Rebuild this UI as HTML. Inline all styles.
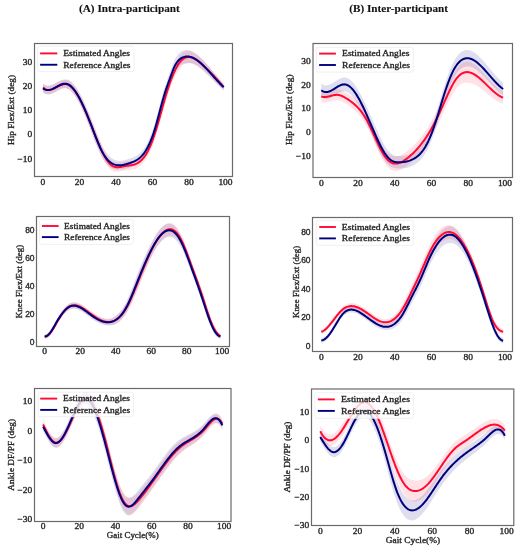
<!DOCTYPE html>
<html><head><meta charset="utf-8"><style>
html,body{margin:0;padding:0;background:#fff;}
body{width:520px;height:550px;overflow:hidden;}
svg{display:block;filter:blur(0.3px);}
text{filter:grayscale(1);stroke:#262626;stroke-width:0.34px;}
text[font-weight=bold]{stroke-width:0.1px;stroke:#111;}
</style></head><body>
<svg width="520" height="550" viewBox="0 0 520 550">
<rect width="520" height="550" fill="#fff"/>
<clipPath id="clipA1"><rect x="34.5" y="43.5" width="198.0" height="133.0"/></clipPath>
<g clip-path="url(#clipA1)">
<path d="M43.00,84.07 L43.76,84.59 L44.51,85.01 L45.27,85.33 L46.02,85.55 L46.78,85.68 L47.54,85.74 L48.29,85.72 L49.05,85.63 L49.80,85.48 L50.56,85.28 L51.32,85.03 L52.07,84.73 L52.83,84.40 L53.58,84.04 L54.34,83.65 L55.10,83.25 L55.85,82.84 L56.61,82.42 L57.36,82.00 L58.12,81.60 L58.88,81.20 L59.63,80.83 L60.39,80.49 L61.14,80.18 L61.90,79.91 L62.66,79.68 L63.41,79.51 L64.17,79.40 L64.92,79.35 L65.68,79.33 L66.43,79.38 L67.19,79.52 L67.95,79.75 L68.70,80.06 L69.46,80.47 L70.21,80.95 L70.97,81.52 L71.73,82.17 L72.48,82.90 L73.24,83.70 L73.99,84.57 L74.75,85.52 L75.51,86.53 L76.26,87.61 L77.02,88.75 L77.77,89.96 L78.53,91.22 L79.29,92.55 L80.04,93.90 L80.80,95.31 L81.55,96.76 L82.31,98.27 L83.07,99.81 L83.82,101.41 L84.58,103.04 L85.33,104.71 L86.09,106.42 L86.85,108.17 L87.60,109.94 L88.36,111.75 L89.11,113.58 L89.87,115.44 L90.63,117.33 L91.38,119.23 L92.14,121.14 L92.89,123.06 L93.65,124.98 L94.41,126.95 L95.16,128.99 L95.92,131.01 L96.67,132.99 L97.43,134.94 L98.19,136.84 L98.94,138.69 L99.70,140.48 L100.45,142.20 L101.21,143.84 L101.97,145.40 L102.72,146.88 L103.48,148.26 L104.23,149.55 L104.99,150.77 L105.74,151.89 L106.50,152.94 L107.26,153.91 L108.01,154.81 L108.77,155.64 L109.52,156.38 L110.28,157.06 L111.04,157.68 L111.79,158.24 L112.55,158.73 L113.30,159.17 L114.06,159.56 L114.82,159.89 L115.57,160.17 L116.33,160.41 L117.08,160.61 L117.84,160.76 L118.60,160.87 L119.35,160.95 L120.11,160.95 L120.86,160.88 L121.62,160.79 L122.38,160.67 L123.13,160.53 L123.89,160.36 L124.64,160.17 L125.40,159.97 L126.16,159.75 L126.91,159.52 L127.67,159.28 L128.42,159.03 L129.18,158.78 L129.94,158.52 L130.69,158.26 L131.45,157.99 L132.20,157.70 L132.96,157.40 L133.72,157.08 L134.47,156.73 L135.23,156.35 L135.98,155.94 L136.74,155.49 L137.50,155.01 L138.25,154.48 L139.01,153.90 L139.76,153.27 L140.52,152.59 L141.28,151.84 L142.03,151.04 L142.79,150.17 L143.54,149.20 L144.30,148.09 L145.05,146.89 L145.81,145.62 L146.57,144.26 L147.32,142.81 L148.08,141.27 L148.83,139.64 L149.59,137.91 L150.35,136.07 L151.10,134.14 L151.86,132.09 L152.61,129.93 L153.37,127.65 L154.13,125.25 L154.88,122.73 L155.64,120.09 L156.39,117.33 L157.15,114.49 L157.91,111.58 L158.66,108.74 L159.42,105.90 L160.17,103.05 L160.93,100.21 L161.69,97.41 L162.44,94.66 L163.20,91.99 L163.95,89.42 L164.71,86.97 L165.47,84.63 L166.22,82.39 L166.98,80.22 L167.73,78.11 L168.49,76.04 L169.25,73.98 L170.00,71.93 L170.76,69.87 L171.51,67.75 L172.27,65.68 L173.03,63.69 L173.78,61.83 L174.54,60.13 L175.29,58.61 L176.05,57.26 L176.81,56.08 L177.56,55.03 L178.32,54.12 L179.07,53.33 L179.83,52.64 L180.59,52.05 L181.34,51.54 L182.10,51.11 L182.85,50.73 L183.61,50.41 L184.36,50.15 L185.12,49.95 L185.88,49.86 L186.63,49.86 L187.39,49.91 L188.14,50.01 L188.90,50.16 L189.66,50.35 L190.41,50.59 L191.17,50.88 L191.92,51.21 L192.68,51.58 L193.44,51.99 L194.19,52.44 L194.95,52.93 L195.70,53.45 L196.46,54.00 L197.22,54.59 L197.97,55.21 L198.73,55.86 L199.48,56.53 L200.24,57.23 L201.00,57.96 L201.75,58.71 L202.51,59.48 L203.26,60.27 L204.02,61.08 L204.78,61.91 L205.53,62.75 L206.29,63.61 L207.04,64.48 L207.80,65.36 L208.56,66.25 L209.31,67.15 L210.07,68.06 L210.82,68.97 L211.58,69.88 L212.34,70.80 L213.09,71.72 L213.85,72.63 L214.60,73.55 L215.36,74.46 L216.12,75.36 L216.87,76.26 L217.63,77.14 L218.38,78.02 L219.14,78.89 L219.90,79.74 L220.65,80.58 L221.41,81.41 L222.16,82.21 L222.92,83.00 L223.67,83.76 L223.67,90.51 L222.92,89.88 L222.16,89.22 L221.41,88.55 L220.65,87.86 L219.90,87.16 L219.14,86.44 L218.38,85.70 L217.63,84.96 L216.87,84.20 L216.12,83.44 L215.36,82.67 L214.60,81.89 L213.85,81.11 L213.09,80.33 L212.34,79.54 L211.58,78.76 L210.82,77.98 L210.07,77.20 L209.31,76.43 L208.56,75.66 L207.80,74.91 L207.04,74.16 L206.29,73.42 L205.53,72.70 L204.78,71.99 L204.02,71.29 L203.26,70.61 L202.51,69.96 L201.75,69.32 L201.00,68.70 L200.24,68.11 L199.48,67.54 L198.73,67.00 L197.97,66.48 L197.22,66.00 L196.46,65.54 L195.70,65.12 L194.95,64.73 L194.19,64.38 L193.44,64.06 L192.68,63.79 L191.92,63.55 L191.17,63.35 L190.41,63.20 L189.66,63.09 L188.90,63.03 L188.14,63.01 L187.39,63.05 L186.63,63.13 L185.88,63.27 L185.12,63.43 L184.36,63.58 L183.61,63.79 L182.85,64.06 L182.10,64.39 L181.34,64.78 L180.59,65.23 L179.83,65.77 L179.07,66.41 L178.32,67.15 L177.56,68.01 L176.81,69.01 L176.05,70.15 L175.29,71.44 L174.54,72.91 L173.78,74.56 L173.03,76.37 L172.27,78.31 L171.51,80.34 L170.76,82.40 L170.00,84.52 L169.25,86.63 L168.49,88.74 L167.73,90.87 L166.98,93.04 L166.22,95.26 L165.47,97.56 L164.71,99.96 L163.95,102.47 L163.20,105.10 L162.44,107.82 L161.69,110.62 L160.93,113.48 L160.17,116.38 L159.42,119.29 L158.66,122.19 L157.91,125.05 L157.15,127.74 L156.39,130.36 L155.64,132.89 L154.88,135.31 L154.13,137.61 L153.37,139.78 L152.61,141.83 L151.86,143.77 L151.10,145.59 L150.35,147.30 L149.59,148.91 L148.83,150.42 L148.08,151.83 L147.32,153.14 L146.57,154.36 L145.81,155.50 L145.05,156.55 L144.30,157.52 L143.54,158.41 L142.79,159.31 L142.03,160.17 L141.28,160.96 L140.52,161.69 L139.76,162.35 L139.01,162.97 L138.25,163.53 L137.50,164.04 L136.74,164.52 L135.98,164.95 L135.23,165.34 L134.47,165.70 L133.72,166.04 L132.96,166.35 L132.20,166.63 L131.45,166.90 L130.69,167.16 L129.94,167.41 L129.18,167.65 L128.42,167.89 L127.67,168.12 L126.91,168.34 L126.16,168.56 L125.40,168.76 L124.64,168.95 L123.89,169.12 L123.13,169.27 L122.38,169.40 L121.62,169.51 L120.86,169.58 L120.11,169.63 L119.35,169.68 L118.60,169.73 L117.84,169.75 L117.08,169.73 L116.33,169.67 L115.57,169.57 L114.82,169.42 L114.06,169.22 L113.30,168.96 L112.55,168.66 L111.79,168.30 L111.04,167.87 L110.28,167.39 L109.52,166.84 L108.77,166.23 L108.01,165.55 L107.26,164.80 L106.50,163.98 L105.74,163.08 L104.99,162.10 L104.23,161.04 L103.48,159.90 L102.72,158.66 L101.97,157.34 L101.21,155.93 L100.45,154.43 L99.70,152.86 L98.94,151.23 L98.19,149.53 L97.43,147.78 L96.67,145.98 L95.92,144.14 L95.16,142.28 L94.41,140.39 L93.65,138.39 L92.89,136.32 L92.14,134.25 L91.38,132.19 L90.63,130.14 L89.87,128.10 L89.11,126.09 L88.36,124.11 L87.60,122.15 L86.85,120.23 L86.09,118.33 L85.33,116.47 L84.58,114.65 L83.82,112.87 L83.07,111.12 L82.31,109.43 L81.55,107.77 L80.80,106.17 L80.04,104.62 L79.29,103.12 L78.53,101.70 L77.77,100.33 L77.02,99.03 L76.26,97.79 L75.51,96.61 L74.75,95.49 L73.99,94.45 L73.24,93.47 L72.48,92.57 L71.73,91.75 L70.97,91.00 L70.21,90.33 L69.46,89.74 L68.70,89.24 L67.95,88.82 L67.19,88.50 L66.43,88.26 L65.68,88.11 L64.92,88.03 L64.17,88.08 L63.41,88.19 L62.66,88.36 L61.90,88.58 L61.14,88.85 L60.39,89.16 L59.63,89.51 L58.88,89.88 L58.12,90.27 L57.36,90.68 L56.61,91.10 L55.85,91.51 L55.10,91.93 L54.34,92.33 L53.58,92.71 L52.83,93.07 L52.07,93.41 L51.32,93.70 L50.56,93.96 L49.80,94.16 L49.05,94.31 L48.29,94.40 L47.54,94.42 L46.78,94.36 L46.02,94.22 L45.27,94.00 L44.51,93.69 L43.76,93.27 L43.00,92.75Z" fill="#00007f" fill-opacity="0.13" stroke="none"/>
<path d="M43.00,83.10 L43.76,83.80 L44.51,84.38 L45.27,84.84 L46.02,85.21 L46.78,85.47 L47.54,85.64 L48.29,85.72 L49.05,85.73 L49.80,85.67 L50.56,85.54 L51.32,85.35 L52.07,85.12 L52.83,84.84 L53.58,84.52 L54.34,84.17 L55.10,83.80 L55.85,83.42 L56.61,83.02 L57.36,82.62 L58.12,82.23 L58.88,81.84 L59.63,81.48 L60.39,81.14 L61.14,80.83 L61.90,80.56 L62.66,80.33 L63.41,80.16 L64.17,80.04 L64.92,79.99 L65.68,79.96 L66.43,80.00 L67.19,80.13 L67.95,80.36 L68.70,80.67 L69.46,81.07 L70.21,81.56 L70.97,82.13 L71.73,82.79 L72.48,83.52 L73.24,84.32 L73.99,85.20 L74.75,86.15 L75.51,87.17 L76.26,88.25 L77.02,89.40 L77.77,90.60 L78.53,91.87 L79.29,93.18 L80.04,94.55 L80.80,95.96 L81.55,97.41 L82.31,98.91 L83.07,100.46 L83.82,102.04 L84.58,103.67 L85.33,105.32 L86.09,107.01 L86.85,108.73 L87.60,110.48 L88.36,112.25 L89.11,114.04 L89.87,115.85 L90.63,117.68 L91.38,119.53 L92.14,121.38 L92.89,123.24 L93.65,125.10 L94.41,127.01 L95.16,128.98 L95.92,130.93 L96.67,132.87 L97.43,134.79 L98.19,136.68 L98.94,138.54 L99.70,140.36 L100.45,142.14 L101.21,143.87 L101.97,145.56 L102.72,147.18 L103.48,148.75 L104.23,150.25 L104.99,151.69 L105.74,153.04 L106.50,154.33 L107.26,155.52 L108.01,156.63 L108.77,157.65 L109.52,158.55 L110.28,159.36 L111.04,160.06 L111.79,160.67 L112.55,161.18 L113.30,161.62 L114.06,161.97 L114.82,162.25 L115.57,162.47 L116.33,162.62 L117.08,162.72 L117.84,162.77 L118.60,162.79 L119.35,162.76 L120.11,162.67 L120.86,162.54 L121.62,162.39 L122.38,162.22 L123.13,162.06 L123.89,161.89 L124.64,161.73 L125.40,161.58 L126.16,161.45 L126.91,161.34 L127.67,161.23 L128.42,161.13 L129.18,161.03 L129.94,160.93 L130.69,160.81 L131.45,160.69 L132.20,160.54 L132.96,160.37 L133.72,160.18 L134.47,159.95 L135.23,159.69 L135.98,159.39 L136.74,159.03 L137.50,158.63 L138.25,158.18 L139.01,157.67 L139.76,157.10 L140.52,156.46 L141.28,155.77 L142.03,155.00 L142.79,154.16 L143.54,153.23 L144.30,152.16 L145.05,151.01 L145.81,149.78 L146.57,148.46 L147.32,147.05 L148.08,145.55 L148.83,143.96 L149.59,142.27 L150.35,140.47 L151.10,138.57 L151.86,136.57 L152.61,134.46 L153.37,132.26 L154.13,129.96 L154.88,127.58 L155.64,125.13 L156.39,122.60 L157.15,120.02 L157.91,117.37 L158.66,114.77 L159.42,112.14 L160.17,109.48 L160.93,106.78 L161.69,104.07 L162.44,101.35 L163.20,98.64 L163.95,95.96 L164.71,93.32 L165.47,90.73 L166.22,88.21 L166.98,85.77 L167.73,83.40 L168.49,81.11 L169.25,78.89 L170.00,76.75 L170.76,74.68 L171.51,72.67 L172.27,70.73 L173.03,68.86 L173.78,67.08 L174.54,65.38 L175.29,63.77 L176.05,62.25 L176.81,60.81 L177.56,59.48 L178.32,58.24 L179.07,57.11 L179.83,56.08 L180.59,55.14 L181.34,54.31 L182.10,53.57 L182.85,52.92 L183.61,52.36 L184.36,51.89 L185.12,51.50 L185.88,51.23 L186.63,51.06 L187.39,50.97 L188.14,50.95 L188.90,50.99 L189.66,51.10 L190.41,51.27 L191.17,51.50 L191.92,51.78 L192.68,52.11 L193.44,52.50 L194.19,52.93 L194.95,53.40 L195.70,53.92 L196.46,54.47 L197.22,55.05 L197.97,55.67 L198.73,56.32 L199.48,56.99 L200.24,57.68 L201.00,58.39 L201.75,59.12 L202.51,59.86 L203.26,60.61 L204.02,61.37 L204.78,62.13 L205.53,62.90 L206.29,63.68 L207.04,64.47 L207.80,65.27 L208.56,66.07 L209.31,66.88 L210.07,67.70 L210.82,68.53 L211.58,69.36 L212.34,70.20 L213.09,71.05 L213.85,71.90 L214.60,72.77 L215.36,73.64 L216.12,74.52 L216.87,75.40 L217.63,76.30 L218.38,77.20 L219.14,78.11 L219.90,79.03 L220.65,79.95 L221.41,80.89 L222.16,81.83 L222.92,82.78 L223.67,83.73 L223.67,90.48 L222.92,89.64 L222.16,88.80 L221.41,87.98 L220.65,87.16 L219.90,86.35 L219.14,85.54 L218.38,84.75 L217.63,83.96 L216.87,83.18 L216.12,82.41 L215.36,81.64 L214.60,80.88 L213.85,80.13 L213.09,79.39 L212.34,78.66 L211.58,77.93 L210.82,77.21 L210.07,76.50 L209.31,75.80 L208.56,75.10 L207.80,74.41 L207.04,73.73 L206.29,73.06 L205.53,72.39 L204.78,71.73 L204.02,71.08 L203.26,70.44 L202.51,69.80 L201.75,69.17 L201.00,68.56 L200.24,67.96 L199.48,67.38 L198.73,66.83 L197.97,66.30 L197.22,65.79 L196.46,65.32 L195.70,64.89 L194.95,64.49 L194.19,64.13 L193.44,63.81 L192.68,63.54 L191.92,63.32 L191.17,63.15 L190.41,63.04 L189.66,62.98 L188.90,62.99 L188.14,63.06 L187.39,63.19 L186.63,63.40 L185.88,63.68 L185.12,64.02 L184.36,64.39 L183.61,64.84 L182.85,65.37 L182.10,65.99 L181.34,66.71 L180.59,67.52 L179.83,68.42 L179.07,69.43 L178.32,70.54 L177.56,71.75 L176.81,73.06 L176.05,74.47 L175.29,75.97 L174.54,77.56 L173.78,79.23 L173.03,80.99 L172.27,82.83 L171.51,84.74 L170.76,86.73 L170.00,88.83 L169.25,91.00 L168.49,93.25 L167.73,95.57 L166.98,97.96 L166.22,100.43 L165.47,102.98 L164.71,105.60 L163.95,108.27 L163.20,110.98 L162.44,113.71 L161.69,116.46 L160.93,119.20 L160.17,121.92 L159.42,124.62 L158.66,127.28 L157.91,129.89 L157.15,132.36 L156.39,134.77 L155.64,137.12 L154.88,139.40 L154.13,141.60 L153.37,143.72 L152.61,145.75 L151.86,147.69 L151.10,149.52 L150.35,151.24 L149.59,152.86 L148.83,154.38 L148.08,155.80 L147.32,157.12 L146.57,158.36 L145.81,159.50 L145.05,160.56 L144.30,161.53 L143.54,162.43 L142.79,163.31 L142.03,164.13 L141.28,164.88 L140.52,165.56 L139.76,166.18 L139.01,166.74 L138.25,167.23 L137.50,167.67 L136.74,168.06 L135.98,168.39 L135.23,168.68 L134.47,168.93 L133.72,169.14 L132.96,169.32 L132.20,169.47 L131.45,169.60 L130.69,169.71 L129.94,169.81 L129.18,169.90 L128.42,169.98 L127.67,170.07 L126.91,170.16 L126.16,170.26 L125.40,170.37 L124.64,170.51 L123.89,170.65 L123.13,170.80 L122.38,170.96 L121.62,171.10 L120.86,171.24 L120.11,171.36 L119.35,171.48 L118.60,171.60 L117.84,171.69 L117.08,171.74 L116.33,171.73 L115.57,171.68 L114.82,171.56 L114.06,171.38 L113.30,171.13 L112.55,170.80 L111.79,170.38 L111.04,169.88 L110.28,169.27 L109.52,168.57 L108.77,167.76 L108.01,166.87 L107.26,165.88 L106.50,164.81 L105.74,163.65 L104.99,162.42 L104.23,161.11 L103.48,159.73 L102.72,158.29 L101.97,156.79 L101.21,155.23 L100.45,153.62 L99.70,151.97 L98.94,150.27 L98.19,148.54 L97.43,146.77 L96.67,144.98 L95.92,143.17 L95.16,141.33 L94.41,139.49 L93.65,137.56 L92.89,135.57 L92.14,133.59 L91.38,131.61 L90.63,129.64 L89.87,127.69 L89.11,125.75 L88.36,123.83 L87.60,121.94 L86.85,120.06 L86.09,118.22 L85.33,116.41 L84.58,114.63 L83.82,112.88 L83.07,111.17 L82.31,109.50 L81.55,107.87 L80.80,106.29 L80.04,104.76 L79.29,103.28 L78.53,101.86 L77.77,100.50 L77.02,99.19 L76.26,97.94 L75.51,96.76 L74.75,95.65 L73.99,94.60 L73.24,93.62 L72.48,92.71 L71.73,91.88 L70.97,91.13 L70.21,90.46 L69.46,89.87 L68.70,89.37 L67.95,88.95 L67.19,88.63 L66.43,88.40 L65.68,88.25 L64.92,88.19 L64.17,88.25 L63.41,88.38 L62.66,88.57 L61.90,88.82 L61.14,89.10 L60.39,89.43 L59.63,89.79 L58.88,90.17 L58.12,90.57 L57.36,90.98 L56.61,91.40 L55.85,91.81 L55.10,92.21 L54.34,92.60 L53.58,92.96 L52.83,93.30 L52.07,93.60 L51.32,93.85 L50.56,94.05 L49.80,94.19 L49.05,94.27 L48.29,94.28 L47.54,94.21 L46.78,94.06 L46.02,93.81 L45.27,93.47 L44.51,93.02 L43.76,92.46 L43.00,91.78Z" fill="#ff0a33" fill-opacity="0.12" stroke="none"/>
<path d="M43.00,87.44 L43.76,88.13 L44.51,88.70 L45.27,89.16 L46.02,89.51 L46.78,89.76 L47.54,89.93 L48.29,90.00 L49.05,90.00 L49.80,89.93 L50.56,89.80 L51.32,89.60 L52.07,89.36 L52.83,89.07 L53.58,88.74 L54.34,88.39 L55.10,88.01 L55.85,87.61 L56.61,87.21 L57.36,86.80 L58.12,86.40 L58.88,86.01 L59.63,85.63 L60.39,85.28 L61.14,84.97 L61.90,84.69 L62.66,84.45 L63.41,84.27 L64.17,84.15 L64.92,84.09 L65.68,84.11 L66.43,84.20 L67.19,84.38 L67.95,84.66 L68.70,85.02 L69.46,85.47 L70.21,86.01 L70.97,86.63 L71.73,87.33 L72.48,88.11 L73.24,88.97 L73.99,89.90 L74.75,90.90 L75.51,91.96 L76.26,93.10 L77.02,94.29 L77.77,95.55 L78.53,96.86 L79.29,98.23 L80.04,99.65 L80.80,101.12 L81.55,102.64 L82.31,104.21 L83.07,105.81 L83.82,107.46 L84.58,109.15 L85.33,110.86 L86.09,112.62 L86.85,114.40 L87.60,116.21 L88.36,118.04 L89.11,119.90 L89.87,121.77 L90.63,123.66 L91.38,125.57 L92.14,127.49 L92.89,129.41 L93.65,131.33 L94.41,133.25 L95.16,135.16 L95.92,137.05 L96.67,138.93 L97.43,140.78 L98.19,142.61 L98.94,144.41 L99.70,146.16 L100.45,147.88 L101.21,149.55 L101.97,151.17 L102.72,152.74 L103.48,154.24 L104.23,155.68 L104.99,157.05 L105.74,158.35 L106.50,159.57 L107.26,160.70 L108.01,161.75 L108.77,162.70 L109.52,163.56 L110.28,164.32 L111.04,164.97 L111.79,165.53 L112.55,165.99 L113.30,166.37 L114.06,166.68 L114.82,166.91 L115.57,167.07 L116.33,167.18 L117.08,167.23 L117.84,167.23 L118.60,167.19 L119.35,167.12 L120.11,167.02 L120.86,166.89 L121.62,166.75 L122.38,166.59 L123.13,166.43 L123.89,166.27 L124.64,166.12 L125.40,165.98 L126.16,165.85 L126.91,165.75 L127.67,165.65 L128.42,165.56 L129.18,165.46 L129.94,165.37 L130.69,165.26 L131.45,165.14 L132.20,165.01 L132.96,164.85 L133.72,164.66 L134.47,164.44 L135.23,164.19 L135.98,163.89 L136.74,163.55 L137.50,163.15 L138.25,162.71 L139.01,162.20 L139.76,161.64 L140.52,161.01 L141.28,160.32 L142.03,159.56 L142.79,158.73 L143.54,157.83 L144.30,156.85 L145.05,155.78 L145.81,154.64 L146.57,153.41 L147.32,152.09 L148.08,150.68 L148.83,149.17 L149.59,147.56 L150.35,145.86 L151.10,144.05 L151.86,142.13 L152.61,140.11 L153.37,137.99 L154.13,135.78 L154.88,133.49 L155.64,131.12 L156.39,128.69 L157.15,126.19 L157.91,123.63 L158.66,121.03 L159.42,118.38 L160.17,115.70 L160.93,112.99 L161.69,110.26 L162.44,107.53 L163.20,104.81 L163.95,102.11 L164.71,99.46 L165.47,96.86 L166.22,94.32 L166.98,91.87 L167.73,89.49 L168.49,87.18 L169.25,84.95 L170.00,82.79 L170.76,80.71 L171.51,78.70 L172.27,76.78 L173.03,74.93 L173.78,73.16 L174.54,71.47 L175.29,69.87 L176.05,68.36 L176.81,66.94 L177.56,65.62 L178.32,64.39 L179.07,63.27 L179.83,62.25 L180.59,61.33 L181.34,60.51 L182.10,59.78 L182.85,59.15 L183.61,58.60 L184.36,58.14 L185.12,57.76 L185.88,57.46 L186.63,57.23 L187.39,57.08 L188.14,57.00 L188.90,56.99 L189.66,57.04 L190.41,57.15 L191.17,57.32 L191.92,57.55 L192.68,57.83 L193.44,58.15 L194.19,58.53 L194.95,58.94 L195.70,59.40 L196.46,59.90 L197.22,60.42 L197.97,60.98 L198.73,61.57 L199.48,62.18 L200.24,62.82 L201.00,63.47 L201.75,64.14 L202.51,64.83 L203.26,65.52 L204.02,66.22 L204.78,66.93 L205.53,67.65 L206.29,68.37 L207.04,69.10 L207.80,69.84 L208.56,70.59 L209.31,71.34 L210.07,72.10 L210.82,72.87 L211.58,73.65 L212.34,74.43 L213.09,75.22 L213.85,76.02 L214.60,76.83 L215.36,77.64 L216.12,78.46 L216.87,79.29 L217.63,80.13 L218.38,80.97 L219.14,81.83 L219.90,82.69 L220.65,83.56 L221.41,84.43 L222.16,85.32 L222.92,86.21 L223.67,87.11" fill="none" stroke="#ff0a33" stroke-width="2" stroke-linejoin="round" stroke-linecap="butt"/>
<path d="M43.00,88.41 L43.76,88.93 L44.51,89.35 L45.27,89.66 L46.02,89.89 L46.78,90.02 L47.54,90.08 L48.29,90.06 L49.05,89.97 L49.80,89.82 L50.56,89.62 L51.32,89.36 L52.07,89.07 L52.83,88.74 L53.58,88.38 L54.34,87.99 L55.10,87.59 L55.85,87.17 L56.61,86.76 L57.36,86.34 L58.12,85.93 L58.88,85.54 L59.63,85.17 L60.39,84.83 L61.14,84.52 L61.90,84.25 L62.66,84.02 L63.41,83.85 L64.17,83.74 L64.92,83.69 L65.68,83.72 L66.43,83.82 L67.19,84.01 L67.95,84.29 L68.70,84.65 L69.46,85.10 L70.21,85.64 L70.97,86.26 L71.73,86.96 L72.48,87.73 L73.24,88.59 L73.99,89.51 L74.75,90.51 L75.51,91.57 L76.26,92.70 L77.02,93.89 L77.77,95.15 L78.53,96.46 L79.29,97.83 L80.04,99.26 L80.80,100.74 L81.55,102.27 L82.31,103.85 L83.07,105.47 L83.82,107.14 L84.58,108.85 L85.33,110.59 L86.09,112.38 L86.85,114.20 L87.60,116.05 L88.36,117.93 L89.11,119.84 L89.87,121.77 L90.63,123.73 L91.38,125.71 L92.14,127.70 L92.89,129.69 L93.65,131.69 L94.41,133.67 L95.16,135.63 L95.92,137.58 L96.67,139.49 L97.43,141.36 L98.19,143.18 L98.94,144.96 L99.70,146.67 L100.45,148.31 L101.21,149.88 L101.97,151.37 L102.72,152.77 L103.48,154.08 L104.23,155.30 L104.99,156.43 L105.74,157.49 L106.50,158.46 L107.26,159.36 L108.01,160.18 L108.77,160.93 L109.52,161.61 L110.28,162.23 L111.04,162.78 L111.79,163.27 L112.55,163.69 L113.30,164.07 L114.06,164.39 L114.82,164.65 L115.57,164.87 L116.33,165.04 L117.08,165.17 L117.84,165.26 L118.60,165.30 L119.35,165.31 L120.11,165.29 L120.86,165.23 L121.62,165.15 L122.38,165.04 L123.13,164.90 L123.89,164.74 L124.64,164.56 L125.40,164.37 L126.16,164.15 L126.91,163.93 L127.67,163.70 L128.42,163.46 L129.18,163.21 L129.94,162.97 L130.69,162.71 L131.45,162.45 L132.20,162.17 L132.96,161.87 L133.72,161.56 L134.47,161.22 L135.23,160.85 L135.98,160.44 L136.74,160.00 L137.50,159.53 L138.25,159.00 L139.01,158.43 L139.76,157.81 L140.52,157.14 L141.28,156.40 L142.03,155.60 L142.79,154.74 L143.54,153.81 L144.30,152.80 L145.05,151.72 L145.81,150.56 L146.57,149.31 L147.32,147.97 L148.08,146.55 L148.83,145.03 L149.59,143.41 L150.35,141.69 L151.10,139.86 L151.86,137.93 L152.61,135.88 L153.37,133.72 L154.13,131.43 L154.88,129.02 L155.64,126.49 L156.39,123.85 L157.15,121.12 L157.91,118.31 L158.66,115.47 L159.42,112.59 L160.17,109.71 L160.93,106.84 L161.69,104.01 L162.44,101.24 L163.20,98.54 L163.95,95.95 L164.71,93.47 L165.47,91.10 L166.22,88.82 L166.98,86.63 L167.73,84.49 L168.49,82.39 L169.25,80.31 L170.00,78.23 L170.76,76.14 L171.51,74.05 L172.27,72.00 L173.03,70.03 L173.78,68.19 L174.54,66.52 L175.29,65.03 L176.05,63.71 L176.81,62.54 L177.56,61.52 L178.32,60.64 L179.07,59.87 L179.83,59.21 L180.59,58.64 L181.34,58.16 L182.10,57.75 L182.85,57.39 L183.61,57.10 L184.36,56.87 L185.12,56.69 L185.88,56.56 L186.63,56.49 L187.39,56.48 L188.14,56.51 L188.90,56.59 L189.66,56.72 L190.41,56.90 L191.17,57.12 L191.92,57.38 L192.68,57.68 L193.44,58.03 L194.19,58.41 L194.95,58.83 L195.70,59.28 L196.46,59.77 L197.22,60.29 L197.97,60.85 L198.73,61.43 L199.48,62.04 L200.24,62.67 L201.00,63.33 L201.75,64.01 L202.51,64.72 L203.26,65.44 L204.02,66.19 L204.78,66.95 L205.53,67.73 L206.29,68.52 L207.04,69.32 L207.80,70.13 L208.56,70.96 L209.31,71.79 L210.07,72.63 L210.82,73.47 L211.58,74.32 L212.34,75.17 L213.09,76.02 L213.85,76.87 L214.60,77.72 L215.36,78.56 L216.12,79.40 L216.87,80.23 L217.63,81.05 L218.38,81.86 L219.14,82.66 L219.90,83.45 L220.65,84.22 L221.41,84.98 L222.16,85.72 L222.92,86.44 L223.67,87.14" fill="none" stroke="#00007f" stroke-width="2" stroke-linejoin="round" stroke-linecap="butt"/>
</g>
<rect x="34.5" y="43.5" width="198.0" height="133.0" fill="none" stroke="#6a6a6a" stroke-width="1.2"/>
<clipPath id="clipB1"><rect x="313.0" y="43.5" width="199.5" height="134.0"/></clipPath>
<g clip-path="url(#clipB1)">
<path d="M321.30,83.57 L322.06,84.13 L322.82,84.58 L323.58,84.93 L324.34,85.17 L325.10,85.31 L325.87,85.37 L326.63,85.34 L327.39,85.24 L328.15,85.07 L328.91,84.84 L329.67,84.55 L330.43,84.22 L331.19,83.84 L331.95,83.43 L332.71,82.98 L333.47,82.52 L334.24,82.04 L335.00,81.55 L335.76,81.06 L336.52,80.58 L337.28,80.11 L338.04,79.65 L338.80,79.22 L339.56,78.82 L340.32,78.46 L341.08,78.15 L341.85,77.88 L342.61,77.68 L343.37,77.53 L344.13,77.44 L344.89,77.43 L345.65,77.50 L346.41,77.67 L347.17,77.92 L347.93,78.26 L348.69,78.69 L349.45,79.19 L350.22,79.78 L350.98,80.44 L351.74,81.18 L352.50,81.99 L353.26,82.87 L354.02,83.81 L354.78,84.82 L355.54,85.89 L356.30,87.02 L357.06,88.20 L357.82,89.44 L358.59,90.73 L359.35,92.07 L360.11,93.45 L360.87,94.88 L361.63,96.34 L362.39,97.83 L363.15,99.35 L363.91,100.91 L364.67,102.49 L365.43,104.10 L366.20,105.74 L366.96,107.40 L367.72,109.08 L368.48,110.77 L369.24,112.48 L370.00,114.20 L370.76,115.93 L371.52,117.66 L372.28,119.38 L373.04,121.10 L373.80,122.81 L374.57,124.51 L375.33,126.19 L376.09,127.85 L376.85,129.57 L377.61,131.33 L378.37,133.05 L379.13,134.74 L379.89,136.38 L380.65,137.98 L381.41,139.54 L382.17,141.04 L382.94,142.49 L383.70,143.87 L384.46,145.20 L385.22,146.46 L385.98,147.64 L386.74,148.75 L387.50,149.79 L388.26,150.74 L389.02,151.60 L389.78,152.38 L390.54,153.08 L391.31,153.70 L392.07,154.25 L392.83,154.73 L393.59,155.14 L394.35,155.50 L395.11,155.76 L395.87,155.91 L396.63,156.02 L397.39,156.09 L398.15,156.12 L398.92,156.12 L399.68,156.10 L400.44,156.06 L401.20,156.01 L401.96,155.94 L402.72,155.85 L403.48,155.75 L404.24,155.63 L405.00,155.49 L405.76,155.34 L406.52,155.16 L407.29,154.96 L408.05,154.75 L408.81,154.51 L409.57,154.24 L410.33,153.95 L411.09,153.64 L411.85,153.30 L412.61,152.93 L413.37,152.54 L414.13,152.11 L414.89,151.65 L415.66,151.15 L416.42,150.61 L417.18,150.03 L417.94,149.40 L418.70,148.72 L419.46,147.99 L420.22,147.21 L420.98,146.36 L421.74,145.45 L422.50,144.48 L423.27,143.44 L424.03,142.33 L424.79,141.14 L425.55,139.88 L426.31,138.53 L427.07,137.10 L427.83,135.59 L428.59,133.99 L429.35,132.29 L430.11,130.51 L430.87,128.64 L431.64,126.68 L432.40,124.57 L433.16,122.39 L433.92,120.14 L434.68,117.82 L435.44,115.44 L436.20,113.00 L436.96,110.51 L437.72,107.98 L438.48,105.40 L439.24,102.81 L440.01,100.19 L440.77,97.58 L441.53,94.96 L442.29,92.37 L443.05,89.86 L443.81,87.42 L444.57,85.03 L445.33,82.68 L446.09,80.40 L446.85,78.18 L447.61,76.03 L448.38,73.94 L449.14,71.93 L449.90,70.00 L450.66,68.15 L451.42,66.39 L452.18,64.72 L452.94,63.14 L453.70,61.67 L454.46,60.29 L455.22,59.01 L455.99,57.82 L456.75,56.72 L457.51,55.72 L458.27,54.80 L459.03,53.97 L459.79,53.22 L460.55,52.55 L461.31,51.96 L462.07,51.45 L462.83,51.01 L463.59,50.65 L464.36,50.36 L465.12,50.16 L465.88,50.04 L466.64,49.99 L467.40,49.99 L468.16,50.06 L468.92,50.19 L469.68,50.37 L470.44,50.61 L471.20,50.90 L471.96,51.24 L472.73,51.62 L473.49,52.05 L474.25,52.53 L475.01,53.05 L475.77,53.60 L476.53,54.20 L477.29,54.83 L478.05,55.49 L478.81,56.18 L479.57,56.91 L480.34,57.65 L481.10,58.43 L481.86,59.22 L482.62,60.04 L483.38,60.89 L484.14,61.77 L484.90,62.66 L485.66,63.56 L486.42,64.47 L487.18,65.39 L487.94,66.32 L488.71,67.24 L489.47,68.18 L490.23,69.11 L490.99,70.03 L491.75,70.96 L492.51,71.87 L493.27,72.78 L494.03,73.68 L494.79,74.56 L495.55,75.43 L496.31,76.28 L497.08,77.11 L497.84,77.92 L498.60,78.71 L499.36,79.47 L500.12,80.20 L500.88,80.90 L501.64,81.58 L502.40,82.21 L503.16,82.81 L503.16,95.16 L502.40,94.67 L501.64,94.14 L500.88,93.58 L500.12,92.98 L499.36,92.36 L498.60,91.70 L497.84,91.02 L497.08,90.32 L496.31,89.60 L495.55,88.85 L494.79,88.09 L494.03,87.32 L493.27,86.53 L492.51,85.73 L491.75,84.92 L490.99,84.10 L490.23,83.28 L489.47,82.46 L488.71,81.63 L487.94,80.81 L487.18,79.99 L486.42,79.18 L485.66,78.38 L484.90,77.58 L484.14,76.80 L483.38,76.03 L482.62,75.27 L481.86,74.51 L481.10,73.77 L480.34,73.06 L479.57,72.37 L478.81,71.70 L478.05,71.07 L477.29,70.47 L476.53,69.90 L475.77,69.36 L475.01,68.86 L474.25,68.41 L473.49,67.99 L472.73,67.62 L471.96,67.29 L471.20,67.01 L470.44,66.78 L469.68,66.60 L468.92,66.48 L468.16,66.41 L467.40,66.40 L466.64,66.45 L465.88,66.57 L465.12,66.74 L464.36,66.98 L463.59,67.25 L462.83,67.60 L462.07,68.02 L461.31,68.51 L460.55,69.09 L459.79,69.74 L459.03,70.47 L458.27,71.29 L457.51,72.19 L456.75,73.18 L455.99,74.26 L455.22,75.43 L454.46,76.69 L453.70,78.06 L452.94,79.52 L452.18,81.07 L451.42,82.73 L450.66,84.47 L449.90,86.31 L449.14,88.22 L448.38,90.22 L447.61,92.28 L446.85,94.42 L446.09,96.63 L445.33,98.89 L444.57,101.22 L443.81,103.60 L443.05,106.02 L442.29,108.45 L441.53,110.85 L440.77,113.27 L440.01,115.69 L439.24,118.10 L438.48,120.50 L437.72,122.88 L436.96,125.22 L436.20,127.51 L435.44,129.75 L434.68,131.94 L433.92,134.06 L433.16,136.11 L432.40,138.10 L431.64,140.01 L430.87,141.93 L430.11,143.77 L429.35,145.53 L428.59,147.21 L427.83,148.79 L427.07,150.29 L426.31,151.70 L425.55,153.02 L424.79,154.27 L424.03,155.43 L423.27,156.53 L422.50,157.55 L421.74,158.50 L420.98,159.39 L420.22,160.21 L419.46,160.98 L418.70,161.69 L417.94,162.35 L417.18,162.96 L416.42,163.52 L415.66,164.04 L414.89,164.52 L414.13,164.96 L413.37,165.37 L412.61,165.74 L411.85,166.09 L411.09,166.41 L410.33,166.70 L409.57,166.97 L408.81,167.22 L408.05,167.44 L407.29,167.64 L406.52,167.82 L405.76,167.97 L405.00,168.11 L404.24,168.23 L403.48,168.33 L402.72,168.41 L401.96,168.47 L401.20,168.52 L400.44,168.56 L399.68,168.58 L398.92,168.58 L398.15,168.56 L397.39,168.50 L396.63,168.42 L395.87,168.29 L395.11,168.12 L394.35,167.97 L393.59,167.80 L392.83,167.58 L392.07,167.30 L391.31,166.95 L390.54,166.52 L389.78,166.02 L389.02,165.44 L388.26,164.77 L387.50,164.02 L386.74,163.18 L385.98,162.27 L385.22,161.28 L384.46,160.22 L383.70,159.09 L382.94,157.90 L382.17,156.65 L381.41,155.34 L380.65,153.99 L379.89,152.58 L379.13,151.13 L378.37,149.64 L377.61,148.12 L376.85,146.56 L376.09,144.91 L375.33,143.15 L374.57,141.37 L373.80,139.58 L373.04,137.77 L372.28,135.95 L371.52,134.12 L370.76,132.30 L370.00,130.47 L369.24,128.66 L368.48,126.85 L367.72,125.05 L366.96,123.28 L366.20,121.52 L365.43,119.78 L364.67,118.07 L363.91,116.39 L363.15,114.74 L362.39,113.12 L361.63,111.54 L360.87,110.01 L360.11,108.53 L359.35,107.08 L358.59,105.69 L357.82,104.34 L357.06,103.04 L356.30,101.80 L355.54,100.61 L354.78,99.48 L354.02,98.41 L353.26,97.41 L352.50,96.47 L351.74,95.61 L350.98,94.81 L350.22,94.09 L349.45,93.44 L348.69,92.88 L347.93,92.39 L347.17,91.99 L346.41,91.68 L345.65,91.46 L344.89,91.33 L344.13,91.28 L343.37,91.31 L342.61,91.43 L341.85,91.62 L341.08,91.87 L340.32,92.17 L339.56,92.51 L338.80,92.90 L338.04,93.31 L337.28,93.75 L336.52,94.21 L335.76,94.68 L335.00,95.15 L334.24,95.62 L333.47,96.08 L332.71,96.53 L331.95,96.96 L331.19,97.35 L330.43,97.71 L329.67,98.03 L328.91,98.30 L328.15,98.52 L327.39,98.67 L326.63,98.76 L325.87,98.77 L325.10,98.70 L324.34,98.53 L323.58,98.28 L322.82,97.92 L322.06,97.45 L321.30,96.87Z" fill="#00007f" fill-opacity="0.13" stroke="none"/>
<path d="M321.30,91.04 L322.06,91.26 L322.82,91.42 L323.58,91.51 L324.34,91.54 L325.10,91.52 L325.87,91.46 L326.63,91.36 L327.39,91.23 L328.15,91.08 L328.91,90.90 L329.67,90.71 L330.43,90.51 L331.19,90.31 L331.95,90.12 L332.71,89.93 L333.47,89.76 L334.24,89.62 L335.00,89.50 L335.76,89.42 L336.52,89.38 L337.28,89.38 L338.04,89.44 L338.80,89.55 L339.56,89.72 L340.32,89.94 L341.08,90.21 L341.85,90.52 L342.61,90.87 L343.37,91.24 L344.13,91.62 L344.89,92.03 L345.65,92.46 L346.41,92.90 L347.17,93.36 L347.93,93.83 L348.69,94.30 L349.45,94.79 L350.22,95.30 L350.98,95.82 L351.74,96.36 L352.50,96.92 L353.26,97.50 L354.02,98.11 L354.78,98.75 L355.54,99.41 L356.30,100.10 L357.06,100.83 L357.82,101.59 L358.59,102.39 L359.35,103.23 L360.11,104.11 L360.87,105.03 L361.63,106.00 L362.39,107.01 L363.15,108.07 L363.91,109.19 L364.67,110.36 L365.43,111.58 L366.20,112.86 L366.96,114.20 L367.72,115.60 L368.48,117.05 L369.24,118.54 L370.00,120.08 L370.76,121.65 L371.52,123.25 L372.28,124.87 L373.04,126.51 L373.80,128.16 L374.57,129.81 L375.33,131.46 L376.09,133.10 L376.85,134.73 L377.61,136.33 L378.37,137.91 L379.13,139.46 L379.89,140.97 L380.65,142.44 L381.41,143.85 L382.17,145.21 L382.94,146.50 L383.70,147.73 L384.46,148.88 L385.22,149.95 L385.98,150.93 L386.74,151.83 L387.50,152.63 L388.26,153.34 L389.02,153.97 L389.78,154.51 L390.54,154.98 L391.31,155.36 L392.07,155.68 L392.83,155.92 L393.59,156.09 L394.35,156.20 L395.11,156.25 L395.87,156.27 L396.63,156.22 L397.39,156.12 L398.15,155.97 L398.92,155.77 L399.68,155.52 L400.44,155.22 L401.20,154.88 L401.96,154.50 L402.72,154.09 L403.48,153.64 L404.24,153.16 L405.00,152.65 L405.76,152.12 L406.52,151.56 L407.29,150.98 L408.05,150.38 L408.81,149.77 L409.57,149.14 L410.33,148.49 L411.09,147.82 L411.85,147.13 L412.61,146.42 L413.37,145.70 L414.13,144.95 L414.89,144.18 L415.66,143.39 L416.42,142.58 L417.18,141.75 L417.94,140.89 L418.70,140.01 L419.46,139.11 L420.22,138.19 L420.98,137.24 L421.74,136.27 L422.50,135.27 L423.27,134.25 L424.03,133.20 L424.79,132.13 L425.55,131.03 L426.31,129.90 L427.07,128.75 L427.83,127.57 L428.59,126.36 L429.35,125.12 L430.11,123.86 L430.87,122.57 L431.64,121.23 L432.40,119.79 L433.16,118.33 L433.92,116.83 L434.68,115.30 L435.44,113.74 L436.20,112.15 L436.96,110.53 L437.72,108.87 L438.48,107.19 L439.24,105.49 L440.01,103.76 L440.77,102.02 L441.53,100.26 L442.29,98.49 L443.05,96.72 L443.81,94.94 L444.57,93.16 L445.33,91.38 L446.09,89.60 L446.85,87.84 L447.61,86.09 L448.38,84.36 L449.14,82.66 L449.90,80.99 L450.66,79.37 L451.42,77.80 L452.18,76.28 L452.94,74.81 L453.70,73.41 L454.46,72.09 L455.22,70.83 L455.99,69.66 L456.75,68.58 L457.51,67.58 L458.27,66.67 L459.03,65.84 L459.79,65.09 L460.55,64.41 L461.31,63.82 L462.07,63.29 L462.83,62.84 L463.59,62.46 L464.36,62.14 L465.12,61.89 L465.88,61.70 L466.64,61.57 L467.40,61.50 L468.16,61.49 L468.92,61.67 L469.68,61.93 L470.44,62.24 L471.20,62.59 L471.96,62.99 L472.73,63.44 L473.49,63.92 L474.25,64.45 L475.01,65.00 L475.77,65.60 L476.53,66.22 L477.29,66.88 L478.05,67.56 L478.81,68.27 L479.57,69.00 L480.34,69.76 L481.10,70.53 L481.86,71.32 L482.62,72.12 L483.38,72.94 L484.14,73.77 L484.90,74.60 L485.66,75.44 L486.42,76.29 L487.18,77.14 L487.94,78.00 L488.71,78.85 L489.47,79.70 L490.23,80.55 L490.99,81.38 L491.75,82.20 L492.51,83.01 L493.27,83.80 L494.03,84.57 L494.79,85.33 L495.55,86.06 L496.31,86.77 L497.08,87.45 L497.84,88.10 L498.60,88.72 L499.36,89.31 L500.12,89.86 L500.88,90.37 L501.64,90.85 L502.40,91.28 L503.16,91.67 L503.16,103.55 L502.40,103.38 L501.64,103.16 L500.88,102.90 L500.12,102.61 L499.36,102.28 L498.60,101.91 L497.84,101.50 L497.08,101.07 L496.31,100.61 L495.55,100.12 L494.79,99.61 L494.03,99.07 L493.27,98.52 L492.51,97.94 L491.75,97.35 L490.99,96.75 L490.23,96.14 L489.47,95.51 L488.71,94.88 L487.94,94.25 L487.18,93.61 L486.42,92.97 L485.66,92.32 L484.90,91.68 L484.14,91.04 L483.38,90.41 L482.62,89.79 L481.86,89.18 L481.10,88.59 L480.34,88.01 L479.57,87.45 L478.81,86.92 L478.05,86.41 L477.29,85.92 L476.53,85.46 L475.77,85.03 L475.01,84.63 L474.25,84.27 L473.49,83.95 L472.73,83.66 L471.96,83.41 L471.20,83.21 L470.44,83.05 L469.68,82.94 L468.92,82.88 L468.16,82.84 L467.40,82.72 L466.64,82.65 L465.88,82.64 L465.12,82.70 L464.36,82.81 L463.59,82.99 L462.83,83.23 L462.07,83.55 L461.31,83.93 L460.55,84.39 L459.79,84.93 L459.03,85.54 L458.27,86.23 L457.51,87.01 L456.75,87.87 L455.99,88.81 L455.22,89.85 L454.46,90.96 L453.70,92.15 L452.94,93.42 L452.18,94.74 L451.42,96.13 L450.66,97.56 L449.90,99.04 L449.14,100.55 L448.38,102.10 L447.61,103.67 L446.85,105.26 L446.09,106.87 L445.33,108.49 L444.57,110.11 L443.81,111.73 L443.05,113.35 L442.29,114.97 L441.53,116.58 L440.77,118.18 L440.01,119.77 L439.24,121.34 L438.48,122.88 L437.72,124.41 L436.96,125.90 L436.20,127.37 L435.44,128.80 L434.68,130.20 L433.92,131.58 L433.16,132.92 L432.40,134.22 L431.64,135.50 L430.87,136.82 L430.11,138.13 L429.35,139.40 L428.59,140.65 L427.83,141.87 L427.07,143.06 L426.31,144.22 L425.55,145.36 L424.79,146.46 L424.03,147.55 L423.27,148.61 L422.50,149.64 L421.74,150.64 L420.98,151.63 L420.22,152.58 L419.46,153.52 L418.70,154.43 L417.94,155.32 L417.18,156.18 L416.42,157.02 L415.66,157.84 L414.89,158.64 L414.13,159.42 L413.37,160.18 L412.61,160.92 L411.85,161.63 L411.09,162.33 L410.33,163.01 L409.57,163.67 L408.81,164.31 L408.05,164.94 L407.29,165.55 L406.52,166.13 L405.76,166.70 L405.00,167.25 L404.24,167.76 L403.48,168.25 L402.72,168.71 L401.96,169.14 L401.20,169.52 L400.44,169.87 L399.68,170.18 L398.92,170.44 L398.15,170.65 L397.39,170.81 L396.63,170.92 L395.87,170.98 L395.11,170.97 L394.35,170.89 L393.59,170.73 L392.83,170.50 L392.07,170.20 L391.31,169.83 L390.54,169.39 L389.78,168.87 L389.02,168.27 L388.26,167.58 L387.50,166.81 L386.74,165.96 L385.98,165.01 L385.22,163.97 L384.46,162.84 L383.70,161.64 L382.94,160.35 L382.17,159.00 L381.41,157.59 L380.65,156.12 L379.89,154.60 L379.13,153.03 L378.37,151.43 L377.61,149.79 L376.85,148.13 L376.09,146.44 L375.33,144.75 L374.57,143.04 L373.80,141.33 L373.04,139.63 L372.28,137.93 L371.52,136.26 L370.76,134.60 L370.00,132.97 L369.24,131.38 L368.48,129.83 L367.72,128.32 L366.96,126.87 L366.20,125.47 L365.43,124.14 L364.67,122.86 L363.91,121.63 L363.15,120.46 L362.39,119.34 L361.63,118.27 L360.87,117.25 L360.11,116.27 L359.35,115.34 L358.59,114.44 L357.82,113.59 L357.06,112.77 L356.30,111.99 L355.54,111.23 L354.78,110.52 L354.02,109.82 L353.26,109.16 L352.50,108.52 L351.74,107.90 L350.98,107.31 L350.22,106.73 L349.45,106.17 L348.69,105.62 L347.93,105.09 L347.17,104.57 L346.41,104.05 L345.65,103.55 L344.89,103.07 L344.13,102.61 L343.37,102.17 L342.61,101.79 L341.85,101.44 L341.08,101.14 L340.32,100.87 L339.56,100.65 L338.80,100.48 L338.04,100.36 L337.28,100.31 L336.52,100.30 L335.76,100.34 L335.00,100.42 L334.24,100.54 L333.47,100.69 L332.71,100.86 L331.95,101.04 L331.19,101.24 L330.43,101.44 L329.67,101.63 L328.91,101.83 L328.15,102.00 L327.39,102.16 L326.63,102.29 L325.87,102.39 L325.10,102.45 L324.34,102.47 L323.58,102.43 L322.82,102.34 L322.06,102.19 L321.30,101.97Z" fill="#ff0a33" fill-opacity="0.12" stroke="none"/>
<path d="M321.30,96.51 L322.06,96.73 L322.82,96.88 L323.58,96.97 L324.34,97.00 L325.10,96.99 L325.87,96.93 L326.63,96.83 L327.39,96.70 L328.15,96.54 L328.91,96.36 L329.67,96.17 L330.43,95.97 L331.19,95.77 L331.95,95.58 L332.71,95.39 L333.47,95.22 L334.24,95.08 L335.00,94.96 L335.76,94.88 L336.52,94.84 L337.28,94.84 L338.04,94.90 L338.80,95.02 L339.56,95.19 L340.32,95.41 L341.08,95.67 L341.85,95.98 L342.61,96.33 L343.37,96.71 L344.13,97.12 L344.89,97.55 L345.65,98.01 L346.41,98.48 L347.17,98.96 L347.93,99.46 L348.69,99.96 L349.45,100.48 L350.22,101.01 L350.98,101.56 L351.74,102.13 L352.50,102.72 L353.26,103.33 L354.02,103.97 L354.78,104.63 L355.54,105.32 L356.30,106.04 L357.06,106.80 L357.82,107.59 L358.59,108.42 L359.35,109.28 L360.11,110.19 L360.87,111.14 L361.63,112.13 L362.39,113.18 L363.15,114.27 L363.91,115.41 L364.67,116.61 L365.43,117.86 L366.20,119.17 L366.96,120.53 L367.72,121.96 L368.48,123.44 L369.24,124.96 L370.00,126.53 L370.76,128.13 L371.52,129.75 L372.28,131.40 L373.04,133.07 L373.80,134.74 L374.57,136.42 L375.33,138.10 L376.09,139.77 L376.85,141.43 L377.61,143.06 L378.37,144.67 L379.13,146.25 L379.89,147.78 L380.65,149.28 L381.41,150.72 L382.17,152.11 L382.94,153.43 L383.70,154.68 L384.46,155.86 L385.22,156.96 L385.98,157.97 L386.74,158.89 L387.50,159.72 L388.26,160.46 L389.02,161.12 L389.78,161.69 L390.54,162.18 L391.31,162.60 L392.07,162.94 L392.83,163.21 L393.59,163.41 L394.35,163.54 L395.11,163.61 L395.87,163.62 L396.63,163.57 L397.39,163.47 L398.15,163.31 L398.92,163.10 L399.68,162.85 L400.44,162.55 L401.20,162.20 L401.96,161.82 L402.72,161.40 L403.48,160.95 L404.24,160.46 L405.00,159.95 L405.76,159.41 L406.52,158.85 L407.29,158.26 L408.05,157.66 L408.81,157.04 L409.57,156.41 L410.33,155.75 L411.09,155.08 L411.85,154.38 L412.61,153.67 L413.37,152.94 L414.13,152.18 L414.89,151.41 L415.66,150.62 L416.42,149.80 L417.18,148.96 L417.94,148.10 L418.70,147.22 L419.46,146.31 L420.22,145.39 L420.98,144.43 L421.74,143.46 L422.50,142.45 L423.27,141.43 L424.03,140.37 L424.79,139.30 L425.55,138.19 L426.31,137.06 L427.07,135.90 L427.83,134.72 L428.59,133.51 L429.35,132.26 L430.11,130.99 L430.87,129.70 L431.64,128.37 L432.40,127.01 L433.16,125.62 L433.92,124.20 L434.68,122.75 L435.44,121.27 L436.20,119.76 L436.96,118.21 L437.72,116.64 L438.48,115.04 L439.24,113.41 L440.01,111.76 L440.77,110.10 L441.53,108.42 L442.29,106.73 L443.05,105.04 L443.81,103.34 L444.57,101.63 L445.33,99.93 L446.09,98.24 L446.85,96.55 L447.61,94.88 L448.38,93.23 L449.14,91.61 L449.90,90.02 L450.66,88.47 L451.42,86.96 L452.18,85.51 L452.94,84.12 L453.70,82.78 L454.46,81.52 L455.22,80.34 L455.99,79.24 L456.75,78.22 L457.51,77.30 L458.27,76.45 L459.03,75.69 L459.79,75.01 L460.55,74.40 L461.31,73.88 L462.07,73.42 L462.83,73.04 L463.59,72.72 L464.36,72.48 L465.12,72.29 L465.88,72.17 L466.64,72.11 L467.40,72.11 L468.16,72.17 L468.92,72.27 L469.68,72.43 L470.44,72.64 L471.20,72.90 L471.96,73.20 L472.73,73.55 L473.49,73.93 L474.25,74.36 L475.01,74.82 L475.77,75.31 L476.53,75.84 L477.29,76.40 L478.05,76.98 L478.81,77.60 L479.57,78.23 L480.34,78.88 L481.10,79.56 L481.86,80.25 L482.62,80.96 L483.38,81.67 L484.14,82.40 L484.90,83.14 L485.66,83.88 L486.42,84.63 L487.18,85.38 L487.94,86.12 L488.71,86.87 L489.47,87.61 L490.23,88.34 L490.99,89.07 L491.75,89.78 L492.51,90.48 L493.27,91.16 L494.03,91.82 L494.79,92.47 L495.55,93.09 L496.31,93.69 L497.08,94.26 L497.84,94.80 L498.60,95.31 L499.36,95.79 L500.12,96.23 L500.88,96.64 L501.64,97.00 L502.40,97.33 L503.16,97.61" fill="none" stroke="#ff0a33" stroke-width="2" stroke-linejoin="round" stroke-linecap="butt"/>
<path d="M321.30,90.22 L322.06,90.79 L322.82,91.25 L323.58,91.60 L324.34,91.85 L325.10,92.00 L325.87,92.07 L326.63,92.05 L327.39,91.96 L328.15,91.80 L328.91,91.57 L329.67,91.29 L330.43,90.97 L331.19,90.60 L331.95,90.19 L332.71,89.76 L333.47,89.30 L334.24,88.83 L335.00,88.35 L335.76,87.87 L336.52,87.39 L337.28,86.93 L338.04,86.48 L338.80,86.06 L339.56,85.67 L340.32,85.32 L341.08,85.01 L341.85,84.75 L342.61,84.55 L343.37,84.42 L344.13,84.36 L344.89,84.38 L345.65,84.48 L346.41,84.67 L347.17,84.96 L347.93,85.33 L348.69,85.78 L349.45,86.32 L350.22,86.93 L350.98,87.63 L351.74,88.39 L352.50,89.23 L353.26,90.14 L354.02,91.11 L354.78,92.15 L355.54,93.25 L356.30,94.41 L357.06,95.62 L357.82,96.89 L358.59,98.21 L359.35,99.58 L360.11,100.99 L360.87,102.44 L361.63,103.94 L362.39,105.47 L363.15,107.04 L363.91,108.65 L364.67,110.28 L365.43,111.94 L366.20,113.63 L366.96,115.34 L367.72,117.06 L368.48,118.81 L369.24,120.57 L370.00,122.34 L370.76,124.11 L371.52,125.89 L372.28,127.67 L373.04,129.44 L373.80,131.20 L374.57,132.94 L375.33,134.67 L376.09,136.38 L376.85,138.07 L377.61,139.72 L378.37,141.35 L379.13,142.93 L379.89,144.48 L380.65,145.98 L381.41,147.44 L382.17,148.84 L382.94,150.19 L383.70,151.48 L384.46,152.71 L385.22,153.87 L385.98,154.95 L386.74,155.97 L387.50,156.90 L388.26,157.76 L389.02,158.52 L389.78,159.20 L390.54,159.80 L391.31,160.32 L392.07,160.77 L392.83,161.15 L393.59,161.47 L394.35,161.74 L395.11,161.94 L395.87,162.10 L396.63,162.22 L397.39,162.30 L398.15,162.34 L398.92,162.35 L399.68,162.34 L400.44,162.31 L401.20,162.27 L401.96,162.21 L402.72,162.13 L403.48,162.04 L404.24,161.93 L405.00,161.80 L405.76,161.65 L406.52,161.49 L407.29,161.30 L408.05,161.09 L408.81,160.86 L409.57,160.61 L410.33,160.33 L411.09,160.02 L411.85,159.69 L412.61,159.34 L413.37,158.95 L414.13,158.54 L414.89,158.08 L415.66,157.60 L416.42,157.07 L417.18,156.50 L417.94,155.88 L418.70,155.21 L419.46,154.49 L420.22,153.71 L420.98,152.87 L421.74,151.98 L422.50,151.01 L423.27,149.98 L424.03,148.88 L424.79,147.70 L425.55,146.45 L426.31,145.11 L427.07,143.70 L427.83,142.19 L428.59,140.60 L429.35,138.91 L430.11,137.14 L430.87,135.28 L431.64,133.35 L432.40,131.34 L433.16,129.25 L433.92,127.10 L434.68,124.88 L435.44,122.60 L436.20,120.26 L436.96,117.87 L437.72,115.43 L438.48,112.95 L439.24,110.45 L440.01,107.94 L440.77,105.42 L441.53,102.91 L442.29,100.41 L443.05,97.94 L443.81,95.51 L444.57,93.12 L445.33,90.79 L446.09,88.51 L446.85,86.30 L447.61,84.15 L448.38,82.08 L449.14,80.08 L449.90,78.15 L450.66,76.31 L451.42,74.56 L452.18,72.90 L452.94,71.33 L453.70,69.86 L454.46,68.49 L455.22,67.22 L455.99,66.04 L456.75,64.95 L457.51,63.95 L458.27,63.04 L459.03,62.22 L459.79,61.48 L460.55,60.82 L461.31,60.24 L462.07,59.73 L462.83,59.31 L463.59,58.95 L464.36,58.67 L465.12,58.45 L465.88,58.30 L466.64,58.22 L467.40,58.20 L468.16,58.24 L468.92,58.33 L469.68,58.49 L470.44,58.69 L471.20,58.95 L471.96,59.26 L472.73,59.62 L473.49,60.02 L474.25,60.47 L475.01,60.96 L475.77,61.48 L476.53,62.05 L477.29,62.65 L478.05,63.28 L478.81,63.94 L479.57,64.64 L480.34,65.36 L481.10,66.10 L481.86,66.87 L482.62,67.65 L483.38,68.46 L484.14,69.28 L484.90,70.12 L485.66,70.97 L486.42,71.83 L487.18,72.69 L487.94,73.56 L488.71,74.44 L489.47,75.32 L490.23,76.19 L490.99,77.07 L491.75,77.94 L492.51,78.80 L493.27,79.65 L494.03,80.50 L494.79,81.33 L495.55,82.14 L496.31,82.94 L497.08,83.72 L497.84,84.47 L498.60,85.21 L499.36,85.91 L500.12,86.59 L500.88,87.24 L501.64,87.86 L502.40,88.44 L503.16,88.99" fill="none" stroke="#00007f" stroke-width="2" stroke-linejoin="round" stroke-linecap="butt"/>
</g>
<rect x="313.0" y="43.5" width="199.5" height="134.0" fill="none" stroke="#6a6a6a" stroke-width="1.2"/>
<clipPath id="clipA2"><rect x="36.5" y="216.5" width="193.0" height="130.0"/></clipPath>
<g clip-path="url(#clipA2)">
<path d="M44.70,334.37 L45.44,334.31 L46.17,334.09 L46.91,333.69 L47.64,333.15 L48.38,332.47 L49.11,331.67 L49.85,330.76 L50.58,329.75 L51.32,328.66 L52.05,327.49 L52.79,326.27 L53.52,325.01 L54.26,323.71 L54.99,322.40 L55.73,321.08 L56.46,319.77 L57.20,318.48 L57.93,317.23 L58.67,316.00 L59.41,314.82 L60.14,313.67 L60.88,312.57 L61.61,311.50 L62.35,310.49 L63.08,309.52 L63.82,308.61 L64.55,307.75 L65.29,306.95 L66.02,306.21 L66.76,305.53 L67.49,304.91 L68.23,304.36 L68.96,303.89 L69.70,303.48 L70.43,303.15 L71.17,302.88 L71.90,302.70 L72.64,302.59 L73.37,302.54 L74.11,302.55 L74.85,302.61 L75.58,302.73 L76.32,302.89 L77.05,303.10 L77.79,303.35 L78.52,303.64 L79.26,303.97 L79.99,304.33 L80.73,304.73 L81.46,305.15 L82.20,305.60 L82.93,306.07 L83.67,306.56 L84.40,307.07 L85.14,307.60 L85.87,308.13 L86.61,308.67 L87.34,309.22 L88.08,309.78 L88.82,310.33 L89.55,310.88 L90.29,311.42 L91.02,311.96 L91.76,312.48 L92.49,313.00 L93.23,313.50 L93.96,313.99 L94.70,314.47 L95.43,314.93 L96.17,315.37 L96.90,315.79 L97.64,316.20 L98.37,316.58 L99.11,316.95 L99.84,317.29 L100.58,317.61 L101.31,317.90 L102.05,318.16 L102.78,318.40 L103.52,318.61 L104.26,318.79 L104.99,318.94 L105.73,319.05 L106.46,319.14 L107.20,319.19 L107.93,319.20 L108.67,319.17 L109.40,319.01 L110.14,318.81 L110.87,318.57 L111.61,318.30 L112.34,317.98 L113.08,317.61 L113.81,317.20 L114.55,316.74 L115.28,316.24 L116.02,315.68 L116.75,315.08 L117.49,314.42 L118.23,313.71 L118.96,312.95 L119.70,312.13 L120.43,311.25 L121.17,310.31 L121.90,309.31 L122.64,308.25 L123.37,307.08 L124.11,305.84 L124.84,304.52 L125.58,303.14 L126.31,301.69 L127.05,300.17 L127.78,298.58 L128.52,296.92 L129.25,295.20 L129.99,293.43 L130.72,291.61 L131.46,289.75 L132.19,287.85 L132.93,285.92 L133.67,283.97 L134.40,281.99 L135.14,280.01 L135.87,278.01 L136.61,276.01 L137.34,274.11 L138.08,272.30 L138.81,270.50 L139.55,268.71 L140.28,266.93 L141.02,265.17 L141.75,263.42 L142.49,261.68 L143.22,259.96 L143.96,258.27 L144.69,256.59 L145.43,254.93 L146.16,253.30 L146.90,251.70 L147.64,250.13 L148.37,248.58 L149.11,247.07 L149.84,245.58 L150.58,244.14 L151.31,242.72 L152.05,241.33 L152.78,239.97 L153.52,238.65 L154.25,237.38 L154.99,236.15 L155.72,234.97 L156.46,233.84 L157.19,232.75 L157.93,231.72 L158.66,230.74 L159.40,229.82 L160.13,228.95 L160.87,228.14 L161.60,227.39 L162.34,226.71 L163.08,226.08 L163.81,225.53 L164.55,225.04 L165.28,224.61 L166.02,224.26 L166.75,223.98 L167.49,223.77 L168.22,223.64 L168.96,223.59 L169.69,223.66 L170.43,223.81 L171.16,224.04 L171.90,224.36 L172.63,224.76 L173.37,225.25 L174.10,225.83 L174.84,226.50 L175.57,227.26 L176.31,228.12 L177.05,229.07 L177.78,230.12 L178.52,231.26 L179.25,232.51 L179.99,233.85 L180.72,235.28 L181.46,236.80 L182.19,238.39 L182.93,240.05 L183.66,241.79 L184.40,243.58 L185.13,245.43 L185.87,247.32 L186.60,249.27 L187.34,251.25 L188.07,253.26 L188.81,255.30 L189.54,257.36 L190.28,259.44 L191.01,261.53 L191.75,263.62 L192.49,265.72 L193.22,267.81 L193.96,269.89 L194.69,271.99 L195.43,274.08 L196.16,276.19 L196.90,278.30 L197.63,280.43 L198.37,282.58 L199.10,284.75 L199.84,286.94 L200.57,289.15 L201.31,291.40 L202.04,293.69 L202.78,296.01 L203.51,298.33 L204.25,300.67 L204.98,302.99 L205.72,305.31 L206.46,307.59 L207.19,309.84 L207.93,312.04 L208.66,314.19 L209.40,316.27 L210.13,318.28 L210.87,320.20 L211.60,322.02 L212.34,323.73 L213.07,325.34 L213.81,326.82 L214.54,328.18 L215.28,329.42 L216.01,330.53 L216.75,331.51 L217.48,332.35 L218.22,333.05 L218.95,333.61 L219.69,334.02 L220.43,334.27 L220.43,338.77 L219.69,338.66 L218.95,338.40 L218.22,337.99 L217.48,337.44 L216.75,336.74 L216.01,335.92 L215.28,334.95 L214.54,333.86 L213.81,332.65 L213.07,331.31 L212.34,329.86 L211.60,328.29 L210.87,326.62 L210.13,324.85 L209.40,322.99 L208.66,321.06 L207.93,319.06 L207.19,317.00 L206.46,314.90 L205.72,312.76 L204.98,310.60 L204.25,308.42 L203.51,306.24 L202.78,304.06 L202.04,301.89 L201.31,299.75 L200.57,297.63 L199.84,295.53 L199.10,293.46 L198.37,291.41 L197.63,289.38 L196.90,287.37 L196.16,285.37 L195.43,283.38 L194.69,281.40 L193.96,279.42 L193.22,277.45 L192.49,275.48 L191.75,273.50 L191.01,271.53 L190.28,269.55 L189.54,267.59 L188.81,265.65 L188.07,263.72 L187.34,261.82 L186.60,259.96 L185.87,258.13 L185.13,256.35 L184.40,254.62 L183.66,252.94 L182.93,251.33 L182.19,249.78 L181.46,248.30 L180.72,246.91 L179.99,245.59 L179.25,244.37 L178.52,243.24 L177.78,242.21 L177.05,241.27 L176.31,240.44 L175.57,239.70 L174.84,239.06 L174.10,238.50 L173.37,238.04 L172.63,237.67 L171.90,237.38 L171.16,237.18 L170.43,237.06 L169.69,237.03 L168.96,237.07 L168.22,237.15 L167.49,237.31 L166.75,237.54 L166.02,237.84 L165.28,238.22 L164.55,238.66 L163.81,239.18 L163.08,239.76 L162.34,240.41 L161.60,241.11 L160.87,241.89 L160.13,242.72 L159.40,243.61 L158.66,244.56 L157.93,245.56 L157.19,246.61 L156.46,247.72 L155.72,248.88 L154.99,250.08 L154.25,251.33 L153.52,252.63 L152.78,253.97 L152.05,255.35 L151.31,256.77 L150.58,258.25 L149.84,259.77 L149.11,261.32 L148.37,262.91 L147.64,264.53 L146.90,266.18 L146.16,267.85 L145.43,269.56 L144.69,271.28 L143.96,273.03 L143.22,274.80 L142.49,276.59 L141.75,278.40 L141.02,280.22 L140.28,282.06 L139.55,283.91 L138.81,285.78 L138.08,287.65 L137.34,289.53 L136.61,291.31 L135.87,293.02 L135.14,294.72 L134.40,296.42 L133.67,298.10 L132.93,299.77 L132.19,301.40 L131.46,303.01 L130.72,304.58 L129.99,306.11 L129.25,307.59 L128.52,309.02 L127.78,310.39 L127.05,311.69 L126.31,312.92 L125.58,314.08 L124.84,315.17 L124.11,316.19 L123.37,317.14 L122.64,318.04 L121.90,318.91 L121.17,319.72 L120.43,320.47 L119.70,321.17 L118.96,321.80 L118.23,322.37 L117.49,322.89 L116.75,323.36 L116.02,323.77 L115.28,324.14 L114.55,324.45 L113.81,324.72 L113.08,324.94 L112.34,325.12 L111.61,325.25 L110.87,325.34 L110.14,325.39 L109.40,325.40 L108.67,325.36 L107.93,325.38 L107.20,325.37 L106.46,325.32 L105.73,325.24 L104.99,325.12 L104.26,324.97 L103.52,324.79 L102.78,324.58 L102.05,324.34 L101.31,324.08 L100.58,323.79 L99.84,323.47 L99.11,323.13 L98.37,322.77 L97.64,322.38 L96.90,321.98 L96.17,321.55 L95.43,321.11 L94.70,320.65 L93.96,320.17 L93.23,319.68 L92.49,319.18 L91.76,318.67 L91.02,318.14 L90.29,317.60 L89.55,317.06 L88.82,316.51 L88.08,315.96 L87.34,315.41 L86.61,314.86 L85.87,314.31 L85.14,313.78 L84.40,313.25 L83.67,312.75 L82.93,312.25 L82.20,311.78 L81.46,311.33 L80.73,310.91 L79.99,310.52 L79.26,310.15 L78.52,309.82 L77.79,309.53 L77.05,309.28 L76.32,309.07 L75.58,308.91 L74.85,308.80 L74.11,308.73 L73.37,308.73 L72.64,308.78 L71.90,308.89 L71.17,309.05 L70.43,309.26 L69.70,309.54 L68.96,309.89 L68.23,310.32 L67.49,310.81 L66.76,311.37 L66.02,312.00 L65.29,312.68 L64.55,313.43 L63.82,314.24 L63.08,315.10 L62.35,316.01 L61.61,316.97 L60.88,317.98 L60.14,319.03 L59.41,320.12 L58.67,321.25 L57.93,322.42 L57.20,323.62 L56.46,324.85 L55.73,326.11 L54.99,327.37 L54.26,328.63 L53.52,329.87 L52.79,331.08 L52.05,332.25 L51.32,333.36 L50.58,334.40 L49.85,335.35 L49.11,336.21 L48.38,336.96 L47.64,337.58 L46.91,338.07 L46.17,338.41 L45.44,338.58 L44.70,338.58Z" fill="#00007f" fill-opacity="0.13" stroke="none"/>
<path d="M44.70,334.02 L45.44,334.13 L46.17,334.04 L46.91,333.79 L47.64,333.37 L48.38,332.80 L49.11,332.10 L49.85,331.27 L50.58,330.34 L51.32,329.31 L52.05,328.20 L52.79,327.02 L53.52,325.79 L54.26,324.51 L54.99,323.20 L55.73,321.88 L56.46,320.56 L57.20,319.25 L57.93,317.96 L58.67,316.70 L59.41,315.48 L60.14,314.30 L60.88,313.15 L61.61,312.05 L62.35,311.00 L63.08,309.99 L63.82,309.03 L64.55,308.12 L65.29,307.27 L66.02,306.48 L66.76,305.74 L67.49,305.07 L68.23,304.46 L68.96,303.92 L69.70,303.45 L70.43,303.05 L71.17,302.72 L71.90,302.48 L72.64,302.32 L73.37,302.21 L74.11,302.16 L74.85,302.18 L75.58,302.24 L76.32,302.35 L77.05,302.52 L77.79,302.73 L78.52,302.98 L79.26,303.27 L79.99,303.60 L80.73,303.96 L81.46,304.35 L82.20,304.78 L82.93,305.22 L83.67,305.69 L84.40,306.18 L85.14,306.69 L85.87,307.21 L86.61,307.75 L87.34,308.29 L88.08,308.84 L88.82,309.39 L89.55,309.94 L90.29,310.49 L91.02,311.03 L91.76,311.57 L92.49,312.09 L93.23,312.61 L93.96,313.11 L94.70,313.60 L95.43,314.08 L96.17,314.54 L96.90,314.98 L97.64,315.41 L98.37,315.82 L99.11,316.20 L99.84,316.57 L100.58,316.91 L101.31,317.23 L102.05,317.52 L102.78,317.79 L103.52,318.03 L104.26,318.24 L104.99,318.42 L105.73,318.57 L106.46,318.68 L107.20,318.76 L107.93,318.81 L108.67,318.81 L109.40,318.71 L110.14,318.56 L110.87,318.38 L111.61,318.15 L112.34,317.88 L113.08,317.57 L113.81,317.21 L114.55,316.81 L115.28,316.36 L116.02,315.86 L116.75,315.31 L117.49,314.72 L118.23,314.06 L118.96,313.36 L119.70,312.60 L120.43,311.78 L121.17,310.91 L121.90,309.97 L122.64,308.98 L123.37,307.89 L124.11,306.73 L124.84,305.50 L125.58,304.21 L126.31,302.85 L127.05,301.43 L127.78,299.93 L128.52,298.36 L129.25,296.74 L129.99,295.05 L130.72,293.31 L131.46,291.53 L132.19,289.70 L132.93,287.84 L133.67,285.95 L134.40,284.03 L135.14,282.09 L135.87,280.14 L136.61,278.18 L137.34,276.28 L138.08,274.47 L138.81,272.66 L139.55,270.86 L140.28,269.06 L141.02,267.28 L141.75,265.50 L142.49,263.74 L143.22,261.99 L143.96,260.26 L144.69,258.54 L145.43,256.84 L146.16,255.17 L146.90,253.52 L147.64,251.89 L148.37,250.29 L149.11,248.72 L149.84,247.18 L150.58,245.67 L151.31,244.19 L152.05,242.73 L152.78,241.30 L153.52,239.91 L154.25,238.56 L154.99,237.26 L155.72,236.00 L156.46,234.78 L157.19,233.62 L157.93,232.50 L158.66,231.43 L159.40,230.42 L160.13,229.46 L160.87,228.56 L161.60,227.72 L162.34,226.94 L163.08,226.22 L163.81,225.57 L164.55,224.98 L165.28,224.47 L166.02,224.02 L166.75,223.64 L167.49,223.34 L168.22,223.11 L168.96,222.96 L169.69,222.94 L170.43,223.00 L171.16,223.14 L171.90,223.37 L172.63,223.69 L173.37,224.09 L174.10,224.58 L174.84,225.17 L175.57,225.85 L176.31,226.63 L177.05,227.51 L177.78,228.49 L178.52,229.57 L179.25,230.75 L179.99,232.04 L180.72,233.43 L181.46,234.91 L182.19,236.48 L182.93,238.12 L183.66,239.84 L184.40,241.62 L185.13,243.47 L185.87,245.36 L186.60,247.31 L187.34,249.30 L188.07,251.32 L188.81,253.37 L189.54,255.45 L190.28,257.53 L191.01,259.63 L191.75,261.72 L192.49,263.81 L193.22,265.89 L193.96,267.95 L194.69,270.01 L195.43,272.06 L196.16,274.12 L196.90,276.18 L197.63,278.26 L198.37,280.35 L199.10,282.46 L199.84,284.61 L200.57,286.78 L201.31,289.00 L202.04,291.26 L202.78,293.57 L203.51,295.91 L204.25,298.28 L204.98,300.66 L205.72,303.03 L206.46,305.38 L207.19,307.69 L207.93,309.95 L208.66,312.16 L209.40,314.29 L210.13,316.35 L210.87,318.33 L211.60,320.20 L212.34,321.98 L213.07,323.64 L213.81,325.18 L214.54,326.60 L215.28,327.91 L216.01,329.09 L216.75,330.16 L217.48,331.11 L218.22,331.93 L218.95,332.64 L219.69,333.23 L220.43,333.69 L220.43,338.19 L219.69,337.85 L218.95,337.39 L218.22,336.81 L217.48,336.11 L216.75,335.29 L216.01,334.35 L215.28,333.29 L214.54,332.11 L213.81,330.82 L213.07,329.40 L212.34,327.87 L211.60,326.22 L210.87,324.47 L210.13,322.63 L209.40,320.70 L208.66,318.69 L207.93,316.61 L207.19,314.47 L206.46,312.28 L205.72,310.06 L204.98,307.82 L204.25,305.57 L203.51,303.33 L202.78,301.11 L202.04,298.93 L201.31,296.79 L200.57,294.70 L199.84,292.64 L199.10,290.62 L198.37,288.62 L197.63,286.64 L196.90,284.68 L196.16,282.74 L195.43,280.80 L194.69,278.86 L193.96,276.92 L193.22,274.97 L192.49,273.01 L191.75,271.04 L191.01,269.06 L190.28,267.08 L189.54,265.11 L188.81,263.16 L188.07,261.22 L187.34,259.31 L186.60,257.44 L185.87,255.60 L185.13,253.81 L184.40,252.07 L183.66,250.39 L182.93,248.77 L182.19,247.23 L181.46,245.77 L180.72,244.40 L179.99,243.11 L179.25,241.93 L178.52,240.85 L177.78,239.88 L177.05,239.00 L176.31,238.23 L175.57,237.56 L174.84,236.98 L174.10,236.49 L173.37,236.10 L172.63,235.81 L171.90,235.60 L171.16,235.47 L170.43,235.43 L169.69,235.48 L168.96,235.61 L168.22,235.77 L167.49,236.01 L166.75,236.32 L166.02,236.71 L165.28,237.17 L164.55,237.70 L163.81,238.30 L163.08,238.96 L162.34,239.69 L161.60,240.48 L160.87,241.34 L160.13,242.25 L159.40,243.22 L158.66,244.24 L157.93,245.32 L157.19,246.45 L156.46,247.63 L155.72,248.85 L154.99,250.12 L154.25,251.44 L153.52,252.80 L152.78,254.20 L152.05,255.64 L151.31,257.11 L150.58,258.64 L149.84,260.21 L149.11,261.81 L148.37,263.44 L147.64,265.10 L146.90,266.79 L146.16,268.49 L145.43,270.23 L144.69,271.98 L143.96,273.76 L143.22,275.55 L142.49,277.35 L141.75,279.18 L141.02,281.01 L140.28,282.85 L139.55,284.71 L138.81,286.57 L138.08,288.44 L137.34,290.31 L136.61,292.09 L135.87,293.81 L135.14,295.51 L134.40,297.20 L133.67,298.88 L132.93,300.52 L132.19,302.14 L131.46,303.71 L130.72,305.25 L129.99,306.74 L129.25,308.18 L128.52,309.56 L127.78,310.88 L127.05,312.13 L126.31,313.31 L125.58,314.42 L124.84,315.46 L124.11,316.44 L123.37,317.36 L122.64,318.22 L121.90,319.05 L121.17,319.82 L120.43,320.54 L119.70,321.20 L118.96,321.80 L118.23,322.34 L117.49,322.83 L116.75,323.27 L116.02,323.66 L115.28,324.00 L114.55,324.29 L113.81,324.53 L113.08,324.73 L112.34,324.88 L111.61,324.99 L110.87,325.05 L110.14,325.08 L109.40,325.06 L108.67,325.01 L107.93,324.99 L107.20,324.95 L106.46,324.86 L105.73,324.75 L104.99,324.60 L104.26,324.42 L103.52,324.21 L102.78,323.97 L102.05,323.70 L101.31,323.41 L100.58,323.09 L99.84,322.75 L99.11,322.39 L98.37,322.00 L97.64,321.59 L96.90,321.17 L96.17,320.72 L95.43,320.26 L94.70,319.78 L93.96,319.29 L93.23,318.79 L92.49,318.27 L91.76,317.75 L91.02,317.21 L90.29,316.67 L89.55,316.12 L88.82,315.57 L88.08,315.02 L87.34,314.47 L86.61,313.93 L85.87,313.40 L85.14,312.87 L84.40,312.37 L83.67,311.88 L82.93,311.41 L82.20,310.96 L81.46,310.54 L80.73,310.14 L79.99,309.78 L79.26,309.45 L78.52,309.16 L77.79,308.91 L77.05,308.70 L76.32,308.54 L75.58,308.42 L74.85,308.36 L74.11,308.35 L73.37,308.39 L72.64,308.50 L71.90,308.67 L71.17,308.89 L70.43,309.17 L69.70,309.51 L68.96,309.93 L68.23,310.41 L67.49,310.97 L66.76,311.59 L66.02,312.27 L65.29,313.01 L64.55,313.80 L63.82,314.66 L63.08,315.56 L62.35,316.51 L61.61,317.52 L60.88,318.56 L60.14,319.65 L59.41,320.78 L58.67,321.95 L57.93,323.15 L57.20,324.38 L56.46,325.64 L55.73,326.91 L54.99,328.18 L54.26,329.43 L53.52,330.65 L52.79,331.83 L52.05,332.96 L51.32,334.01 L50.58,334.99 L49.85,335.87 L49.11,336.64 L48.38,337.29 L47.64,337.80 L46.91,338.16 L46.17,338.37 L45.44,338.40 L44.70,338.24Z" fill="#ff0a33" fill-opacity="0.12" stroke="none"/>
<path d="M44.70,336.13 L45.44,336.26 L46.17,336.21 L46.91,335.98 L47.64,335.58 L48.38,335.04 L49.11,334.37 L49.85,333.57 L50.58,332.66 L51.32,331.66 L52.05,330.58 L52.79,329.43 L53.52,328.22 L54.26,326.97 L54.99,325.69 L55.73,324.40 L56.46,323.10 L57.20,321.82 L57.93,320.55 L58.67,319.32 L59.41,318.13 L60.14,316.97 L60.88,315.86 L61.61,314.78 L62.35,313.76 L63.08,312.77 L63.82,311.84 L64.55,310.96 L65.29,310.14 L66.02,309.37 L66.76,308.66 L67.49,308.02 L68.23,307.44 L68.96,306.92 L69.70,306.48 L70.43,306.11 L71.17,305.81 L71.90,305.58 L72.64,305.41 L73.37,305.30 L74.11,305.26 L74.85,305.27 L75.58,305.33 L76.32,305.45 L77.05,305.61 L77.79,305.82 L78.52,306.07 L79.26,306.36 L79.99,306.69 L80.73,307.05 L81.46,307.44 L82.20,307.87 L82.93,308.31 L83.67,308.78 L84.40,309.27 L85.14,309.78 L85.87,310.30 L86.61,310.84 L87.34,311.38 L88.08,311.93 L88.82,312.48 L89.55,313.03 L90.29,313.58 L91.02,314.12 L91.76,314.66 L92.49,315.18 L93.23,315.70 L93.96,316.20 L94.70,316.69 L95.43,317.17 L96.17,317.63 L96.90,318.07 L97.64,318.50 L98.37,318.91 L99.11,319.29 L99.84,319.66 L100.58,320.00 L101.31,320.32 L102.05,320.61 L102.78,320.88 L103.52,321.12 L104.26,321.33 L104.99,321.51 L105.73,321.66 L106.46,321.77 L107.20,321.85 L107.93,321.90 L108.67,321.91 L109.40,321.89 L110.14,321.82 L110.87,321.72 L111.61,321.57 L112.34,321.38 L113.08,321.15 L113.81,320.87 L114.55,320.55 L115.28,320.18 L116.02,319.76 L116.75,319.29 L117.49,318.77 L118.23,318.20 L118.96,317.58 L119.70,316.90 L120.43,316.16 L121.17,315.37 L121.90,314.51 L122.64,313.60 L123.37,312.62 L124.11,311.59 L124.84,310.48 L125.58,309.32 L126.31,308.08 L127.05,306.78 L127.78,305.40 L128.52,303.96 L129.25,302.46 L129.99,300.90 L130.72,299.28 L131.46,297.62 L132.19,295.92 L132.93,294.18 L133.67,292.41 L134.40,290.62 L135.14,288.80 L135.87,286.97 L136.61,285.14 L137.34,283.29 L138.08,281.45 L138.81,279.62 L139.55,277.78 L140.28,275.96 L141.02,274.14 L141.75,272.34 L142.49,270.55 L143.22,268.77 L143.96,267.01 L144.69,265.26 L145.43,263.54 L146.16,261.83 L146.90,260.15 L147.64,258.50 L148.37,256.87 L149.11,255.27 L149.84,253.70 L150.58,252.16 L151.31,250.65 L152.05,249.18 L152.78,247.75 L153.52,246.36 L154.25,245.00 L154.99,243.69 L155.72,242.43 L156.46,241.21 L157.19,240.03 L157.93,238.91 L158.66,237.84 L159.40,236.82 L160.13,235.86 L160.87,234.95 L161.60,234.10 L162.34,233.32 L163.08,232.59 L163.81,231.93 L164.55,231.34 L165.28,230.82 L166.02,230.36 L166.75,229.98 L167.49,229.67 L168.22,229.44 L168.96,229.29 L169.69,229.21 L170.43,229.22 L171.16,229.31 L171.90,229.48 L172.63,229.75 L173.37,230.10 L174.10,230.54 L174.84,231.07 L175.57,231.71 L176.31,232.43 L177.05,233.26 L177.78,234.18 L178.52,235.21 L179.25,236.34 L179.99,237.58 L180.72,238.91 L181.46,240.34 L182.19,241.85 L182.93,243.45 L183.66,245.11 L184.40,246.85 L185.13,248.64 L185.87,250.48 L186.60,252.37 L187.34,254.31 L188.07,256.27 L188.81,258.27 L189.54,260.28 L190.28,262.31 L191.01,264.34 L191.75,266.38 L192.49,268.41 L193.22,270.43 L193.96,272.44 L194.69,274.44 L195.43,276.43 L196.16,278.43 L196.90,280.43 L197.63,282.45 L198.37,284.48 L199.10,286.54 L199.84,288.62 L200.57,290.74 L201.31,292.90 L202.04,295.09 L202.78,297.34 L203.51,299.62 L204.25,301.92 L204.98,304.24 L205.72,306.54 L206.46,308.83 L207.19,311.08 L207.93,313.28 L208.66,315.42 L209.40,317.49 L210.13,319.49 L210.87,321.40 L211.60,323.21 L212.34,324.92 L213.07,326.52 L213.81,328.00 L214.54,329.36 L215.28,330.60 L216.01,331.72 L216.75,332.72 L217.48,333.61 L218.22,334.37 L218.95,335.01 L219.69,335.54 L220.43,335.94" fill="none" stroke="#ff0a33" stroke-width="2" stroke-linejoin="round" stroke-linecap="butt"/>
<path d="M44.70,336.47 L45.44,336.45 L46.17,336.25 L46.91,335.88 L47.64,335.37 L48.38,334.72 L49.11,333.94 L49.85,333.06 L50.58,332.07 L51.32,331.01 L52.05,329.87 L52.79,328.68 L53.52,327.44 L54.26,326.17 L54.99,324.88 L55.73,323.59 L56.46,322.31 L57.20,321.05 L57.93,319.82 L58.67,318.63 L59.41,317.47 L60.14,316.35 L60.88,315.27 L61.61,314.24 L62.35,313.25 L63.08,312.31 L63.82,311.42 L64.55,310.59 L65.29,309.82 L66.02,309.10 L66.76,308.45 L67.49,307.86 L68.23,307.34 L68.96,306.89 L69.70,306.51 L70.43,306.20 L71.17,305.97 L71.90,305.79 L72.64,305.68 L73.37,305.64 L74.11,305.64 L74.85,305.71 L75.58,305.82 L76.32,305.98 L77.05,306.19 L77.79,306.44 L78.52,306.73 L79.26,307.06 L79.99,307.42 L80.73,307.82 L81.46,308.24 L82.20,308.69 L82.93,309.16 L83.67,309.65 L84.40,310.16 L85.14,310.69 L85.87,311.22 L86.61,311.77 L87.34,312.32 L88.08,312.87 L88.82,313.42 L89.55,313.97 L90.29,314.51 L91.02,315.05 L91.76,315.57 L92.49,316.09 L93.23,316.59 L93.96,317.08 L94.70,317.56 L95.43,318.02 L96.17,318.46 L96.90,318.88 L97.64,319.29 L98.37,319.67 L99.11,320.04 L99.84,320.38 L100.58,320.70 L101.31,320.99 L102.05,321.25 L102.78,321.49 L103.52,321.70 L104.26,321.88 L104.99,322.03 L105.73,322.15 L106.46,322.23 L107.20,322.28 L107.93,322.29 L108.67,322.26 L109.40,322.20 L110.14,322.10 L110.87,321.96 L111.61,321.77 L112.34,321.55 L113.08,321.28 L113.81,320.96 L114.55,320.60 L115.28,320.19 L116.02,319.73 L116.75,319.22 L117.49,318.66 L118.23,318.04 L118.96,317.37 L119.70,316.65 L120.43,315.86 L121.17,315.02 L121.90,314.11 L122.64,313.14 L123.37,312.11 L124.11,311.01 L124.84,309.85 L125.58,308.61 L126.31,307.31 L127.05,305.93 L127.78,304.48 L128.52,302.97 L129.25,301.40 L129.99,299.77 L130.72,298.10 L131.46,296.38 L132.19,294.63 L132.93,292.84 L133.67,291.03 L134.40,289.21 L135.14,287.37 L135.87,285.52 L136.61,283.66 L137.34,281.82 L138.08,279.97 L138.81,278.14 L139.55,276.31 L140.28,274.50 L141.02,272.70 L141.75,270.91 L142.49,269.14 L143.22,267.38 L143.96,265.65 L144.69,263.94 L145.43,262.24 L146.16,260.58 L146.90,258.94 L147.64,257.33 L148.37,255.74 L149.11,254.19 L149.84,252.68 L150.58,251.19 L151.31,249.75 L152.05,248.34 L152.78,246.97 L153.52,245.64 L154.25,244.36 L154.99,243.12 L155.72,241.92 L156.46,240.78 L157.19,239.68 L157.93,238.64 L158.66,237.65 L159.40,236.71 L160.13,235.83 L160.87,235.01 L161.60,234.25 L162.34,233.56 L163.08,232.92 L163.81,232.35 L164.55,231.85 L165.28,231.41 L166.02,231.05 L166.75,230.76 L167.49,230.54 L168.22,230.40 L168.96,230.33 L169.69,230.34 L170.43,230.44 L171.16,230.61 L171.90,230.87 L172.63,231.21 L173.37,231.65 L174.10,232.17 L174.84,232.78 L175.57,233.48 L176.31,234.28 L177.05,235.17 L177.78,236.16 L178.52,237.25 L179.25,238.44 L179.99,239.72 L180.72,241.09 L181.46,242.55 L182.19,244.08 L182.93,245.69 L183.66,247.37 L184.40,249.10 L185.13,250.89 L185.87,252.73 L186.60,254.61 L187.34,256.54 L188.07,258.49 L188.81,260.47 L189.54,262.48 L190.28,264.50 L191.01,266.53 L191.75,268.56 L192.49,270.60 L193.22,272.63 L193.96,274.66 L194.69,276.69 L195.43,278.73 L196.16,280.78 L196.90,282.84 L197.63,284.91 L198.37,287.00 L199.10,289.10 L199.84,291.23 L200.57,293.39 L201.31,295.58 L202.04,297.79 L202.78,300.03 L203.51,302.29 L204.25,304.54 L204.98,306.80 L205.72,309.04 L206.46,311.25 L207.19,313.42 L207.93,315.55 L208.66,317.62 L209.40,319.63 L210.13,321.56 L210.87,323.41 L211.60,325.15 L212.34,326.80 L213.07,328.32 L213.81,329.73 L214.54,331.02 L215.28,332.19 L216.01,333.22 L216.75,334.13 L217.48,334.89 L218.22,335.52 L218.95,336.00 L219.69,336.34 L220.43,336.52" fill="none" stroke="#00007f" stroke-width="2" stroke-linejoin="round" stroke-linecap="butt"/>
</g>
<rect x="36.5" y="216.5" width="193.0" height="130.0" fill="none" stroke="#6a6a6a" stroke-width="1.2"/>
<clipPath id="clipB2"><rect x="312.5" y="217.5" width="200.0" height="134.0"/></clipPath>
<g clip-path="url(#clipB2)">
<path d="M321.30,338.14 L322.06,338.04 L322.82,337.82 L323.58,337.49 L324.34,337.05 L325.10,336.52 L325.87,335.89 L326.63,335.18 L327.39,334.39 L328.15,333.52 L328.91,332.58 L329.67,331.57 L330.43,330.51 L331.19,329.39 L331.95,328.23 L332.71,327.02 L333.47,325.78 L334.24,324.51 L335.00,323.22 L335.76,321.92 L336.52,320.62 L337.28,319.33 L338.04,318.07 L338.80,316.83 L339.56,315.64 L340.32,314.50 L341.08,313.42 L341.85,312.41 L342.61,311.48 L343.37,310.65 L344.13,309.90 L344.89,309.24 L345.65,308.67 L346.41,308.18 L347.17,307.76 L347.93,307.42 L348.69,307.15 L349.45,306.94 L350.22,306.80 L350.98,306.73 L351.74,306.73 L352.50,306.77 L353.26,306.88 L354.02,307.03 L354.78,307.23 L355.54,307.47 L356.30,307.75 L357.06,308.07 L357.82,308.43 L358.59,308.82 L359.35,309.23 L360.11,309.68 L360.87,310.14 L361.63,310.62 L362.39,311.12 L363.15,311.64 L363.91,312.16 L364.67,312.70 L365.43,313.24 L366.20,313.79 L366.96,314.34 L367.72,314.90 L368.48,315.45 L369.24,316.00 L370.00,316.55 L370.76,317.10 L371.52,317.63 L372.28,318.16 L373.04,318.67 L373.80,319.17 L374.57,319.66 L375.33,320.12 L376.09,320.57 L376.85,321.00 L377.61,321.40 L378.37,321.78 L379.13,322.13 L379.89,322.45 L380.65,322.74 L381.41,323.00 L382.17,323.22 L382.94,323.41 L383.70,323.56 L384.46,323.66 L385.22,323.73 L385.98,323.75 L386.74,323.73 L387.50,323.66 L388.26,323.54 L389.02,323.38 L389.78,323.09 L390.54,322.72 L391.31,322.29 L392.07,321.82 L392.83,321.29 L393.59,320.70 L394.35,320.06 L395.11,319.36 L395.87,318.61 L396.63,317.79 L397.39,316.92 L398.15,315.98 L398.92,314.98 L399.68,313.92 L400.44,312.79 L401.20,311.60 L401.96,310.33 L402.72,309.01 L403.48,307.61 L404.24,306.15 L405.00,304.64 L405.76,303.08 L406.52,301.52 L407.29,299.92 L408.05,298.31 L408.81,296.69 L409.57,295.05 L410.33,293.43 L411.09,291.81 L411.85,290.21 L412.61,288.63 L413.37,287.06 L414.13,285.49 L414.89,283.93 L415.66,282.36 L416.42,280.78 L417.18,279.18 L417.94,277.55 L418.70,275.89 L419.46,274.20 L420.22,272.46 L420.98,270.67 L421.74,268.84 L422.50,267.00 L423.27,265.18 L424.03,263.35 L424.79,261.51 L425.55,259.67 L426.31,257.85 L427.07,256.04 L427.83,254.25 L428.59,252.51 L429.35,250.80 L430.11,249.15 L430.87,247.55 L431.64,246.00 L432.40,244.50 L433.16,243.05 L433.92,241.66 L434.68,240.32 L435.44,239.04 L436.20,237.79 L436.96,236.60 L437.72,235.48 L438.48,234.41 L439.24,233.40 L440.01,232.45 L440.77,231.57 L441.53,230.74 L442.29,229.99 L443.05,229.29 L443.81,228.66 L444.57,228.10 L445.33,227.60 L446.09,227.18 L446.85,226.82 L447.61,226.53 L448.38,226.31 L449.14,226.17 L449.90,226.10 L450.66,226.24 L451.42,226.45 L452.18,226.75 L452.94,227.11 L453.70,227.56 L454.46,228.08 L455.22,228.68 L455.99,229.36 L456.75,230.11 L457.51,230.94 L458.27,231.84 L459.03,232.81 L459.79,233.86 L460.55,234.97 L461.31,236.14 L462.07,237.39 L462.83,238.69 L463.59,240.06 L464.36,241.49 L465.12,242.98 L465.88,244.53 L466.64,246.13 L467.40,247.79 L468.16,249.51 L468.92,251.23 L469.68,252.99 L470.44,254.80 L471.20,256.66 L471.96,258.56 L472.73,260.51 L473.49,262.51 L474.25,264.54 L475.01,266.62 L475.77,268.74 L476.53,270.89 L477.29,273.08 L478.05,275.30 L478.81,277.56 L479.57,279.85 L480.34,282.17 L481.10,284.51 L481.86,286.89 L482.62,289.29 L483.38,291.74 L484.14,294.22 L484.90,296.73 L485.66,299.25 L486.42,301.77 L487.18,304.28 L487.94,306.78 L488.71,309.25 L489.47,311.68 L490.23,314.07 L490.99,316.40 L491.75,318.67 L492.51,320.85 L493.27,322.93 L494.03,324.91 L494.79,326.77 L495.55,328.52 L496.31,330.14 L497.08,331.63 L497.84,332.99 L498.60,334.20 L499.36,335.26 L500.12,336.17 L500.88,336.91 L501.64,337.49 L502.40,337.89 L503.16,338.11 L503.16,343.24 L502.40,343.20 L501.64,342.98 L500.88,342.59 L500.12,342.03 L499.36,341.30 L498.60,340.42 L497.84,339.39 L497.08,338.22 L496.31,336.91 L495.55,335.47 L494.79,333.91 L494.03,332.23 L493.27,330.43 L492.51,328.53 L491.75,326.54 L490.99,324.45 L490.23,322.30 L489.47,320.09 L488.71,317.84 L487.94,315.56 L487.18,313.24 L486.42,310.91 L485.66,308.58 L484.90,306.24 L484.14,303.92 L483.38,301.61 L482.62,299.31 L481.86,297.01 L481.10,294.74 L480.34,292.50 L479.57,290.28 L478.81,288.10 L478.05,285.94 L477.29,283.82 L476.53,281.74 L475.77,279.69 L475.01,277.67 L474.25,275.70 L473.49,273.77 L472.73,271.88 L471.96,270.03 L471.20,268.23 L470.44,266.47 L469.68,264.77 L468.92,263.11 L468.16,261.51 L467.40,260.01 L466.64,258.56 L465.88,257.17 L465.12,255.83 L464.36,254.55 L463.59,253.34 L462.83,252.18 L462.07,251.08 L461.31,250.05 L460.55,249.09 L459.79,248.19 L459.03,247.36 L458.27,246.60 L457.51,245.92 L456.75,245.30 L455.99,244.76 L455.22,244.29 L454.46,243.91 L453.70,243.60 L452.94,243.36 L452.18,243.21 L451.42,243.13 L450.66,243.12 L449.90,243.19 L449.14,243.19 L448.38,243.27 L447.61,243.41 L446.85,243.62 L446.09,243.91 L445.33,244.26 L444.57,244.68 L443.81,245.17 L443.05,245.73 L442.29,246.35 L441.53,247.03 L440.77,247.78 L440.01,248.59 L439.24,249.47 L438.48,250.40 L437.72,251.40 L436.96,252.45 L436.20,253.56 L435.44,254.73 L434.68,255.97 L433.92,257.28 L433.16,258.64 L432.40,260.05 L431.64,261.51 L430.87,263.03 L430.11,264.60 L429.35,266.22 L428.59,267.89 L427.83,269.60 L427.07,271.35 L426.31,273.13 L425.55,274.92 L424.79,276.72 L424.03,278.53 L423.27,280.33 L422.50,282.11 L421.74,283.81 L420.98,285.47 L420.22,287.09 L419.46,288.66 L418.70,290.18 L417.94,291.67 L417.18,293.13 L416.42,294.56 L415.66,295.97 L414.89,297.37 L414.13,298.76 L413.37,300.15 L412.61,301.55 L411.85,302.96 L411.09,304.39 L410.33,305.84 L409.57,307.30 L408.81,308.76 L408.05,310.21 L407.29,311.66 L406.52,313.08 L405.76,314.47 L405.00,315.79 L404.24,317.06 L403.48,318.29 L402.72,319.45 L401.96,320.54 L401.20,321.57 L400.44,322.53 L399.68,323.42 L398.92,324.24 L398.15,325.01 L397.39,325.71 L396.63,326.35 L395.87,326.93 L395.11,327.45 L394.35,327.91 L393.59,328.31 L392.83,328.66 L392.07,328.96 L391.31,329.20 L390.54,329.38 L389.78,329.52 L389.02,329.65 L388.26,329.80 L387.50,329.90 L386.74,329.96 L385.98,329.97 L385.22,329.94 L384.46,329.86 L383.70,329.74 L382.94,329.58 L382.17,329.39 L381.41,329.15 L380.65,328.88 L379.89,328.58 L379.13,328.25 L378.37,327.89 L377.61,327.50 L376.85,327.08 L376.09,326.65 L375.33,326.19 L374.57,325.71 L373.80,325.21 L373.04,324.70 L372.28,324.18 L371.52,323.64 L370.76,323.09 L370.00,322.54 L369.24,321.98 L368.48,321.41 L367.72,320.85 L366.96,320.28 L366.20,319.72 L365.43,319.16 L364.67,318.60 L363.91,318.06 L363.15,317.52 L362.39,317.00 L361.63,316.48 L360.87,315.99 L360.11,315.51 L359.35,315.06 L358.59,314.63 L357.82,314.24 L357.06,313.87 L356.30,313.54 L355.54,313.24 L354.78,312.99 L354.02,312.78 L353.26,312.61 L352.50,312.50 L351.74,312.44 L350.98,312.44 L350.22,312.49 L349.45,312.59 L348.69,312.77 L347.93,313.01 L347.17,313.32 L346.41,313.71 L345.65,314.17 L344.89,314.72 L344.13,315.35 L343.37,316.06 L342.61,316.87 L341.85,317.76 L341.08,318.74 L340.32,319.79 L339.56,320.91 L338.80,322.07 L338.04,323.28 L337.28,324.51 L336.52,325.77 L335.76,327.04 L335.00,328.31 L334.24,329.57 L333.47,330.82 L332.71,332.03 L331.95,333.20 L331.19,334.34 L330.43,335.42 L329.67,336.46 L328.91,337.43 L328.15,338.34 L327.39,339.18 L326.63,339.95 L325.87,340.63 L325.10,341.23 L324.34,341.73 L323.58,342.14 L322.82,342.44 L322.06,342.63 L321.30,342.70Z" fill="#00007f" fill-opacity="0.13" stroke="none"/>
<path d="M321.30,329.56 L322.06,329.26 L322.82,328.88 L323.58,328.42 L324.34,327.88 L325.10,327.28 L325.87,326.60 L326.63,325.87 L327.39,325.09 L328.15,324.26 L328.91,323.39 L329.67,322.48 L330.43,321.54 L331.19,320.57 L331.95,319.59 L332.71,318.59 L333.47,317.58 L334.24,316.57 L335.00,315.56 L335.76,314.56 L336.52,313.57 L337.28,312.61 L338.04,311.67 L338.80,310.75 L339.56,309.88 L340.32,309.04 L341.08,308.26 L341.85,307.52 L342.61,306.85 L343.37,306.24 L344.13,305.69 L344.89,305.20 L345.65,304.76 L346.41,304.39 L347.17,304.07 L347.93,303.81 L348.69,303.59 L349.45,303.43 L350.22,303.32 L350.98,303.26 L351.74,303.25 L352.50,303.28 L353.26,303.35 L354.02,303.47 L354.78,303.62 L355.54,303.81 L356.30,304.04 L357.06,304.30 L357.82,304.59 L358.59,304.91 L359.35,305.26 L360.11,305.64 L360.87,306.05 L361.63,306.47 L362.39,306.92 L363.15,307.39 L363.91,307.88 L364.67,308.38 L365.43,308.90 L366.20,309.43 L366.96,309.96 L367.72,310.50 L368.48,311.05 L369.24,311.60 L370.00,312.14 L370.76,312.68 L371.52,313.22 L372.28,313.75 L373.04,314.26 L373.80,314.77 L374.57,315.26 L375.33,315.73 L376.09,316.18 L376.85,316.61 L377.61,317.02 L378.37,317.39 L379.13,317.74 L379.89,318.06 L380.65,318.34 L381.41,318.59 L382.17,318.79 L382.94,318.96 L383.70,319.08 L384.46,319.15 L385.22,319.18 L385.98,319.17 L386.74,319.10 L387.50,318.99 L388.26,318.82 L389.02,318.61 L389.78,318.27 L390.54,317.84 L391.31,317.36 L392.07,316.83 L392.83,316.25 L393.59,315.61 L394.35,314.92 L395.11,314.18 L395.87,313.38 L396.63,312.52 L397.39,311.61 L398.15,310.64 L398.92,309.61 L399.68,308.53 L400.44,307.38 L401.20,306.18 L401.96,304.92 L402.72,303.59 L403.48,302.21 L404.24,300.77 L405.00,299.28 L405.76,297.74 L406.52,296.22 L407.29,294.67 L408.05,293.08 L408.81,291.48 L409.57,289.86 L410.33,288.23 L411.09,286.59 L411.85,284.95 L412.61,283.31 L413.37,281.67 L414.13,280.03 L414.89,278.38 L415.66,276.73 L416.42,275.06 L417.18,273.38 L417.94,271.68 L418.70,269.96 L419.46,268.23 L420.22,266.47 L420.98,264.68 L421.74,262.88 L422.50,261.08 L423.27,259.32 L424.03,257.56 L424.79,255.80 L425.55,254.05 L426.31,252.32 L427.07,250.62 L427.83,248.94 L428.59,247.29 L429.35,245.69 L430.11,244.14 L430.87,242.63 L431.64,241.19 L432.40,239.81 L433.16,238.48 L433.92,237.22 L434.68,236.01 L435.44,234.87 L436.20,233.79 L436.96,232.77 L437.72,231.81 L438.48,230.91 L439.24,230.07 L440.01,229.30 L440.77,228.59 L441.53,227.94 L442.29,227.35 L443.05,226.83 L443.81,226.36 L444.57,225.97 L445.33,225.63 L446.09,225.36 L446.85,225.15 L447.61,225.01 L448.38,224.93 L449.14,224.91 L449.90,224.96 L450.66,225.15 L451.42,225.40 L452.18,225.72 L452.94,226.10 L453.70,226.55 L454.46,227.06 L455.22,227.64 L455.99,228.29 L456.75,229.00 L457.51,229.78 L458.27,230.62 L459.03,231.53 L459.79,232.51 L460.55,233.54 L461.31,234.64 L462.07,235.80 L462.83,237.01 L463.59,238.29 L464.36,239.62 L465.12,241.02 L465.88,242.46 L466.64,243.96 L467.40,245.52 L468.16,247.13 L468.92,248.77 L469.68,250.45 L470.44,252.19 L471.20,253.97 L471.96,255.81 L472.73,257.69 L473.49,259.61 L474.25,261.59 L475.01,263.60 L475.77,265.66 L476.53,267.77 L477.29,269.91 L478.05,272.10 L478.81,274.32 L479.57,276.59 L480.34,278.89 L481.10,281.23 L481.86,283.60 L482.62,286.01 L483.38,288.48 L484.14,290.98 L484.90,293.51 L485.66,296.04 L486.42,298.56 L487.18,301.05 L487.94,303.50 L488.71,305.90 L489.47,308.21 L490.23,310.44 L490.99,312.57 L491.75,314.58 L492.51,316.45 L493.27,318.17 L494.03,319.74 L494.79,321.18 L495.55,322.48 L496.31,323.65 L497.08,324.69 L497.84,325.61 L498.60,326.41 L499.36,327.11 L500.12,327.69 L500.88,328.18 L501.64,328.57 L502.40,328.87 L503.16,329.08 L503.16,334.21 L502.40,334.15 L501.64,334.00 L500.88,333.76 L500.12,333.42 L499.36,332.99 L498.60,332.44 L497.84,331.79 L497.08,331.02 L496.31,330.13 L495.55,329.11 L494.79,327.96 L494.03,326.68 L493.27,325.25 L492.51,323.68 L491.75,321.96 L490.99,320.10 L490.23,318.13 L489.47,316.05 L488.71,313.88 L487.94,311.64 L487.18,309.34 L486.42,306.99 L485.66,304.63 L484.90,302.24 L484.14,299.87 L483.38,297.51 L482.62,295.17 L481.86,292.85 L481.10,290.57 L480.34,288.32 L479.57,286.10 L478.81,283.93 L478.05,281.79 L477.29,279.69 L476.53,277.64 L475.77,275.62 L475.01,273.65 L474.25,271.72 L473.49,269.84 L472.73,268.00 L471.96,266.21 L471.20,264.46 L470.44,262.76 L469.68,261.12 L468.92,259.52 L468.16,257.98 L467.40,256.51 L466.64,255.10 L465.88,253.74 L465.12,252.43 L464.36,251.18 L463.59,249.99 L462.83,248.85 L462.07,247.78 L461.31,246.76 L460.55,245.81 L459.79,244.91 L459.03,244.08 L458.27,243.31 L457.51,242.61 L456.75,241.97 L455.99,241.40 L455.22,240.90 L454.46,240.46 L453.70,240.09 L452.94,239.78 L452.18,239.54 L451.42,239.37 L450.66,239.26 L449.90,239.21 L449.14,239.16 L448.38,239.18 L447.61,239.26 L446.85,239.40 L446.09,239.61 L445.33,239.88 L444.57,240.22 L443.81,240.61 L443.05,241.08 L442.29,241.60 L441.53,242.19 L440.77,242.84 L440.01,243.55 L439.24,244.32 L438.48,245.16 L437.72,246.06 L436.96,247.02 L436.20,248.04 L435.44,249.12 L434.68,250.26 L433.92,251.47 L433.16,252.73 L432.40,254.06 L431.64,255.44 L430.87,256.88 L430.11,258.39 L429.35,259.94 L428.59,261.54 L427.83,263.19 L427.07,264.87 L426.31,266.57 L425.55,268.30 L424.79,270.05 L424.03,271.81 L423.27,273.57 L422.50,275.33 L421.74,277.03 L420.98,278.70 L420.22,280.35 L419.46,281.98 L418.70,283.58 L417.94,285.17 L417.18,286.74 L416.42,288.29 L415.66,289.82 L414.89,291.35 L414.13,292.87 L413.37,294.38 L412.61,295.89 L411.85,297.39 L411.09,298.90 L410.33,300.41 L409.57,301.91 L408.81,303.40 L408.05,304.87 L407.29,306.32 L406.52,307.74 L405.76,309.13 L405.00,310.43 L404.24,311.68 L403.48,312.89 L402.72,314.04 L401.96,315.12 L401.20,316.15 L400.44,317.12 L399.68,318.03 L398.92,318.88 L398.15,319.67 L397.39,320.40 L396.63,321.08 L395.87,321.70 L395.11,322.26 L394.35,322.77 L393.59,323.22 L392.83,323.63 L392.07,323.97 L391.31,324.27 L390.54,324.51 L389.78,324.70 L389.02,324.88 L388.26,325.08 L387.50,325.23 L386.74,325.33 L385.98,325.39 L385.22,325.39 L384.46,325.35 L383.70,325.27 L382.94,325.13 L382.17,324.96 L381.41,324.74 L380.65,324.48 L379.89,324.19 L379.13,323.86 L378.37,323.50 L377.61,323.11 L376.85,322.70 L376.09,322.26 L375.33,321.79 L374.57,321.31 L373.80,320.81 L373.04,320.30 L372.28,319.77 L371.52,319.23 L370.76,318.68 L370.00,318.13 L369.24,317.57 L368.48,317.01 L367.72,316.46 L366.96,315.90 L366.20,315.36 L365.43,314.82 L364.67,314.29 L363.91,313.78 L363.15,313.28 L362.39,312.80 L361.63,312.33 L360.87,311.90 L360.11,311.48 L359.35,311.09 L358.59,310.73 L357.82,310.39 L357.06,310.09 L356.30,309.82 L355.54,309.58 L354.78,309.38 L354.02,309.22 L353.26,309.09 L352.50,309.00 L351.74,308.96 L350.98,308.96 L350.22,309.00 L349.45,309.08 L348.69,309.22 L347.93,309.40 L347.17,309.64 L346.41,309.92 L345.65,310.27 L344.89,310.67 L344.13,311.13 L343.37,311.65 L342.61,312.24 L341.85,312.88 L341.08,313.59 L340.32,314.34 L339.56,315.15 L338.80,315.99 L338.04,316.87 L337.28,317.79 L336.52,318.72 L335.76,319.68 L335.00,320.65 L334.24,321.63 L333.47,322.61 L332.71,323.59 L331.95,324.56 L331.19,325.51 L330.43,326.45 L329.67,327.36 L328.91,328.24 L328.15,329.08 L327.39,329.89 L326.63,330.64 L325.87,331.34 L325.10,331.98 L324.34,332.56 L323.58,333.07 L322.82,333.50 L322.06,333.85 L321.30,334.12Z" fill="#ff0a33" fill-opacity="0.12" stroke="none"/>
<path d="M321.30,331.84 L322.06,331.56 L322.82,331.19 L323.58,330.74 L324.34,330.22 L325.10,329.63 L325.87,328.97 L326.63,328.26 L327.39,327.49 L328.15,326.67 L328.91,325.81 L329.67,324.92 L330.43,323.99 L331.19,323.04 L331.95,322.07 L332.71,321.09 L333.47,320.09 L334.24,319.10 L335.00,318.11 L335.76,317.12 L336.52,316.15 L337.28,315.20 L338.04,314.27 L338.80,313.37 L339.56,312.51 L340.32,311.69 L341.08,310.92 L341.85,310.20 L342.61,309.54 L343.37,308.94 L344.13,308.41 L344.89,307.93 L345.65,307.52 L346.41,307.16 L347.17,306.85 L347.93,306.60 L348.69,306.41 L349.45,306.26 L350.22,306.16 L350.98,306.11 L351.74,306.10 L352.50,306.14 L353.26,306.22 L354.02,306.34 L354.78,306.50 L355.54,306.70 L356.30,306.93 L357.06,307.19 L357.82,307.49 L358.59,307.82 L359.35,308.18 L360.11,308.56 L360.87,308.97 L361.63,309.40 L362.39,309.86 L363.15,310.33 L363.91,310.83 L364.67,311.34 L365.43,311.86 L366.20,312.39 L366.96,312.93 L367.72,313.48 L368.48,314.03 L369.24,314.58 L370.00,315.13 L370.76,315.68 L371.52,316.22 L372.28,316.76 L373.04,317.28 L373.80,317.79 L374.57,318.29 L375.33,318.76 L376.09,319.22 L376.85,319.65 L377.61,320.06 L378.37,320.45 L379.13,320.80 L379.89,321.12 L380.65,321.41 L381.41,321.66 L382.17,321.87 L382.94,322.05 L383.70,322.17 L384.46,322.25 L385.22,322.29 L385.98,322.28 L386.74,322.22 L387.50,322.11 L388.26,321.95 L389.02,321.74 L389.78,321.48 L390.54,321.18 L391.31,320.82 L392.07,320.40 L392.83,319.94 L393.59,319.42 L394.35,318.85 L395.11,318.22 L395.87,317.54 L396.63,316.80 L397.39,316.01 L398.15,315.15 L398.92,314.25 L399.68,313.28 L400.44,312.25 L401.20,311.17 L401.96,310.02 L402.72,308.81 L403.48,307.55 L404.24,306.23 L405.00,304.85 L405.76,303.44 L406.52,301.98 L407.29,300.49 L408.05,298.98 L408.81,297.44 L409.57,295.88 L410.33,294.32 L411.09,292.74 L411.85,291.17 L412.61,289.60 L413.37,288.03 L414.13,286.45 L414.89,284.87 L415.66,283.27 L416.42,281.67 L417.18,280.06 L417.94,278.42 L418.70,276.77 L419.46,275.10 L420.22,273.41 L420.98,271.69 L421.74,269.95 L422.50,268.20 L423.27,266.44 L424.03,264.68 L424.79,262.92 L425.55,261.18 L426.31,259.45 L427.07,257.74 L427.83,256.06 L428.59,254.42 L429.35,252.82 L430.11,251.26 L430.87,249.76 L431.64,248.31 L432.40,246.93 L433.16,245.61 L433.92,244.34 L434.68,243.14 L435.44,242.00 L436.20,240.92 L436.96,239.89 L437.72,238.93 L438.48,238.04 L439.24,237.20 L440.01,236.43 L440.77,235.71 L441.53,235.06 L442.29,234.48 L443.05,233.95 L443.81,233.49 L444.57,233.09 L445.33,232.76 L446.09,232.48 L446.85,232.28 L447.61,232.13 L448.38,232.05 L449.14,232.04 L449.90,232.09 L450.66,232.20 L451.42,232.38 L452.18,232.63 L452.94,232.94 L453.70,233.32 L454.46,233.76 L455.22,234.27 L455.99,234.84 L456.75,235.49 L457.51,236.20 L458.27,236.97 L459.03,237.81 L459.79,238.71 L460.55,239.67 L461.31,240.70 L462.07,241.79 L462.83,242.93 L463.59,244.14 L464.36,245.40 L465.12,246.72 L465.88,248.10 L466.64,249.53 L467.40,251.01 L468.16,252.55 L468.92,254.14 L469.68,255.78 L470.44,257.48 L471.20,259.22 L471.96,261.01 L472.73,262.84 L473.49,264.73 L474.25,266.65 L475.01,268.63 L475.77,270.64 L476.53,272.70 L477.29,274.80 L478.05,276.94 L478.81,279.13 L479.57,281.35 L480.34,283.60 L481.10,285.90 L481.86,288.23 L482.62,290.59 L483.38,292.99 L484.14,295.43 L484.90,297.88 L485.66,300.33 L486.42,302.78 L487.18,305.19 L487.94,307.57 L488.71,309.89 L489.47,312.13 L490.23,314.29 L490.99,316.34 L491.75,318.27 L492.51,320.06 L493.27,321.71 L494.03,323.21 L494.79,324.57 L495.55,325.79 L496.31,326.89 L497.08,327.85 L497.84,328.70 L498.60,329.43 L499.36,330.05 L500.12,330.56 L500.88,330.97 L501.64,331.28 L502.40,331.51 L503.16,331.64" fill="none" stroke="#ff0a33" stroke-width="2" stroke-linejoin="round" stroke-linecap="butt"/>
<path d="M321.30,340.42 L322.06,340.33 L322.82,340.13 L323.58,339.81 L324.34,339.39 L325.10,338.87 L325.87,338.26 L326.63,337.57 L327.39,336.79 L328.15,335.93 L328.91,335.01 L329.67,334.02 L330.43,332.97 L331.19,331.87 L331.95,330.72 L332.71,329.53 L333.47,328.30 L334.24,327.04 L335.00,325.77 L335.76,324.48 L336.52,323.20 L337.28,321.92 L338.04,320.67 L338.80,319.45 L339.56,318.27 L340.32,317.14 L341.08,316.08 L341.85,315.09 L342.61,314.18 L343.37,313.36 L344.13,312.63 L344.89,311.98 L345.65,311.42 L346.41,310.94 L347.17,310.54 L347.93,310.21 L348.69,309.96 L349.45,309.77 L350.22,309.65 L350.98,309.58 L351.74,309.58 L352.50,309.64 L353.26,309.75 L354.02,309.90 L354.78,310.11 L355.54,310.36 L356.30,310.64 L357.06,310.97 L357.82,311.33 L358.59,311.73 L359.35,312.15 L360.11,312.60 L360.87,313.06 L361.63,313.55 L362.39,314.06 L363.15,314.58 L363.91,315.11 L364.67,315.65 L365.43,316.20 L366.20,316.75 L366.96,317.31 L367.72,317.87 L368.48,318.43 L369.24,318.99 L370.00,319.55 L370.76,320.09 L371.52,320.63 L372.28,321.17 L373.04,321.69 L373.80,322.19 L374.57,322.68 L375.33,323.15 L376.09,323.61 L376.85,324.04 L377.61,324.45 L378.37,324.83 L379.13,325.19 L379.89,325.52 L380.65,325.81 L381.41,326.08 L382.17,326.31 L382.94,326.50 L383.70,326.65 L384.46,326.76 L385.22,326.83 L385.98,326.86 L386.74,326.84 L387.50,326.78 L388.26,326.67 L389.02,326.51 L389.78,326.31 L390.54,326.05 L391.31,325.75 L392.07,325.39 L392.83,324.97 L393.59,324.51 L394.35,323.98 L395.11,323.40 L395.87,322.77 L396.63,322.07 L397.39,321.31 L398.15,320.49 L398.92,319.61 L399.68,318.67 L400.44,317.66 L401.20,316.58 L401.96,315.44 L402.72,314.23 L403.48,312.95 L404.24,311.61 L405.00,310.21 L405.76,308.77 L406.52,307.30 L407.29,305.79 L408.05,304.26 L408.81,302.72 L409.57,301.18 L410.33,299.63 L411.09,298.10 L411.85,296.59 L412.61,295.09 L413.37,293.61 L414.13,292.13 L414.89,290.65 L415.66,289.17 L416.42,287.67 L417.18,286.15 L417.94,284.61 L418.70,283.04 L419.46,281.43 L420.22,279.77 L420.98,278.07 L421.74,276.33 L422.50,274.55 L423.27,272.75 L424.03,270.94 L424.79,269.12 L425.55,267.30 L426.31,265.49 L427.07,263.69 L427.83,261.93 L428.59,260.20 L429.35,258.51 L430.11,256.88 L430.87,255.29 L431.64,253.76 L432.40,252.27 L433.16,250.84 L433.92,249.47 L434.68,248.15 L435.44,246.88 L436.20,245.68 L436.96,244.53 L437.72,243.44 L438.48,242.40 L439.24,241.43 L440.01,240.52 L440.77,239.67 L441.53,238.89 L442.29,238.17 L443.05,237.51 L443.81,236.92 L444.57,236.39 L445.33,235.93 L446.09,235.54 L446.85,235.22 L447.61,234.97 L448.38,234.79 L449.14,234.68 L449.90,234.64 L450.66,234.68 L451.42,234.79 L452.18,234.98 L452.94,235.24 L453.70,235.58 L454.46,235.99 L455.22,236.49 L455.99,237.06 L456.75,237.71 L457.51,238.43 L458.27,239.22 L459.03,240.09 L459.79,241.02 L460.55,242.03 L461.31,243.10 L462.07,244.24 L462.83,245.44 L463.59,246.70 L464.36,248.02 L465.12,249.41 L465.88,250.85 L466.64,252.35 L467.40,253.90 L468.16,255.51 L468.92,257.17 L469.68,258.88 L470.44,260.64 L471.20,262.44 L471.96,264.30 L472.73,266.20 L473.49,268.14 L474.25,270.12 L475.01,272.15 L475.77,274.21 L476.53,276.31 L477.29,278.45 L478.05,280.62 L478.81,282.83 L479.57,285.06 L480.34,287.33 L481.10,289.63 L481.86,291.95 L482.62,294.30 L483.38,296.67 L484.14,299.07 L484.90,301.49 L485.66,303.91 L486.42,306.34 L487.18,308.76 L487.94,311.17 L488.71,313.54 L489.47,315.89 L490.23,318.19 L490.99,320.43 L491.75,322.60 L492.51,324.69 L493.27,326.68 L494.03,328.57 L494.79,330.34 L495.55,332.00 L496.31,333.53 L497.08,334.93 L497.84,336.19 L498.60,337.31 L499.36,338.28 L500.12,339.10 L500.88,339.75 L501.64,340.24 L502.40,340.55 L503.16,340.68" fill="none" stroke="#00007f" stroke-width="2" stroke-linejoin="round" stroke-linecap="butt"/>
</g>
<rect x="312.5" y="217.5" width="200.0" height="134.0" fill="none" stroke="#6a6a6a" stroke-width="1.2"/>
<clipPath id="clipA3"><rect x="34.5" y="388.5" width="196.5" height="133.0"/></clipPath>
<g clip-path="url(#clipA3)">
<path d="M43.10,422.32 L43.85,423.68 L44.60,425.04 L45.35,426.41 L46.10,427.76 L46.85,429.08 L47.60,430.36 L48.35,431.59 L49.10,432.76 L49.85,433.85 L50.60,434.85 L51.35,435.76 L52.10,436.55 L52.85,437.22 L53.60,437.75 L54.35,438.13 L55.10,438.35 L55.85,438.41 L56.60,438.29 L57.35,438.03 L58.09,437.61 L58.84,437.06 L59.59,436.38 L60.34,435.57 L61.09,434.64 L61.84,433.61 L62.59,432.47 L63.34,431.24 L64.09,429.93 L64.84,428.53 L65.59,427.06 L66.34,425.52 L67.09,423.92 L67.84,422.27 L68.59,420.58 L69.34,418.86 L70.09,417.11 L70.84,415.36 L71.59,413.59 L72.34,411.83 L73.09,410.09 L73.84,408.37 L74.59,406.69 L75.34,405.05 L76.09,403.46 L76.84,401.94 L77.59,400.48 L78.34,399.12 L79.09,397.84 L79.84,396.66 L80.59,395.59 L81.34,394.65 L82.09,393.83 L82.84,393.15 L83.59,392.62 L84.34,392.25 L85.09,392.02 L85.84,391.92 L86.59,392.01 L87.34,392.26 L88.08,392.68 L88.83,393.26 L89.58,393.99 L90.33,394.87 L91.08,395.90 L91.83,397.06 L92.58,398.35 L93.33,399.78 L94.08,401.32 L94.83,402.98 L95.58,404.75 L96.33,406.62 L97.08,408.60 L97.83,410.67 L98.58,412.82 L99.33,415.06 L100.08,417.38 L100.83,419.77 L101.58,422.22 L102.33,424.74 L103.08,427.33 L103.83,430.02 L104.58,432.75 L105.33,435.52 L106.08,438.32 L106.83,441.15 L107.58,444.00 L108.33,446.86 L109.08,449.72 L109.83,452.58 L110.58,455.42 L111.33,458.24 L112.08,461.02 L112.83,463.77 L113.58,466.47 L114.33,469.10 L115.08,471.68 L115.83,474.19 L116.58,476.64 L117.33,479.00 L118.07,481.26 L118.82,483.40 L119.57,485.44 L120.32,487.34 L121.07,489.11 L121.82,490.74 L122.57,492.22 L123.32,493.54 L124.07,494.69 L124.82,495.66 L125.57,496.44 L126.32,497.04 L127.07,497.45 L127.82,497.70 L128.57,497.81 L129.32,497.78 L130.07,497.62 L130.82,497.34 L131.57,496.94 L132.32,496.44 L133.07,495.85 L133.82,495.18 L134.57,494.44 L135.32,493.64 L136.07,492.79 L136.82,491.91 L137.57,491.01 L138.32,490.09 L139.07,489.17 L139.82,488.26 L140.57,487.34 L141.32,486.43 L142.07,485.52 L142.82,484.60 L143.57,483.69 L144.32,482.77 L145.07,481.86 L145.82,480.94 L146.57,480.02 L147.32,479.09 L148.06,478.16 L148.81,477.22 L149.56,476.28 L150.31,475.34 L151.06,474.38 L151.81,473.42 L152.56,472.41 L153.31,471.40 L154.06,470.38 L154.81,469.34 L155.56,468.31 L156.31,467.26 L157.06,466.22 L157.81,465.17 L158.56,464.12 L159.31,463.06 L160.06,462.01 L160.81,460.96 L161.56,459.91 L162.31,458.87 L163.06,457.83 L163.81,456.80 L164.56,455.77 L165.31,454.76 L166.06,453.75 L166.81,452.76 L167.56,451.78 L168.31,450.81 L169.06,449.85 L169.81,448.92 L170.56,448.07 L171.31,447.24 L172.06,446.43 L172.81,445.64 L173.56,444.87 L174.31,444.13 L175.06,443.41 L175.81,442.71 L176.56,442.04 L177.31,441.40 L178.05,440.79 L178.80,440.21 L179.55,439.66 L180.30,439.13 L181.05,438.64 L181.80,438.16 L182.55,437.71 L183.30,437.28 L184.05,436.87 L184.80,436.47 L185.55,436.08 L186.30,435.71 L187.05,435.34 L187.80,434.97 L188.55,434.58 L189.30,434.18 L190.05,433.78 L190.80,433.38 L191.55,432.97 L192.30,432.56 L193.05,432.13 L193.80,431.69 L194.55,431.24 L195.30,430.77 L196.05,430.28 L196.80,429.77 L197.55,429.24 L198.30,428.68 L199.05,428.10 L199.80,427.48 L200.55,426.83 L201.30,426.14 L202.05,425.42 L202.80,424.66 L203.55,423.86 L204.30,423.02 L205.05,422.14 L205.80,421.25 L206.55,420.36 L207.30,419.47 L208.04,418.59 L208.79,417.75 L209.54,416.95 L210.29,416.20 L211.04,415.51 L211.79,414.90 L212.54,414.38 L213.29,413.96 L214.04,413.65 L214.79,413.46 L215.54,413.40 L216.29,413.50 L217.04,413.75 L217.79,414.17 L218.54,414.77 L219.29,415.56 L220.04,416.57 L220.79,417.78 L221.54,419.23 L222.29,420.91 L222.29,429.76 L221.54,428.14 L220.79,426.76 L220.04,425.61 L219.29,424.67 L218.54,423.94 L217.79,423.40 L217.04,423.05 L216.29,422.86 L215.54,422.83 L214.79,422.95 L214.04,423.20 L213.29,423.58 L212.54,424.07 L211.79,424.65 L211.04,425.33 L210.29,426.08 L209.54,426.89 L208.79,427.76 L208.04,428.67 L207.30,429.60 L206.55,430.56 L205.80,431.52 L205.05,432.47 L204.30,433.41 L203.55,434.32 L202.80,435.18 L202.05,436.01 L201.30,436.79 L200.55,437.54 L199.80,438.26 L199.05,438.94 L198.30,439.59 L197.55,440.21 L196.80,440.81 L196.05,441.38 L195.30,441.94 L194.55,442.47 L193.80,442.99 L193.05,443.49 L192.30,443.98 L191.55,444.46 L190.80,444.93 L190.05,445.40 L189.30,445.86 L188.55,446.32 L187.80,446.79 L187.05,447.30 L186.30,447.82 L185.55,448.34 L184.80,448.87 L184.05,449.42 L183.30,449.98 L182.55,450.56 L181.80,451.16 L181.05,451.78 L180.30,452.42 L179.55,453.09 L178.80,453.79 L178.05,454.52 L177.31,455.27 L176.56,456.06 L175.81,456.88 L175.06,457.72 L174.31,458.59 L173.56,459.48 L172.81,460.39 L172.06,461.33 L171.31,462.28 L170.56,463.26 L169.81,464.25 L169.06,465.19 L168.31,466.15 L167.56,467.12 L166.81,468.10 L166.06,469.09 L165.31,470.10 L164.56,471.11 L163.81,472.14 L163.06,473.17 L162.31,474.21 L161.56,475.25 L160.81,476.30 L160.06,477.35 L159.31,478.40 L158.56,479.46 L157.81,480.51 L157.06,481.56 L156.31,482.60 L155.56,483.65 L154.81,484.68 L154.06,485.72 L153.31,486.74 L152.56,487.75 L151.81,488.76 L151.06,489.79 L150.31,490.82 L149.56,491.84 L148.81,492.85 L148.06,493.86 L147.32,494.87 L146.57,495.87 L145.82,496.87 L145.07,497.86 L144.32,498.85 L143.57,499.84 L142.82,500.83 L142.07,501.82 L141.32,502.81 L140.57,503.80 L139.82,504.79 L139.07,505.78 L138.32,506.77 L137.57,507.77 L136.82,508.75 L136.07,509.70 L135.32,510.62 L134.57,511.49 L133.82,512.31 L133.07,513.06 L132.32,513.72 L131.57,514.30 L130.82,514.77 L130.07,515.13 L129.32,515.37 L128.57,515.46 L127.82,515.40 L127.07,515.15 L126.32,514.74 L125.57,514.14 L124.82,513.36 L124.07,512.39 L123.32,511.24 L122.57,509.92 L121.82,508.44 L121.07,506.81 L120.32,505.04 L119.57,503.14 L118.82,501.10 L118.07,498.96 L117.33,496.70 L116.58,494.34 L115.83,491.89 L115.08,489.34 L114.33,486.69 L113.58,483.99 L112.83,481.22 L112.08,478.40 L111.33,475.55 L110.58,472.66 L109.83,469.75 L109.08,466.82 L108.33,463.89 L107.58,460.96 L106.83,458.04 L106.08,455.14 L105.33,452.27 L104.58,449.43 L103.83,446.63 L103.08,443.88 L102.33,441.13 L101.58,438.42 L100.83,435.77 L100.08,433.18 L99.33,430.67 L98.58,428.23 L97.83,425.88 L97.08,423.62 L96.33,421.45 L95.58,419.38 L94.83,417.41 L94.08,415.56 L93.33,413.82 L92.58,412.20 L91.83,410.71 L91.08,409.35 L90.33,408.13 L89.58,407.05 L88.83,406.13 L88.08,405.35 L87.34,404.74 L86.59,404.29 L85.84,404.01 L85.09,403.91 L84.34,404.02 L83.59,404.33 L82.84,404.80 L82.09,405.41 L81.34,406.17 L80.59,407.05 L79.84,408.06 L79.09,409.18 L78.34,410.39 L77.59,411.70 L76.84,413.09 L76.09,414.56 L75.34,416.08 L74.59,417.66 L73.84,419.29 L73.09,420.94 L72.34,422.62 L71.59,424.32 L70.84,426.02 L70.09,427.72 L69.34,429.41 L68.59,431.07 L67.84,432.70 L67.09,434.28 L66.34,435.82 L65.59,437.30 L64.84,438.71 L64.09,440.04 L63.34,441.30 L62.59,442.47 L61.84,443.55 L61.09,444.52 L60.34,445.38 L59.59,446.13 L58.84,446.75 L58.09,447.24 L57.35,447.59 L56.60,447.80 L55.85,447.86 L55.10,447.76 L54.35,447.51 L53.60,447.09 L52.85,446.52 L52.10,445.82 L51.35,444.99 L50.60,444.05 L49.85,443.01 L49.10,441.89 L48.35,440.69 L47.60,439.42 L46.85,438.10 L46.10,436.75 L45.35,435.36 L44.60,433.96 L43.85,432.56 L43.10,431.17Z" fill="#00007f" fill-opacity="0.13" stroke="none"/>
<path d="M43.10,420.04 L43.85,421.64 L44.60,423.21 L45.35,424.74 L46.10,426.24 L46.85,427.69 L47.60,429.08 L48.35,430.40 L49.10,431.64 L49.85,432.80 L50.60,433.86 L51.35,434.83 L52.10,435.68 L52.85,436.40 L53.60,437.00 L54.35,437.46 L55.10,437.77 L55.85,437.93 L56.60,437.92 L57.35,437.75 L58.09,437.44 L58.84,437.00 L59.59,436.42 L60.34,435.72 L61.09,434.90 L61.84,433.97 L62.59,432.94 L63.34,431.81 L64.09,430.59 L64.84,429.29 L65.59,427.92 L66.34,426.47 L67.09,424.96 L67.84,423.40 L68.59,421.78 L69.34,420.13 L70.09,418.45 L70.84,416.74 L71.59,415.02 L72.34,413.30 L73.09,411.59 L73.84,409.89 L74.59,408.22 L75.34,406.58 L76.09,404.98 L76.84,403.43 L77.59,401.94 L78.34,400.53 L79.09,399.19 L79.84,397.94 L80.59,396.79 L81.34,395.74 L82.09,394.81 L82.84,394.01 L83.59,393.34 L84.34,392.81 L85.09,392.41 L85.84,392.15 L86.59,392.07 L87.34,392.14 L88.08,392.38 L88.83,392.78 L89.58,393.33 L90.33,394.03 L91.08,394.88 L91.83,395.86 L92.58,396.98 L93.33,398.23 L94.08,399.61 L94.83,401.11 L95.58,402.72 L96.33,404.45 L97.08,406.29 L97.83,408.23 L98.58,410.27 L99.33,412.40 L100.08,414.63 L100.83,416.93 L101.58,419.33 L102.33,421.79 L103.08,424.34 L103.83,426.99 L104.58,429.70 L105.33,432.46 L106.08,435.28 L106.83,438.15 L107.58,441.06 L108.33,444.01 L109.08,446.98 L109.83,449.96 L110.58,452.94 L111.33,455.90 L112.08,458.84 L112.83,461.74 L113.58,464.59 L114.33,467.37 L115.08,470.08 L115.83,472.72 L116.58,475.26 L117.33,477.69 L118.07,479.99 L118.82,482.17 L119.57,484.22 L120.32,486.13 L121.07,487.91 L121.82,489.55 L122.57,491.04 L123.32,492.39 L124.07,493.59 L124.82,494.63 L125.57,495.53 L126.32,496.26 L127.07,496.84 L127.82,497.26 L128.57,497.57 L129.32,497.78 L130.07,497.85 L130.82,497.81 L131.57,497.65 L132.32,497.39 L133.07,497.03 L133.82,496.58 L134.57,496.06 L135.32,495.47 L136.07,494.81 L136.82,494.10 L137.57,493.35 L138.32,492.55 L139.07,491.73 L139.82,490.89 L140.57,490.04 L141.32,489.17 L142.07,488.29 L142.82,487.40 L143.57,486.49 L144.32,485.57 L145.07,484.65 L145.82,483.71 L146.57,482.76 L147.32,481.81 L148.06,480.84 L148.81,479.87 L149.56,478.89 L150.31,477.91 L151.06,476.92 L151.81,475.91 L152.56,474.86 L153.31,473.81 L154.06,472.75 L154.81,471.69 L155.56,470.63 L156.31,469.56 L157.06,468.50 L157.81,467.43 L158.56,466.37 L159.31,465.31 L160.06,464.25 L160.81,463.19 L161.56,462.14 L162.31,461.10 L163.06,460.06 L163.81,459.03 L164.56,458.01 L165.31,456.99 L166.06,455.99 L166.81,455.00 L167.56,454.02 L168.31,453.06 L169.06,452.11 L169.81,451.17 L170.56,450.30 L171.31,449.45 L172.06,448.61 L172.81,447.79 L173.56,446.99 L174.31,446.22 L175.06,445.46 L175.81,444.73 L176.56,444.01 L177.31,443.33 L178.05,442.67 L178.80,442.03 L179.55,441.42 L180.30,440.84 L181.05,440.29 L181.80,439.76 L182.55,439.25 L183.30,438.76 L184.05,438.30 L184.80,437.84 L185.55,437.40 L186.30,436.98 L187.05,436.56 L187.80,436.15 L188.55,435.73 L189.30,435.31 L190.05,434.90 L190.80,434.48 L191.55,434.06 L192.30,433.64 L193.05,433.21 L193.80,432.77 L194.55,432.32 L195.30,431.86 L196.05,431.38 L196.80,430.89 L197.55,430.38 L198.30,429.84 L199.05,429.28 L199.80,428.70 L200.55,428.09 L201.30,427.45 L202.05,426.78 L202.80,426.07 L203.55,425.33 L204.30,424.55 L205.05,423.73 L205.80,422.88 L206.55,422.02 L207.30,421.14 L208.04,420.27 L208.79,419.41 L209.54,418.58 L210.29,417.78 L211.04,417.04 L211.79,416.35 L212.54,415.73 L213.29,415.20 L214.04,414.75 L214.79,414.41 L215.54,414.19 L216.29,414.09 L217.04,414.13 L217.79,414.32 L218.54,414.67 L219.29,415.19 L220.04,415.90 L220.79,416.79 L221.54,417.90 L222.29,419.22 L222.29,428.07 L221.54,426.81 L220.79,425.77 L220.04,424.94 L219.29,424.30 L218.54,423.84 L217.79,423.56 L217.04,423.43 L216.29,423.46 L215.54,423.62 L214.79,423.91 L214.04,424.31 L213.29,424.82 L212.54,425.42 L211.79,426.10 L211.04,426.85 L210.29,427.66 L209.54,428.52 L208.79,429.42 L208.04,430.34 L207.30,431.28 L206.55,432.22 L205.80,433.15 L205.05,434.06 L204.30,434.94 L203.55,435.79 L202.80,436.59 L202.05,437.36 L201.30,438.10 L200.55,438.80 L199.80,439.48 L199.05,440.13 L198.30,440.75 L197.55,441.35 L196.80,441.93 L196.05,442.48 L195.30,443.03 L194.55,443.55 L193.80,444.07 L193.05,444.57 L192.30,445.06 L191.55,445.55 L190.80,446.03 L190.05,446.51 L189.30,446.99 L188.55,447.47 L187.80,447.96 L187.05,448.47 L186.30,448.98 L185.55,449.51 L184.80,450.05 L184.05,450.60 L183.30,451.16 L182.55,451.75 L181.80,452.35 L181.05,452.98 L180.30,453.63 L179.55,454.31 L178.80,455.02 L178.05,455.75 L177.31,456.51 L176.56,457.29 L175.81,458.10 L175.06,458.93 L174.31,459.79 L173.56,460.66 L172.81,461.56 L172.06,462.48 L171.31,463.41 L170.56,464.36 L169.81,465.33 L169.06,466.27 L168.31,467.22 L167.56,468.18 L166.81,469.16 L166.06,470.15 L165.31,471.15 L164.56,472.17 L163.81,473.19 L163.06,474.22 L162.31,475.26 L161.56,476.30 L160.81,477.35 L160.06,478.41 L159.31,479.47 L158.56,480.53 L157.81,481.59 L157.06,482.66 L156.31,483.72 L155.56,484.79 L154.81,485.85 L154.06,486.91 L153.31,487.97 L152.56,489.02 L151.81,490.07 L151.06,491.16 L150.31,492.24 L149.56,493.32 L148.81,494.39 L148.06,495.46 L147.32,496.52 L146.57,497.57 L145.82,498.61 L145.07,499.64 L144.32,500.66 L143.57,501.67 L142.82,502.67 L142.07,503.66 L141.32,504.63 L140.57,505.59 L139.82,506.54 L139.07,507.48 L138.32,508.39 L137.57,509.28 L136.82,510.13 L136.07,510.93 L135.32,511.68 L134.57,512.37 L133.82,512.99 L133.07,513.52 L132.32,513.98 L131.57,514.33 L130.82,514.58 L130.07,514.72 L129.32,514.74 L128.57,514.63 L127.82,514.36 L127.07,513.90 L126.32,513.29 L125.57,512.52 L124.82,511.59 L124.07,510.50 L123.32,509.27 L122.57,507.89 L121.82,506.36 L121.07,504.69 L120.32,502.88 L119.57,500.93 L118.82,498.85 L118.07,496.63 L117.33,494.29 L116.58,491.83 L115.83,489.25 L115.08,486.56 L114.33,483.78 L113.58,480.93 L112.83,478.01 L112.08,475.04 L111.33,472.04 L110.58,469.00 L109.83,465.95 L109.08,462.90 L108.33,459.86 L107.58,456.85 L106.83,453.86 L106.08,450.92 L105.33,448.03 L104.58,445.20 L103.83,442.42 L103.08,439.71 L102.33,437.03 L101.58,434.42 L100.83,431.88 L100.08,429.43 L99.33,427.06 L98.58,424.78 L97.83,422.59 L97.08,420.50 L96.33,418.52 L95.58,416.65 L94.83,414.88 L94.08,413.24 L93.33,411.72 L92.58,410.32 L91.83,409.05 L91.08,407.92 L90.33,406.93 L89.58,406.08 L88.83,405.38 L88.08,404.84 L87.34,404.45 L86.59,404.23 L85.84,404.17 L85.09,404.28 L84.34,404.58 L83.59,405.04 L82.84,405.65 L82.09,406.40 L81.34,407.27 L80.59,408.25 L79.84,409.34 L79.09,410.53 L78.34,411.81 L77.59,413.16 L76.84,414.59 L76.09,416.07 L75.34,417.61 L74.59,419.19 L73.84,420.80 L73.09,422.44 L72.34,424.10 L71.59,425.75 L70.84,427.41 L70.09,429.05 L69.34,430.68 L68.59,432.27 L67.84,433.82 L67.09,435.32 L66.34,436.77 L65.59,438.16 L64.84,439.47 L64.09,440.71 L63.34,441.87 L62.59,442.94 L61.84,443.91 L61.09,444.77 L60.34,445.53 L59.59,446.17 L58.84,446.69 L58.09,447.07 L57.35,447.32 L56.60,447.42 L55.85,447.38 L55.10,447.18 L54.35,446.84 L53.60,446.34 L52.85,445.71 L52.10,444.94 L51.35,444.06 L50.60,443.06 L49.85,441.96 L49.10,440.77 L48.35,439.49 L47.60,438.14 L46.85,436.71 L46.10,435.23 L45.35,433.70 L44.60,432.13 L43.85,430.52 L43.10,428.89Z" fill="#ff0a33" fill-opacity="0.12" stroke="none"/>
<path d="M43.10,424.47 L43.85,426.08 L44.60,427.67 L45.35,429.22 L46.10,430.74 L46.85,432.20 L47.60,433.61 L48.35,434.95 L49.10,436.21 L49.85,437.38 L50.60,438.46 L51.35,439.44 L52.10,440.31 L52.85,441.06 L53.60,441.67 L54.35,442.15 L55.10,442.48 L55.85,442.65 L56.60,442.67 L57.35,442.54 L58.09,442.26 L58.84,441.84 L59.59,441.29 L60.34,440.62 L61.09,439.84 L61.84,438.94 L62.59,437.94 L63.34,436.84 L64.09,435.65 L64.84,434.38 L65.59,433.04 L66.34,431.62 L67.09,430.14 L67.84,428.61 L68.59,427.02 L69.34,425.40 L70.09,423.75 L70.84,422.08 L71.59,420.39 L72.34,418.70 L73.09,417.02 L73.84,415.35 L74.59,413.70 L75.34,412.09 L76.09,410.53 L76.84,409.01 L77.59,407.55 L78.34,406.17 L79.09,404.86 L79.84,403.64 L80.59,402.52 L81.34,401.51 L82.09,400.61 L82.84,399.83 L83.59,399.19 L84.34,398.69 L85.09,398.35 L85.84,398.16 L86.59,398.15 L87.34,398.30 L88.08,398.61 L88.83,399.08 L89.58,399.71 L90.33,400.48 L91.08,401.40 L91.83,402.46 L92.58,403.65 L93.33,404.97 L94.08,406.42 L94.83,408.00 L95.58,409.68 L96.33,411.49 L97.08,413.40 L97.83,415.41 L98.58,417.52 L99.33,419.73 L100.08,422.03 L100.83,424.41 L101.58,426.87 L102.33,429.41 L103.08,432.03 L103.83,434.71 L104.58,437.45 L105.33,440.25 L106.08,443.10 L106.83,446.01 L107.58,448.96 L108.33,451.94 L109.08,454.94 L109.83,457.96 L110.58,460.97 L111.33,463.97 L112.08,466.94 L112.83,469.88 L113.58,472.76 L114.33,475.58 L115.08,478.32 L115.83,480.98 L116.58,483.54 L117.33,485.99 L118.07,488.31 L118.82,490.51 L119.57,492.58 L120.32,494.51 L121.07,496.30 L121.82,497.95 L122.57,499.46 L123.32,500.83 L124.07,502.05 L124.82,503.11 L125.57,504.02 L126.32,504.77 L127.07,505.37 L127.82,505.81 L128.57,506.10 L129.32,506.26 L130.07,506.29 L130.82,506.20 L131.57,505.99 L132.32,505.68 L133.07,505.28 L133.82,504.78 L134.57,504.21 L135.32,503.57 L136.07,502.87 L136.82,502.11 L137.57,501.31 L138.32,500.47 L139.07,499.60 L139.82,498.72 L140.57,497.82 L141.32,496.90 L142.07,495.97 L142.82,495.03 L143.57,494.08 L144.32,493.12 L145.07,492.14 L145.82,491.16 L146.57,490.17 L147.32,489.16 L148.06,488.15 L148.81,487.13 L149.56,486.11 L150.31,485.08 L151.06,484.04 L151.81,482.99 L152.56,481.94 L153.31,480.89 L154.06,479.83 L154.81,478.77 L155.56,477.71 L156.31,476.64 L157.06,475.58 L157.81,474.51 L158.56,473.45 L159.31,472.39 L160.06,471.33 L160.81,470.27 L161.56,469.22 L162.31,468.18 L163.06,467.14 L163.81,466.11 L164.56,465.09 L165.31,464.07 L166.06,463.07 L166.81,462.08 L167.56,461.10 L168.31,460.14 L169.06,459.19 L169.81,458.25 L170.56,457.33 L171.31,456.43 L172.06,455.54 L172.81,454.68 L173.56,453.83 L174.31,453.00 L175.06,452.20 L175.81,451.41 L176.56,450.65 L177.31,449.92 L178.05,449.21 L178.80,448.52 L179.55,447.87 L180.30,447.24 L181.05,446.64 L181.80,446.06 L182.55,445.50 L183.30,444.96 L184.05,444.45 L184.80,443.94 L185.55,443.46 L186.30,442.98 L187.05,442.51 L187.80,442.06 L188.55,441.60 L189.30,441.15 L190.05,440.71 L190.80,440.26 L191.55,439.81 L192.30,439.35 L193.05,438.89 L193.80,438.42 L194.55,437.94 L195.30,437.44 L196.05,436.93 L196.80,436.41 L197.55,435.86 L198.30,435.29 L199.05,434.70 L199.80,434.09 L200.55,433.45 L201.30,432.77 L202.05,432.07 L202.80,431.33 L203.55,430.56 L204.30,429.75 L205.05,428.90 L205.80,428.02 L206.55,427.12 L207.30,426.21 L208.04,425.31 L208.79,424.42 L209.54,423.55 L210.29,422.72 L211.04,421.94 L211.79,421.22 L212.54,420.57 L213.29,420.01 L214.04,419.53 L214.79,419.16 L215.54,418.90 L216.29,418.77 L217.04,418.78 L217.79,418.94 L218.54,419.26 L219.29,419.75 L220.04,420.42 L220.79,421.28 L221.54,422.35 L222.29,423.64" fill="none" stroke="#ff0a33" stroke-width="2" stroke-linejoin="round" stroke-linecap="butt"/>
<path d="M43.10,426.74 L43.85,428.12 L44.60,429.50 L45.35,430.89 L46.10,432.25 L46.85,433.59 L47.60,434.89 L48.35,436.14 L49.10,437.32 L49.85,438.43 L50.60,439.45 L51.35,440.37 L52.10,441.18 L52.85,441.87 L53.60,442.42 L54.35,442.82 L55.10,443.06 L55.85,443.13 L56.60,443.05 L57.35,442.81 L58.09,442.43 L58.84,441.90 L59.59,441.25 L60.34,440.47 L61.09,439.58 L61.84,438.58 L62.59,437.47 L63.34,436.27 L64.09,434.98 L64.84,433.62 L65.59,432.18 L66.34,430.67 L67.09,429.10 L67.84,427.48 L68.59,425.83 L69.34,424.13 L70.09,422.42 L70.84,420.69 L71.59,418.96 L72.34,417.23 L73.09,415.52 L73.84,413.83 L74.59,412.18 L75.34,410.57 L76.09,409.01 L76.84,407.52 L77.59,406.09 L78.34,404.75 L79.09,403.51 L79.84,402.36 L80.59,401.32 L81.34,400.41 L82.09,399.62 L82.84,398.97 L83.59,398.47 L84.34,398.13 L85.09,397.96 L85.84,397.97 L86.59,398.15 L87.34,398.50 L88.08,399.01 L88.83,399.69 L89.58,400.52 L90.33,401.50 L91.08,402.62 L91.83,403.88 L92.58,405.28 L93.33,406.80 L94.08,408.44 L94.83,410.20 L95.58,412.06 L96.33,414.04 L97.08,416.11 L97.83,418.27 L98.58,420.53 L99.33,422.87 L100.08,425.28 L100.83,427.77 L101.58,430.32 L102.33,432.94 L103.08,435.61 L103.83,438.33 L104.58,441.09 L105.33,443.89 L106.08,446.73 L106.83,449.60 L107.58,452.48 L108.33,455.38 L109.08,458.27 L109.83,461.16 L110.58,464.04 L111.33,466.89 L112.08,469.71 L112.83,472.49 L113.58,475.23 L114.33,477.90 L115.08,480.51 L115.83,483.04 L116.58,485.49 L117.33,487.85 L118.07,490.11 L118.82,492.25 L119.57,494.29 L120.32,496.19 L121.07,497.96 L121.82,499.59 L122.57,501.07 L123.32,502.39 L124.07,503.54 L124.82,504.51 L125.57,505.29 L126.32,505.89 L127.07,506.30 L127.82,506.55 L128.57,506.64 L129.32,506.57 L130.07,506.38 L130.82,506.06 L131.57,505.62 L132.32,505.08 L133.07,504.45 L133.82,503.74 L134.57,502.96 L135.32,502.13 L136.07,501.25 L136.82,500.33 L137.57,499.39 L138.32,498.43 L139.07,497.48 L139.82,496.52 L140.57,495.57 L141.32,494.62 L142.07,493.67 L142.82,492.72 L143.57,491.77 L144.32,490.81 L145.07,489.86 L145.82,488.90 L146.57,487.94 L147.32,486.98 L148.06,486.01 L148.81,485.04 L149.56,484.06 L150.31,483.08 L151.06,482.09 L151.81,481.09 L152.56,480.08 L153.31,479.07 L154.06,478.05 L154.81,477.01 L155.56,475.98 L156.31,474.93 L157.06,473.89 L157.81,472.84 L158.56,471.79 L159.31,470.73 L160.06,469.68 L160.81,468.63 L161.56,467.58 L162.31,466.54 L163.06,465.50 L163.81,464.47 L164.56,463.44 L165.31,462.43 L166.06,461.42 L166.81,460.43 L167.56,459.45 L168.31,458.48 L169.06,457.52 L169.81,456.59 L170.56,455.66 L171.31,454.76 L172.06,453.88 L172.81,453.02 L173.56,452.17 L174.31,451.36 L175.06,450.56 L175.81,449.79 L176.56,449.05 L177.31,448.34 L178.05,447.65 L178.80,447.00 L179.55,446.37 L180.30,445.78 L181.05,445.21 L181.80,444.66 L182.55,444.14 L183.30,443.63 L184.05,443.14 L184.80,442.67 L185.55,442.21 L186.30,441.76 L187.05,441.32 L187.80,440.88 L188.55,440.45 L189.30,440.02 L190.05,439.59 L190.80,439.16 L191.55,438.72 L192.30,438.27 L193.05,437.81 L193.80,437.34 L194.55,436.86 L195.30,436.35 L196.05,435.83 L196.80,435.29 L197.55,434.73 L198.30,434.14 L199.05,433.52 L199.80,432.87 L200.55,432.19 L201.30,431.47 L202.05,430.71 L202.80,429.92 L203.55,429.09 L204.30,428.21 L205.05,427.31 L205.80,426.39 L206.55,425.46 L207.30,424.53 L208.04,423.63 L208.79,422.75 L209.54,421.92 L210.29,421.14 L211.04,420.42 L211.79,419.78 L212.54,419.22 L213.29,418.77 L214.04,418.42 L214.79,418.20 L215.54,418.12 L216.29,418.18 L217.04,418.40 L217.79,418.79 L218.54,419.36 L219.29,420.12 L220.04,421.09 L220.79,422.27 L221.54,423.69 L222.29,425.34" fill="none" stroke="#00007f" stroke-width="2" stroke-linejoin="round" stroke-linecap="butt"/>
</g>
<rect x="34.5" y="388.5" width="196.5" height="133.0" fill="none" stroke="#6a6a6a" stroke-width="1.2"/>
<clipPath id="clipB3"><rect x="311.5" y="389.0" width="202.29999999999995" height="136.5"/></clipPath>
<g clip-path="url(#clipB3)">
<path d="M320.30,432.83 L321.07,434.06 L321.84,435.28 L322.62,436.49 L323.39,437.67 L324.16,438.82 L324.93,439.93 L325.70,440.99 L326.48,441.99 L327.25,442.93 L328.02,443.79 L328.79,444.57 L329.57,445.26 L330.34,445.84 L331.11,446.32 L331.88,446.69 L332.65,446.92 L333.43,447.03 L334.20,447.03 L334.97,446.89 L335.74,446.63 L336.51,446.23 L337.29,445.72 L338.06,445.08 L338.83,444.34 L339.60,443.49 L340.38,442.54 L341.15,441.49 L341.92,440.36 L342.69,439.13 L343.46,437.82 L344.24,436.44 L345.01,434.99 L345.78,433.47 L346.55,431.90 L347.32,430.29 L348.10,428.65 L348.87,426.99 L349.64,425.32 L350.41,423.65 L351.18,422.01 L351.96,420.39 L352.73,418.81 L353.50,417.28 L354.27,415.82 L355.05,414.43 L355.82,413.13 L356.59,411.92 L357.36,410.80 L358.13,409.78 L358.91,408.87 L359.68,408.05 L360.45,407.34 L361.22,406.74 L361.99,406.25 L362.77,405.87 L363.54,405.61 L364.31,405.47 L365.08,405.44 L365.85,405.39 L366.63,405.47 L367.40,405.68 L368.17,406.02 L368.94,406.50 L369.72,407.11 L370.49,407.86 L371.26,408.74 L372.03,409.75 L372.80,410.88 L373.58,412.13 L374.35,413.49 L375.12,414.96 L375.89,416.54 L376.66,418.22 L377.44,419.99 L378.21,421.86 L378.98,423.84 L379.75,425.91 L380.53,428.05 L381.30,430.27 L382.07,432.56 L382.84,434.91 L383.61,437.32 L384.39,439.79 L385.16,442.31 L385.93,444.88 L386.70,447.48 L387.47,450.10 L388.25,452.74 L389.02,455.37 L389.79,458.08 L390.56,460.80 L391.33,463.49 L392.11,466.13 L392.88,468.71 L393.65,471.23 L394.42,473.66 L395.20,476.00 L395.97,478.24 L396.74,480.36 L397.51,482.36 L398.28,484.24 L399.06,485.99 L399.83,487.62 L400.60,489.14 L401.37,490.60 L402.14,491.95 L402.92,493.19 L403.69,494.32 L404.46,495.35 L405.23,496.27 L406.01,497.09 L406.78,497.81 L407.55,498.44 L408.32,498.97 L409.09,499.41 L409.87,499.77 L410.64,500.06 L411.41,500.26 L412.18,500.39 L412.95,500.43 L413.73,500.40 L414.50,500.30 L415.27,500.12 L416.04,499.87 L416.81,499.56 L417.59,499.18 L418.36,498.74 L419.13,498.25 L419.90,497.69 L420.68,497.08 L421.45,496.42 L422.22,495.71 L422.99,494.96 L423.76,494.16 L424.54,493.32 L425.31,492.44 L426.08,491.53 L426.85,490.59 L427.62,489.61 L428.40,488.62 L429.17,487.59 L429.94,486.55 L430.71,485.49 L431.48,484.42 L432.26,483.33 L433.03,482.20 L433.80,481.08 L434.57,479.94 L435.35,478.81 L436.12,477.68 L436.89,476.56 L437.66,475.44 L438.43,474.34 L439.21,473.24 L439.98,472.17 L440.75,471.11 L441.52,470.08 L442.29,469.07 L443.07,468.08 L443.84,467.11 L444.61,466.17 L445.38,465.24 L446.16,464.34 L446.93,463.45 L447.70,462.59 L448.47,461.74 L449.24,460.91 L450.02,460.10 L450.79,459.31 L451.56,458.54 L452.33,457.78 L453.10,457.04 L453.88,456.31 L454.65,455.60 L455.42,454.91 L456.19,454.23 L456.96,453.57 L457.74,452.91 L458.51,452.28 L459.28,451.65 L460.05,451.04 L460.83,450.44 L461.60,449.85 L462.37,449.27 L463.14,448.70 L463.91,448.15 L464.69,447.60 L465.46,447.06 L466.23,446.54 L467.00,446.02 L467.77,445.50 L468.55,445.00 L469.32,444.49 L470.09,444.00 L470.86,443.50 L471.63,443.01 L472.41,442.51 L473.18,442.02 L473.95,441.52 L474.72,441.03 L475.50,440.53 L476.27,440.02 L477.04,439.51 L477.81,438.99 L478.58,438.46 L479.36,437.93 L480.13,437.38 L480.90,436.83 L481.67,436.26 L482.44,435.68 L483.22,435.08 L483.99,434.47 L484.76,433.84 L485.53,433.20 L486.31,432.54 L487.08,431.85 L487.85,431.15 L488.62,430.43 L489.39,429.72 L490.17,429.01 L490.94,428.32 L491.71,427.65 L492.48,427.03 L493.25,426.47 L494.03,425.96 L494.80,425.53 L495.57,425.18 L496.34,424.92 L497.11,424.77 L497.89,424.74 L498.66,424.83 L499.43,425.06 L500.20,425.44 L500.98,425.98 L501.75,426.69 L502.52,427.58 L503.29,428.66 L504.06,429.95 L504.84,431.45 L504.84,439.97 L504.06,438.55 L503.29,437.35 L502.52,436.35 L501.75,435.55 L500.98,434.92 L500.20,434.47 L499.43,434.17 L498.66,434.02 L497.89,434.01 L497.11,434.13 L496.34,434.37 L495.57,434.70 L494.80,435.14 L494.03,435.66 L493.25,436.25 L492.48,436.90 L491.71,437.60 L490.94,438.35 L490.17,439.12 L489.39,439.92 L488.62,440.72 L487.85,441.52 L487.08,442.31 L486.31,443.07 L485.53,443.82 L484.76,444.55 L483.99,445.26 L483.22,445.95 L482.44,446.63 L481.67,447.30 L480.90,447.95 L480.13,448.59 L479.36,449.22 L478.58,449.84 L477.81,450.45 L477.04,451.06 L476.27,451.65 L475.50,452.24 L474.72,452.83 L473.95,453.41 L473.18,453.99 L472.41,454.57 L471.63,455.15 L470.86,455.72 L470.09,456.30 L469.32,456.89 L468.55,457.47 L467.77,458.07 L467.00,458.66 L466.23,459.27 L465.46,459.88 L464.69,460.50 L463.91,461.13 L463.14,461.78 L462.37,462.43 L461.60,463.09 L460.83,463.76 L460.05,464.45 L459.28,465.15 L458.51,465.86 L457.74,466.58 L456.96,467.31 L456.19,468.06 L455.42,468.83 L454.65,469.61 L453.88,470.40 L453.10,471.21 L452.33,472.04 L451.56,472.88 L450.79,473.74 L450.02,474.61 L449.24,475.51 L448.47,476.42 L447.70,477.35 L446.93,478.30 L446.16,479.27 L445.38,480.26 L444.61,481.27 L443.84,482.30 L443.07,483.35 L442.29,484.43 L441.52,485.52 L440.75,486.64 L439.98,487.78 L439.21,488.94 L438.43,490.12 L437.66,491.31 L436.89,492.51 L436.12,493.72 L435.35,494.93 L434.57,496.15 L433.80,497.37 L433.03,498.58 L432.26,499.78 L431.48,501.00 L430.71,502.22 L429.94,503.41 L429.17,504.59 L428.40,505.75 L427.62,506.89 L426.85,508.00 L426.08,509.08 L425.31,510.13 L424.54,511.14 L423.76,512.12 L422.99,513.06 L422.22,513.95 L421.45,514.80 L420.68,515.59 L419.90,516.34 L419.13,517.03 L418.36,517.67 L417.59,518.24 L416.81,518.76 L416.04,519.21 L415.27,519.59 L414.50,519.90 L413.73,520.15 L412.95,520.31 L412.18,520.41 L411.41,520.42 L410.64,520.35 L409.87,520.20 L409.09,519.95 L408.32,519.60 L407.55,519.16 L406.78,518.63 L406.01,518.00 L405.23,517.27 L404.46,516.44 L403.69,515.51 L402.92,514.48 L402.14,513.33 L401.37,512.08 L400.60,510.71 L399.83,509.17 L399.06,507.50 L398.28,505.71 L397.51,503.80 L396.74,501.76 L395.97,499.60 L395.20,497.32 L394.42,494.94 L393.65,492.47 L392.88,489.91 L392.11,487.29 L391.33,484.61 L390.56,481.88 L389.79,479.12 L389.02,476.30 L388.25,473.39 L387.47,470.48 L386.70,467.58 L385.93,464.70 L385.16,461.86 L384.39,459.07 L383.61,456.33 L382.84,453.64 L382.07,451.01 L381.30,448.45 L380.53,445.96 L379.75,443.54 L378.98,441.20 L378.21,438.94 L377.44,436.75 L376.66,434.64 L375.89,432.63 L375.12,430.71 L374.35,428.91 L373.58,427.21 L372.80,425.62 L372.03,424.16 L371.26,422.81 L370.49,421.59 L369.72,420.51 L368.94,419.56 L368.17,418.75 L367.40,418.07 L366.63,417.53 L365.85,417.11 L365.08,416.82 L364.31,416.81 L363.54,416.92 L362.77,417.15 L361.99,417.50 L361.22,417.96 L360.45,418.54 L359.68,419.22 L358.91,420.01 L358.13,420.90 L357.36,421.89 L356.59,422.97 L355.82,424.16 L355.05,425.43 L354.27,426.79 L353.50,428.23 L352.73,429.73 L351.96,431.28 L351.18,432.87 L350.41,434.49 L349.64,436.13 L348.87,437.77 L348.10,439.40 L347.32,441.01 L346.55,442.60 L345.78,444.14 L345.01,445.63 L344.24,447.06 L343.46,448.41 L342.69,449.69 L341.92,450.89 L341.15,452.00 L340.38,453.02 L339.60,453.94 L338.83,454.76 L338.06,455.48 L337.29,456.08 L336.51,456.57 L335.74,456.94 L334.97,457.18 L334.20,457.28 L333.43,457.26 L332.65,457.06 L331.88,456.72 L331.11,456.25 L330.34,455.67 L329.57,454.99 L328.79,454.20 L328.02,453.32 L327.25,452.36 L326.48,451.32 L325.70,450.22 L324.93,449.06 L324.16,447.85 L323.39,446.60 L322.62,445.31 L321.84,444.00 L321.07,442.68 L320.30,441.35Z" fill="#00007f" fill-opacity="0.13" stroke="none"/>
<path d="M320.30,425.59 L321.07,427.05 L321.84,428.37 L322.62,429.55 L323.39,430.60 L324.16,431.52 L324.93,432.31 L325.70,432.98 L326.48,433.53 L327.25,433.96 L328.02,434.28 L328.79,434.49 L329.57,434.59 L330.34,434.60 L331.11,434.50 L331.88,434.31 L332.65,434.02 L333.43,433.65 L334.20,433.16 L334.97,432.59 L335.74,431.94 L336.51,431.22 L337.29,430.42 L338.06,429.56 L338.83,428.64 L339.60,427.66 L340.38,426.62 L341.15,425.53 L341.92,424.39 L342.69,423.20 L343.46,421.98 L344.24,420.73 L345.01,419.45 L345.78,418.15 L346.55,416.83 L347.32,415.51 L348.10,414.18 L348.87,412.85 L349.64,411.53 L350.41,410.22 L351.18,408.93 L351.96,407.66 L352.73,406.43 L353.50,405.23 L354.27,404.07 L355.05,402.95 L355.82,401.89 L356.59,400.89 L357.36,399.95 L358.13,399.08 L358.91,398.28 L359.68,397.56 L360.45,396.93 L361.22,396.39 L361.99,395.95 L362.77,395.61 L363.54,395.38 L364.31,395.26 L365.08,395.26 L365.85,395.37 L366.63,395.59 L367.40,395.93 L368.17,396.36 L368.94,396.91 L369.72,397.56 L370.49,398.31 L371.26,399.15 L372.03,400.10 L372.80,401.14 L373.58,402.28 L374.35,403.51 L375.12,404.83 L375.89,406.24 L376.66,407.73 L377.44,409.31 L378.21,410.98 L378.98,412.72 L379.75,414.54 L380.53,416.43 L381.30,418.38 L382.07,420.39 L382.84,422.45 L383.61,424.55 L384.39,426.69 L385.16,428.86 L385.93,431.03 L386.70,433.19 L387.47,435.37 L388.25,437.55 L389.02,439.73 L389.79,441.90 L390.56,444.05 L391.33,446.18 L392.11,448.29 L392.88,450.36 L393.65,452.40 L394.42,454.40 L395.20,456.35 L395.97,458.25 L396.74,460.10 L397.51,461.89 L398.28,463.60 L399.06,465.25 L399.83,466.83 L400.60,468.32 L401.37,469.73 L402.14,471.05 L402.92,472.27 L403.69,473.39 L404.46,474.42 L405.23,475.35 L406.01,476.20 L406.78,476.95 L407.55,477.61 L408.32,478.20 L409.09,478.70 L409.87,479.12 L410.64,479.47 L411.41,479.74 L412.18,479.94 L412.95,480.08 L413.73,480.20 L414.50,480.40 L415.27,480.53 L416.04,480.61 L416.81,480.63 L417.59,480.60 L418.36,480.51 L419.13,480.37 L419.90,480.18 L420.68,479.94 L421.45,479.64 L422.22,479.30 L422.99,478.91 L423.76,478.47 L424.54,477.98 L425.31,477.45 L426.08,476.88 L426.85,476.26 L427.62,475.60 L428.40,474.91 L429.17,474.17 L429.94,473.39 L430.71,472.57 L431.48,471.73 L432.26,470.85 L433.03,469.94 L433.80,469.01 L434.57,468.06 L435.35,467.09 L436.12,466.10 L436.89,465.09 L437.66,464.07 L438.43,463.05 L439.21,462.02 L439.98,460.98 L440.75,459.94 L441.52,458.90 L442.29,457.78 L443.07,456.67 L443.84,455.57 L444.61,454.48 L445.38,453.40 L446.16,452.34 L446.93,451.30 L447.70,450.28 L448.47,449.28 L449.24,448.31 L450.02,447.36 L450.79,446.44 L451.56,445.55 L452.33,444.70 L453.10,443.88 L453.88,443.10 L454.65,442.36 L455.42,441.65 L456.19,440.99 L456.96,440.37 L457.74,439.78 L458.51,439.21 L459.28,438.67 L460.05,438.16 L460.83,437.65 L461.60,437.16 L462.37,436.68 L463.14,436.21 L463.91,435.73 L464.69,435.26 L465.46,434.77 L466.23,434.28 L467.00,433.77 L467.77,433.26 L468.55,432.74 L469.32,432.21 L470.09,431.68 L470.86,431.14 L471.63,430.60 L472.41,430.06 L473.18,429.51 L473.95,428.97 L474.72,428.43 L475.50,427.90 L476.27,427.36 L477.04,426.84 L477.81,426.32 L478.58,425.81 L479.36,425.28 L480.13,424.77 L480.90,424.27 L481.67,423.77 L482.44,423.30 L483.22,422.84 L483.99,422.39 L484.76,421.96 L485.53,421.56 L486.31,421.17 L487.08,420.80 L487.85,420.46 L488.62,420.14 L489.39,419.85 L490.17,419.60 L490.94,419.37 L491.71,419.19 L492.48,419.04 L493.25,418.95 L494.03,418.89 L494.80,418.89 L495.57,418.95 L496.34,419.06 L497.11,419.23 L497.89,419.47 L498.66,419.77 L499.43,420.14 L500.20,420.58 L500.98,421.10 L501.75,421.71 L502.52,422.39 L503.29,423.16 L504.06,424.02 L504.84,424.97 L504.84,436.33 L504.06,435.38 L503.29,434.52 L502.52,433.75 L501.75,433.07 L500.98,432.46 L500.20,431.94 L499.43,431.50 L498.66,431.13 L497.89,430.83 L497.11,430.59 L496.34,430.42 L495.57,430.31 L494.80,430.25 L494.03,430.25 L493.25,430.31 L492.48,430.40 L491.71,430.55 L490.94,430.73 L490.17,430.96 L489.39,431.21 L488.62,431.50 L487.85,431.82 L487.08,432.16 L486.31,432.53 L485.53,432.92 L484.76,433.32 L483.99,433.75 L483.22,434.20 L482.44,434.66 L481.67,435.13 L480.90,435.63 L480.13,436.13 L479.36,436.64 L478.58,437.18 L477.81,437.73 L477.04,438.30 L476.27,438.87 L475.50,439.45 L474.72,440.04 L473.95,440.62 L473.18,441.21 L472.41,441.80 L471.63,442.39 L470.86,442.98 L470.09,443.56 L469.32,444.14 L468.55,444.72 L467.77,445.29 L467.00,445.85 L466.23,446.40 L465.46,446.94 L464.69,447.47 L463.91,448.00 L463.14,448.52 L462.37,449.04 L461.60,449.57 L460.83,450.11 L460.05,450.65 L459.28,451.22 L458.51,451.81 L457.74,452.42 L456.96,453.06 L456.19,453.73 L455.42,454.44 L454.65,455.18 L453.88,455.97 L453.10,456.80 L452.33,457.67 L451.56,458.57 L450.79,459.50 L450.02,460.47 L449.24,461.47 L448.47,462.49 L447.70,463.53 L446.93,464.60 L446.16,465.69 L445.38,466.80 L444.61,467.92 L443.84,469.06 L443.07,470.21 L442.29,471.36 L441.52,472.53 L440.75,473.78 L439.98,475.03 L439.21,476.29 L438.43,477.54 L437.66,478.79 L436.89,480.02 L436.12,481.25 L435.35,482.46 L434.57,483.65 L433.80,484.82 L433.03,485.97 L432.26,487.10 L431.48,488.20 L430.71,489.26 L429.94,490.30 L429.17,491.29 L428.40,492.25 L427.62,493.17 L426.85,494.05 L426.08,494.89 L425.31,495.68 L424.54,496.43 L423.76,497.13 L422.99,497.79 L422.22,498.40 L421.45,498.97 L420.68,499.48 L419.90,499.94 L419.13,500.36 L418.36,500.72 L417.59,501.02 L416.81,501.28 L416.04,501.47 L415.27,501.61 L414.50,501.70 L413.73,501.72 L412.95,501.55 L412.18,501.26 L411.41,500.90 L410.64,500.47 L409.87,499.97 L409.09,499.39 L408.32,498.73 L407.55,497.99 L406.78,497.17 L406.01,496.26 L405.23,495.26 L404.46,494.17 L403.69,492.99 L402.92,491.70 L402.14,490.32 L401.37,488.85 L400.60,487.28 L399.83,485.63 L399.06,483.90 L398.28,482.10 L397.51,480.22 L396.74,478.28 L395.97,476.28 L395.20,474.22 L394.42,472.11 L393.65,469.95 L392.88,467.76 L392.11,465.53 L391.33,463.26 L390.56,460.97 L389.79,458.66 L389.02,456.34 L388.25,454.00 L387.47,451.67 L386.70,449.33 L385.93,447.01 L385.16,444.73 L384.39,442.50 L383.61,440.30 L382.84,438.13 L382.07,436.01 L381.30,433.93 L380.53,431.92 L379.75,429.96 L378.98,428.08 L378.21,426.27 L377.44,424.54 L376.66,422.90 L375.89,421.34 L375.12,419.87 L374.35,418.48 L373.58,417.19 L372.80,415.99 L372.03,414.88 L371.26,413.87 L370.49,412.96 L369.72,412.14 L368.94,411.43 L368.17,410.82 L367.40,410.32 L366.63,409.93 L365.85,409.64 L365.08,409.46 L364.31,409.40 L363.54,409.45 L362.77,409.61 L361.99,409.88 L361.22,410.25 L360.45,410.72 L359.68,411.28 L358.91,411.93 L358.13,412.66 L357.36,413.46 L356.59,414.33 L355.82,415.27 L355.05,416.26 L354.27,417.30 L353.50,418.39 L352.73,419.52 L351.96,420.69 L351.18,421.89 L350.41,423.11 L349.64,424.35 L348.87,425.60 L348.10,426.86 L347.32,428.12 L346.55,429.37 L345.78,430.62 L345.01,431.85 L344.24,433.06 L343.46,434.25 L342.69,435.40 L341.92,436.51 L341.15,437.59 L340.38,438.61 L339.60,439.58 L338.83,440.49 L338.06,441.35 L337.29,442.14 L336.51,442.86 L335.74,443.51 L334.97,444.09 L334.20,444.60 L333.43,445.02 L332.65,445.38 L331.88,445.67 L331.11,445.86 L330.34,445.96 L329.57,445.95 L328.79,445.85 L328.02,445.64 L327.25,445.32 L326.48,444.89 L325.70,444.34 L324.93,443.67 L324.16,442.88 L323.39,441.96 L322.62,440.91 L321.84,439.73 L321.07,438.41 L320.30,436.95Z" fill="#ff0a33" fill-opacity="0.12" stroke="none"/>
<path d="M320.30,431.27 L321.07,432.73 L321.84,434.05 L322.62,435.23 L323.39,436.28 L324.16,437.20 L324.93,437.99 L325.70,438.66 L326.48,439.21 L327.25,439.64 L328.02,439.96 L328.79,440.17 L329.57,440.27 L330.34,440.28 L331.11,440.18 L331.88,439.99 L332.65,439.70 L333.43,439.33 L334.20,438.88 L334.97,438.34 L335.74,437.73 L336.51,437.04 L337.29,436.28 L338.06,435.45 L338.83,434.57 L339.60,433.62 L340.38,432.61 L341.15,431.56 L341.92,430.45 L342.69,429.30 L343.46,428.11 L344.24,426.90 L345.01,425.65 L345.78,424.38 L346.55,423.10 L347.32,421.81 L348.10,420.52 L348.87,419.22 L349.64,417.94 L350.41,416.66 L351.18,415.41 L351.96,414.18 L352.73,412.98 L353.50,411.81 L354.27,410.68 L355.05,409.61 L355.82,408.58 L356.59,407.61 L357.36,406.70 L358.13,405.87 L358.91,405.11 L359.68,404.42 L360.45,403.83 L361.22,403.32 L361.99,402.92 L362.77,402.61 L363.54,402.41 L364.31,402.33 L365.08,402.36 L365.85,402.51 L366.63,402.76 L367.40,403.12 L368.17,403.59 L368.94,404.17 L369.72,404.85 L370.49,405.63 L371.26,406.51 L372.03,407.49 L372.80,408.57 L373.58,409.74 L374.35,411.00 L375.12,412.35 L375.89,413.79 L376.66,415.32 L377.44,416.93 L378.21,418.62 L378.98,420.40 L379.75,422.25 L380.53,424.17 L381.30,426.16 L382.07,428.20 L382.84,430.29 L383.61,432.42 L384.39,434.59 L385.16,436.80 L385.93,439.02 L386.70,441.26 L387.47,443.52 L388.25,445.78 L389.02,448.03 L389.79,450.28 L390.56,452.51 L391.33,454.72 L392.11,456.91 L392.88,459.06 L393.65,461.18 L394.42,463.26 L395.20,465.29 L395.97,467.27 L396.74,469.19 L397.51,471.05 L398.28,472.85 L399.06,474.58 L399.83,476.23 L400.60,477.80 L401.37,479.29 L402.14,480.69 L402.92,481.99 L403.69,483.19 L404.46,484.30 L405.23,485.31 L406.01,486.23 L406.78,487.06 L407.55,487.80 L408.32,488.46 L409.09,489.04 L409.87,489.54 L410.64,489.97 L411.41,490.32 L412.18,490.60 L412.95,490.81 L413.73,490.96 L414.50,491.05 L415.27,491.07 L416.04,491.04 L416.81,490.96 L417.59,490.81 L418.36,490.61 L419.13,490.36 L419.90,490.06 L420.68,489.71 L421.45,489.30 L422.22,488.85 L422.99,488.35 L423.76,487.80 L424.54,487.21 L425.31,486.57 L426.08,485.88 L426.85,485.16 L427.62,484.39 L428.40,483.58 L429.17,482.73 L429.94,481.84 L430.71,480.92 L431.48,479.96 L432.26,478.97 L433.03,477.96 L433.80,476.92 L434.57,475.86 L435.35,474.77 L436.12,473.67 L436.89,472.56 L437.66,471.43 L438.43,470.29 L439.21,469.15 L439.98,468.01 L440.75,466.86 L441.52,465.71 L442.29,464.57 L443.07,463.44 L443.84,462.31 L444.61,461.20 L445.38,460.10 L446.16,459.02 L446.93,457.95 L447.70,456.91 L448.47,455.88 L449.24,454.89 L450.02,453.92 L450.79,452.97 L451.56,452.06 L452.33,451.18 L453.10,450.34 L453.88,449.53 L454.65,448.77 L455.42,448.05 L456.19,447.36 L456.96,446.71 L457.74,446.10 L458.51,445.51 L459.28,444.95 L460.05,444.40 L460.83,443.88 L461.60,443.37 L462.37,442.86 L463.14,442.36 L463.91,441.86 L464.69,441.36 L465.46,440.86 L466.23,440.34 L467.00,439.81 L467.77,439.27 L468.55,438.73 L469.32,438.18 L470.09,437.62 L470.86,437.06 L471.63,436.50 L472.41,435.93 L473.18,435.36 L473.95,434.80 L474.72,434.24 L475.50,433.68 L476.27,433.12 L477.04,432.57 L477.81,432.03 L478.58,431.49 L479.36,430.96 L480.13,430.45 L480.90,429.95 L481.67,429.45 L482.44,428.98 L483.22,428.52 L483.99,428.07 L484.76,427.64 L485.53,427.24 L486.31,426.85 L487.08,426.48 L487.85,426.14 L488.62,425.82 L489.39,425.53 L490.17,425.28 L490.94,425.05 L491.71,424.87 L492.48,424.72 L493.25,424.63 L494.03,424.57 L494.80,424.57 L495.57,424.63 L496.34,424.74 L497.11,424.91 L497.89,425.15 L498.66,425.45 L499.43,425.82 L500.20,426.26 L500.98,426.78 L501.75,427.39 L502.52,428.07 L503.29,428.84 L504.06,429.70 L504.84,430.65" fill="none" stroke="#ff0a33" stroke-width="2" stroke-linejoin="round" stroke-linecap="butt"/>
<path d="M320.30,437.09 L321.07,438.37 L321.84,439.64 L322.62,440.90 L323.39,442.13 L324.16,443.33 L324.93,444.49 L325.70,445.60 L326.48,446.66 L327.25,447.64 L328.02,448.56 L328.79,449.38 L329.57,450.12 L330.34,450.76 L331.11,451.29 L331.88,451.70 L332.65,451.99 L333.43,452.14 L334.20,452.16 L334.97,452.03 L335.74,451.78 L336.51,451.40 L337.29,450.90 L338.06,450.28 L338.83,449.55 L339.60,448.72 L340.38,447.78 L341.15,446.75 L341.92,445.62 L342.69,444.41 L343.46,443.12 L344.24,441.75 L345.01,440.31 L345.78,438.81 L346.55,437.25 L347.32,435.65 L348.10,434.02 L348.87,432.38 L349.64,430.72 L350.41,429.07 L351.18,427.44 L351.96,425.83 L352.73,424.27 L353.50,422.76 L354.27,421.31 L355.05,419.93 L355.82,418.64 L356.59,417.45 L357.36,416.34 L358.13,415.34 L358.91,414.44 L359.68,413.63 L360.45,412.94 L361.22,412.35 L361.99,411.87 L362.77,411.51 L363.54,411.27 L364.31,411.14 L365.08,411.13 L365.85,411.25 L366.63,411.50 L367.40,411.88 L368.17,412.38 L368.94,413.03 L369.72,413.81 L370.49,414.73 L371.26,415.78 L372.03,416.95 L372.80,418.25 L373.58,419.67 L374.35,421.20 L375.12,422.84 L375.89,424.58 L376.66,426.43 L377.44,428.37 L378.21,430.40 L378.98,432.52 L379.75,434.73 L380.53,437.01 L381.30,439.36 L382.07,441.78 L382.84,444.27 L383.61,446.82 L384.39,449.43 L385.16,452.09 L385.93,454.79 L386.70,457.53 L387.47,460.29 L388.25,463.06 L389.02,465.84 L389.79,468.60 L390.56,471.34 L391.33,474.05 L392.11,476.71 L392.88,479.31 L393.65,481.85 L394.42,484.30 L395.20,486.66 L395.97,488.92 L396.74,491.06 L397.51,493.08 L398.28,494.97 L399.06,496.74 L399.83,498.39 L400.60,499.92 L401.37,501.34 L402.14,502.64 L402.92,503.83 L403.69,504.92 L404.46,505.90 L405.23,506.77 L406.01,507.54 L406.78,508.22 L407.55,508.80 L408.32,509.29 L409.09,509.68 L409.87,509.99 L410.64,510.21 L411.41,510.34 L412.18,510.40 L412.95,510.37 L413.73,510.27 L414.50,510.10 L415.27,509.85 L416.04,509.54 L416.81,509.16 L417.59,508.71 L418.36,508.21 L419.13,507.64 L419.90,507.02 L420.68,506.34 L421.45,505.61 L422.22,504.83 L422.99,504.01 L423.76,503.14 L424.54,502.23 L425.31,501.29 L426.08,500.31 L426.85,499.29 L427.62,498.25 L428.40,497.18 L429.17,496.09 L429.94,494.98 L430.71,493.85 L431.48,492.71 L432.26,491.56 L433.03,490.39 L433.80,489.22 L434.57,488.05 L435.35,486.87 L436.12,485.70 L436.89,484.53 L437.66,483.37 L438.43,482.23 L439.21,481.09 L439.98,479.98 L440.75,478.88 L441.52,477.80 L442.29,476.75 L443.07,475.72 L443.84,474.71 L444.61,473.72 L445.38,472.75 L446.16,471.80 L446.93,470.88 L447.70,469.97 L448.47,469.08 L449.24,468.21 L450.02,467.36 L450.79,466.53 L451.56,465.71 L452.33,464.91 L453.10,464.13 L453.88,463.36 L454.65,462.61 L455.42,461.87 L456.19,461.15 L456.96,460.44 L457.74,459.75 L458.51,459.07 L459.28,458.40 L460.05,457.74 L460.83,457.10 L461.60,456.47 L462.37,455.85 L463.14,455.24 L463.91,454.64 L464.69,454.05 L465.46,453.47 L466.23,452.90 L467.00,452.34 L467.77,451.78 L468.55,451.24 L469.32,450.69 L470.09,450.15 L470.86,449.61 L471.63,449.08 L472.41,448.54 L473.18,448.00 L473.95,447.47 L474.72,446.93 L475.50,446.38 L476.27,445.84 L477.04,445.28 L477.81,444.72 L478.58,444.15 L479.36,443.58 L480.13,442.99 L480.90,442.39 L481.67,441.78 L482.44,441.16 L483.22,440.52 L483.99,439.87 L484.76,439.20 L485.53,438.51 L486.31,437.80 L487.08,437.08 L487.85,436.33 L488.62,435.58 L489.39,434.82 L490.17,434.06 L490.94,433.33 L491.71,432.63 L492.48,431.97 L493.25,431.36 L494.03,430.81 L494.80,430.33 L495.57,429.94 L496.34,429.64 L497.11,429.45 L497.89,429.38 L498.66,429.43 L499.43,429.62 L500.20,429.96 L500.98,430.45 L501.75,431.12 L502.52,431.97 L503.29,433.01 L504.06,434.25 L504.84,435.71" fill="none" stroke="#00007f" stroke-width="2" stroke-linejoin="round" stroke-linecap="butt"/>
</g>
<rect x="311.5" y="389.0" width="202.29999999999995" height="136.5" fill="none" stroke="#6a6a6a" stroke-width="1.2"/>
<text x="43.0" y="184.8" font-family="Liberation Serif" font-size="8.6" font-weight="normal" text-anchor="middle" fill="#262626" textLength="4.73" lengthAdjust="spacingAndGlyphs">0</text>
<text x="79.5" y="184.8" font-family="Liberation Serif" font-size="8.6" font-weight="normal" text-anchor="middle" fill="#262626" textLength="9.46" lengthAdjust="spacingAndGlyphs">20</text>
<text x="116.0" y="184.8" font-family="Liberation Serif" font-size="8.6" font-weight="normal" text-anchor="middle" fill="#262626" textLength="9.46" lengthAdjust="spacingAndGlyphs">40</text>
<text x="152.5" y="184.8" font-family="Liberation Serif" font-size="8.6" font-weight="normal" text-anchor="middle" fill="#262626" textLength="9.46" lengthAdjust="spacingAndGlyphs">60</text>
<text x="189.0" y="184.8" font-family="Liberation Serif" font-size="8.6" font-weight="normal" text-anchor="middle" fill="#262626" textLength="9.46" lengthAdjust="spacingAndGlyphs">80</text>
<text x="225.5" y="184.8" font-family="Liberation Serif" font-size="8.6" font-weight="normal" text-anchor="middle" fill="#262626" textLength="14.19" lengthAdjust="spacingAndGlyphs">100</text>
<text x="32.2" y="161.5" font-family="Liberation Serif" font-size="8.6" font-weight="normal" text-anchor="end" fill="#262626" textLength="14.8" lengthAdjust="spacingAndGlyphs">−10</text>
<text x="32.2" y="137.4" font-family="Liberation Serif" font-size="8.6" font-weight="normal" text-anchor="end" fill="#262626" textLength="4.73" lengthAdjust="spacingAndGlyphs">0</text>
<text x="32.2" y="113.30000000000001" font-family="Liberation Serif" font-size="8.6" font-weight="normal" text-anchor="end" fill="#262626" textLength="9.46" lengthAdjust="spacingAndGlyphs">10</text>
<text x="32.2" y="89.2" font-family="Liberation Serif" font-size="8.6" font-weight="normal" text-anchor="end" fill="#262626" textLength="9.46" lengthAdjust="spacingAndGlyphs">20</text>
<text x="32.2" y="65.1" font-family="Liberation Serif" font-size="8.6" font-weight="normal" text-anchor="end" fill="#262626" textLength="9.46" lengthAdjust="spacingAndGlyphs">30</text>
<text x="321.3" y="185.5" font-family="Liberation Serif" font-size="8.6" font-weight="normal" text-anchor="middle" fill="#262626" textLength="4.73" lengthAdjust="spacingAndGlyphs">0</text>
<text x="358.04" y="185.5" font-family="Liberation Serif" font-size="8.6" font-weight="normal" text-anchor="middle" fill="#262626" textLength="9.46" lengthAdjust="spacingAndGlyphs">20</text>
<text x="394.78000000000003" y="185.5" font-family="Liberation Serif" font-size="8.6" font-weight="normal" text-anchor="middle" fill="#262626" textLength="9.46" lengthAdjust="spacingAndGlyphs">40</text>
<text x="431.52" y="185.5" font-family="Liberation Serif" font-size="8.6" font-weight="normal" text-anchor="middle" fill="#262626" textLength="9.46" lengthAdjust="spacingAndGlyphs">60</text>
<text x="468.26" y="185.5" font-family="Liberation Serif" font-size="8.6" font-weight="normal" text-anchor="middle" fill="#262626" textLength="9.46" lengthAdjust="spacingAndGlyphs">80</text>
<text x="505.0" y="185.5" font-family="Liberation Serif" font-size="8.6" font-weight="normal" text-anchor="middle" fill="#262626" textLength="14.19" lengthAdjust="spacingAndGlyphs">100</text>
<text x="310.7" y="158.95000000000002" font-family="Liberation Serif" font-size="8.6" font-weight="normal" text-anchor="end" fill="#262626" textLength="14.8" lengthAdjust="spacingAndGlyphs">−10</text>
<text x="310.7" y="135.20000000000002" font-family="Liberation Serif" font-size="8.6" font-weight="normal" text-anchor="end" fill="#262626" textLength="4.73" lengthAdjust="spacingAndGlyphs">0</text>
<text x="310.7" y="111.45000000000002" font-family="Liberation Serif" font-size="8.6" font-weight="normal" text-anchor="end" fill="#262626" textLength="9.46" lengthAdjust="spacingAndGlyphs">10</text>
<text x="310.7" y="87.70000000000002" font-family="Liberation Serif" font-size="8.6" font-weight="normal" text-anchor="end" fill="#262626" textLength="9.46" lengthAdjust="spacingAndGlyphs">20</text>
<text x="310.7" y="63.95000000000001" font-family="Liberation Serif" font-size="8.6" font-weight="normal" text-anchor="end" fill="#262626" textLength="9.46" lengthAdjust="spacingAndGlyphs">30</text>
<text x="44.7" y="354.4" font-family="Liberation Serif" font-size="8.6" font-weight="normal" text-anchor="middle" fill="#262626" textLength="4.73" lengthAdjust="spacingAndGlyphs">0</text>
<text x="80.2" y="354.4" font-family="Liberation Serif" font-size="8.6" font-weight="normal" text-anchor="middle" fill="#262626" textLength="9.46" lengthAdjust="spacingAndGlyphs">20</text>
<text x="115.7" y="354.4" font-family="Liberation Serif" font-size="8.6" font-weight="normal" text-anchor="middle" fill="#262626" textLength="9.46" lengthAdjust="spacingAndGlyphs">40</text>
<text x="151.2" y="354.4" font-family="Liberation Serif" font-size="8.6" font-weight="normal" text-anchor="middle" fill="#262626" textLength="9.46" lengthAdjust="spacingAndGlyphs">60</text>
<text x="186.7" y="354.4" font-family="Liberation Serif" font-size="8.6" font-weight="normal" text-anchor="middle" fill="#262626" textLength="9.46" lengthAdjust="spacingAndGlyphs">80</text>
<text x="222.2" y="354.4" font-family="Liberation Serif" font-size="8.6" font-weight="normal" text-anchor="middle" fill="#262626" textLength="14.19" lengthAdjust="spacingAndGlyphs">100</text>
<text x="34.6" y="345.2" font-family="Liberation Sans" font-size="8.5" font-weight="normal" text-anchor="end" fill="#262626" textLength="4.73" lengthAdjust="spacingAndGlyphs">0</text>
<text x="34.6" y="317.09999999999997" font-family="Liberation Sans" font-size="8.5" font-weight="normal" text-anchor="end" fill="#262626" textLength="9.45" lengthAdjust="spacingAndGlyphs">20</text>
<text x="34.6" y="289.0" font-family="Liberation Sans" font-size="8.5" font-weight="normal" text-anchor="end" fill="#262626" textLength="9.45" lengthAdjust="spacingAndGlyphs">40</text>
<text x="34.6" y="260.9" font-family="Liberation Sans" font-size="8.5" font-weight="normal" text-anchor="end" fill="#262626" textLength="9.45" lengthAdjust="spacingAndGlyphs">60</text>
<text x="34.6" y="232.8" font-family="Liberation Sans" font-size="8.5" font-weight="normal" text-anchor="end" fill="#262626" textLength="9.45" lengthAdjust="spacingAndGlyphs">80</text>
<text x="321.3" y="359.5" font-family="Liberation Serif" font-size="8.6" font-weight="normal" text-anchor="middle" fill="#262626" textLength="4.73" lengthAdjust="spacingAndGlyphs">0</text>
<text x="358.04" y="359.5" font-family="Liberation Serif" font-size="8.6" font-weight="normal" text-anchor="middle" fill="#262626" textLength="9.46" lengthAdjust="spacingAndGlyphs">20</text>
<text x="394.78000000000003" y="359.5" font-family="Liberation Serif" font-size="8.6" font-weight="normal" text-anchor="middle" fill="#262626" textLength="9.46" lengthAdjust="spacingAndGlyphs">40</text>
<text x="431.52" y="359.5" font-family="Liberation Serif" font-size="8.6" font-weight="normal" text-anchor="middle" fill="#262626" textLength="9.46" lengthAdjust="spacingAndGlyphs">60</text>
<text x="468.26" y="359.5" font-family="Liberation Serif" font-size="8.6" font-weight="normal" text-anchor="middle" fill="#262626" textLength="9.46" lengthAdjust="spacingAndGlyphs">80</text>
<text x="505.0" y="359.5" font-family="Liberation Serif" font-size="8.6" font-weight="normal" text-anchor="middle" fill="#262626" textLength="14.19" lengthAdjust="spacingAndGlyphs">100</text>
<text x="310.6" y="348.9" font-family="Liberation Sans" font-size="8.5" font-weight="normal" text-anchor="end" fill="#262626" textLength="4.73" lengthAdjust="spacingAndGlyphs">0</text>
<text x="310.6" y="320.4" font-family="Liberation Sans" font-size="8.5" font-weight="normal" text-anchor="end" fill="#262626" textLength="9.45" lengthAdjust="spacingAndGlyphs">20</text>
<text x="310.6" y="291.9" font-family="Liberation Sans" font-size="8.5" font-weight="normal" text-anchor="end" fill="#262626" textLength="9.45" lengthAdjust="spacingAndGlyphs">40</text>
<text x="310.6" y="263.4" font-family="Liberation Sans" font-size="8.5" font-weight="normal" text-anchor="end" fill="#262626" textLength="9.45" lengthAdjust="spacingAndGlyphs">60</text>
<text x="310.6" y="234.9" font-family="Liberation Sans" font-size="8.5" font-weight="normal" text-anchor="end" fill="#262626" textLength="9.45" lengthAdjust="spacingAndGlyphs">80</text>
<text x="43.1" y="529.4" font-family="Liberation Serif" font-size="8.6" font-weight="normal" text-anchor="middle" fill="#262626" textLength="4.73" lengthAdjust="spacingAndGlyphs">0</text>
<text x="79.30000000000001" y="529.4" font-family="Liberation Serif" font-size="8.6" font-weight="normal" text-anchor="middle" fill="#262626" textLength="9.46" lengthAdjust="spacingAndGlyphs">20</text>
<text x="115.5" y="529.4" font-family="Liberation Serif" font-size="8.6" font-weight="normal" text-anchor="middle" fill="#262626" textLength="9.46" lengthAdjust="spacingAndGlyphs">40</text>
<text x="151.70000000000002" y="529.4" font-family="Liberation Serif" font-size="8.6" font-weight="normal" text-anchor="middle" fill="#262626" textLength="9.46" lengthAdjust="spacingAndGlyphs">60</text>
<text x="187.9" y="529.4" font-family="Liberation Serif" font-size="8.6" font-weight="normal" text-anchor="middle" fill="#262626" textLength="9.46" lengthAdjust="spacingAndGlyphs">80</text>
<text x="224.1" y="529.4" font-family="Liberation Serif" font-size="8.6" font-weight="normal" text-anchor="middle" fill="#262626" textLength="14.19" lengthAdjust="spacingAndGlyphs">100</text>
<text x="32.2" y="522.1" font-family="Liberation Serif" font-size="8.6" font-weight="normal" text-anchor="end" fill="#262626" textLength="14.8" lengthAdjust="spacingAndGlyphs">−30</text>
<text x="32.2" y="492.59999999999997" font-family="Liberation Serif" font-size="8.6" font-weight="normal" text-anchor="end" fill="#262626" textLength="14.8" lengthAdjust="spacingAndGlyphs">−20</text>
<text x="32.2" y="463.09999999999997" font-family="Liberation Serif" font-size="8.6" font-weight="normal" text-anchor="end" fill="#262626" textLength="14.8" lengthAdjust="spacingAndGlyphs">−10</text>
<text x="32.2" y="433.59999999999997" font-family="Liberation Serif" font-size="8.6" font-weight="normal" text-anchor="end" fill="#262626" textLength="4.73" lengthAdjust="spacingAndGlyphs">0</text>
<text x="32.2" y="404.09999999999997" font-family="Liberation Serif" font-size="8.6" font-weight="normal" text-anchor="end" fill="#262626" textLength="9.46" lengthAdjust="spacingAndGlyphs">10</text>
<text x="320.3" y="534.0" font-family="Liberation Serif" font-size="8.6" font-weight="normal" text-anchor="middle" fill="#262626" textLength="4.73" lengthAdjust="spacingAndGlyphs">0</text>
<text x="357.58000000000004" y="534.0" font-family="Liberation Serif" font-size="8.6" font-weight="normal" text-anchor="middle" fill="#262626" textLength="9.46" lengthAdjust="spacingAndGlyphs">20</text>
<text x="394.86" y="534.0" font-family="Liberation Serif" font-size="8.6" font-weight="normal" text-anchor="middle" fill="#262626" textLength="9.46" lengthAdjust="spacingAndGlyphs">40</text>
<text x="432.14" y="534.0" font-family="Liberation Serif" font-size="8.6" font-weight="normal" text-anchor="middle" fill="#262626" textLength="9.46" lengthAdjust="spacingAndGlyphs">60</text>
<text x="469.42" y="534.0" font-family="Liberation Serif" font-size="8.6" font-weight="normal" text-anchor="middle" fill="#262626" textLength="9.46" lengthAdjust="spacingAndGlyphs">80</text>
<text x="506.70000000000005" y="534.0" font-family="Liberation Serif" font-size="8.6" font-weight="normal" text-anchor="middle" fill="#262626" textLength="14.19" lengthAdjust="spacingAndGlyphs">100</text>
<text x="309.2" y="528.4" font-family="Liberation Serif" font-size="8.6" font-weight="normal" text-anchor="end" fill="#262626" textLength="14.8" lengthAdjust="spacingAndGlyphs">−30</text>
<text x="309.2" y="500.0" font-family="Liberation Serif" font-size="8.6" font-weight="normal" text-anchor="end" fill="#262626" textLength="14.8" lengthAdjust="spacingAndGlyphs">−20</text>
<text x="309.2" y="471.59999999999997" font-family="Liberation Serif" font-size="8.6" font-weight="normal" text-anchor="end" fill="#262626" textLength="14.8" lengthAdjust="spacingAndGlyphs">−10</text>
<text x="309.2" y="443.2" font-family="Liberation Serif" font-size="8.6" font-weight="normal" text-anchor="end" fill="#262626" textLength="4.73" lengthAdjust="spacingAndGlyphs">0</text>
<text x="309.2" y="414.8" font-family="Liberation Serif" font-size="8.6" font-weight="normal" text-anchor="end" fill="#262626" textLength="9.46" lengthAdjust="spacingAndGlyphs">10</text>
<text x="13.9" y="110" font-family="Liberation Serif" font-size="8.8" font-weight="normal" text-anchor="middle" fill="#262626" textLength="70" lengthAdjust="spacingAndGlyphs" transform="rotate(-90 13.9 110)">Hip Flex/Ext (deg)</text>
<text x="292.4" y="109.7" font-family="Liberation Serif" font-size="8.8" font-weight="normal" text-anchor="middle" fill="#262626" textLength="70.5" lengthAdjust="spacingAndGlyphs" transform="rotate(-90 292.4 109.7)">Hip Flex/Ext (deg)</text>
<text x="22.0" y="281.5" font-family="Liberation Serif" font-size="8.8" font-weight="normal" text-anchor="middle" fill="#262626" textLength="73.5" lengthAdjust="spacingAndGlyphs" transform="rotate(-90 22.0 281.5)">Knee Flex/Ext (deg)</text>
<text x="298.8" y="281.9" font-family="Liberation Serif" font-size="8.8" font-weight="normal" text-anchor="middle" fill="#262626" textLength="72" lengthAdjust="spacingAndGlyphs" transform="rotate(-90 298.8 281.9)">Knee Flex/Ext (deg)</text>
<text x="14.5" y="454.8" font-family="Liberation Serif" font-size="8.8" font-weight="normal" text-anchor="middle" fill="#262626" textLength="71.7" lengthAdjust="spacingAndGlyphs" transform="rotate(-90 14.5 454.8)">Ankle DF/PF (deg)</text>
<text x="290.5" y="457.1" font-family="Liberation Serif" font-size="8.8" font-weight="normal" text-anchor="middle" fill="#262626" textLength="71" lengthAdjust="spacingAndGlyphs" transform="rotate(-90 290.5 457.1)">Ankle DF/PF (deg)</text>
<text x="106.8" y="537.7" font-family="Liberation Serif" font-size="8.8" font-weight="normal" text-anchor="start" fill="#262626" textLength="51.9" lengthAdjust="spacingAndGlyphs">Gait Cycle(%)</text>
<text x="385.7" y="543.2" font-family="Liberation Serif" font-size="8.8" font-weight="normal" text-anchor="start" fill="#262626" textLength="54.5" lengthAdjust="spacingAndGlyphs">Gait Cycle(%)</text>
<text x="79" y="11.7" font-family="Liberation Serif" font-size="10.3" font-weight="bold" text-anchor="start" fill="#111" textLength="100.8" lengthAdjust="spacingAndGlyphs">(A) Intra-participant</text>
<text x="349.2" y="11.7" font-family="Liberation Serif" font-size="10.3" font-weight="bold" text-anchor="start" fill="#111" textLength="98.8" lengthAdjust="spacingAndGlyphs">(B) Inter-participant</text>
<rect x="37.7" y="46.2" width="96.40" height="25.40" rx="2" fill="#fff" fill-opacity="0.8" stroke="#ececec" stroke-width="0.8"/>
<line x1="40.1" x2="57.3" y1="53.4" y2="53.4" stroke="#ff0a33" stroke-width="1.9"/>
<line x1="40.1" x2="57.3" y1="64.75" y2="64.75" stroke="#00007f" stroke-width="1.9"/>
<text x="63.2" y="56.15" font-family="Liberation Serif" font-size="8.8" font-weight="normal" text-anchor="start" fill="#262626" textLength="66.8" lengthAdjust="spacingAndGlyphs">Estimated Angles</text>
<text x="63.2" y="67.5" font-family="Liberation Serif" font-size="8.8" font-weight="normal" text-anchor="start" fill="#262626" textLength="67.4" lengthAdjust="spacingAndGlyphs">Reference Angles</text>
<rect x="39.6" y="219.4" width="93.60" height="25.00" rx="2" fill="#fff" fill-opacity="0.8" stroke="#ececec" stroke-width="0.8"/>
<line x1="41.9" x2="58.6" y1="226.0" y2="226.0" stroke="#ff0a33" stroke-width="1.9"/>
<line x1="41.9" x2="58.6" y1="237.1" y2="237.1" stroke="#00007f" stroke-width="1.9"/>
<text x="64.1" y="228.75" font-family="Liberation Serif" font-size="8.8" font-weight="normal" text-anchor="start" fill="#262626" textLength="65.7" lengthAdjust="spacingAndGlyphs">Estimated Angles</text>
<text x="64.1" y="239.85" font-family="Liberation Serif" font-size="8.8" font-weight="normal" text-anchor="start" fill="#262626" textLength="65.9" lengthAdjust="spacingAndGlyphs">Reference Angles</text>
<rect x="38.2" y="392.2" width="95.20" height="24.50" rx="2" fill="#fff" fill-opacity="0.8" stroke="#ececec" stroke-width="0.8"/>
<line x1="40.2" x2="57.2" y1="398.6" y2="398.6" stroke="#ff0a33" stroke-width="1.9"/>
<line x1="40.2" x2="57.2" y1="409.9" y2="409.9" stroke="#00007f" stroke-width="1.9"/>
<text x="63.1" y="401.35" font-family="Liberation Serif" font-size="8.8" font-weight="normal" text-anchor="start" fill="#262626" textLength="66.9" lengthAdjust="spacingAndGlyphs">Estimated Angles</text>
<text x="63.1" y="412.65" font-family="Liberation Serif" font-size="8.8" font-weight="normal" text-anchor="start" fill="#262626" textLength="67.0" lengthAdjust="spacingAndGlyphs">Reference Angles</text>
<rect x="316.3" y="47.3" width="96.90" height="24.80" rx="2" fill="#fff" fill-opacity="0.8" stroke="#ececec" stroke-width="0.8"/>
<line x1="319.1" x2="335.9" y1="53.6" y2="53.6" stroke="#ff0a33" stroke-width="1.9"/>
<line x1="319.1" x2="335.9" y1="65.0" y2="65.0" stroke="#00007f" stroke-width="1.9"/>
<text x="342.0" y="56.35" font-family="Liberation Serif" font-size="8.8" font-weight="normal" text-anchor="start" fill="#262626" textLength="67.6" lengthAdjust="spacingAndGlyphs">Estimated Angles</text>
<text x="342.0" y="67.75" font-family="Liberation Serif" font-size="8.8" font-weight="normal" text-anchor="start" fill="#262626" textLength="68.0" lengthAdjust="spacingAndGlyphs">Reference Angles</text>
<rect x="316.2" y="220.3" width="97.00" height="25.10" rx="2" fill="#fff" fill-opacity="0.8" stroke="#ececec" stroke-width="0.8"/>
<line x1="319.2" x2="335.9" y1="227.0" y2="227.0" stroke="#ff0a33" stroke-width="1.9"/>
<line x1="319.2" x2="335.9" y1="238.4" y2="238.4" stroke="#00007f" stroke-width="1.9"/>
<text x="341.8" y="229.75" font-family="Liberation Serif" font-size="8.8" font-weight="normal" text-anchor="start" fill="#262626" textLength="68.2" lengthAdjust="spacingAndGlyphs">Estimated Angles</text>
<text x="341.8" y="241.15" font-family="Liberation Serif" font-size="8.8" font-weight="normal" text-anchor="start" fill="#262626" textLength="68.2" lengthAdjust="spacingAndGlyphs">Reference Angles</text>
<rect x="314.9" y="392.8" width="98.50" height="25.50" rx="2" fill="#fff" fill-opacity="0.8" stroke="#ececec" stroke-width="0.8"/>
<line x1="317.8" x2="334.8" y1="399.4" y2="399.4" stroke="#ff0a33" stroke-width="1.9"/>
<line x1="317.8" x2="334.8" y1="410.9" y2="410.9" stroke="#00007f" stroke-width="1.9"/>
<text x="341.1" y="402.15" font-family="Liberation Serif" font-size="8.8" font-weight="normal" text-anchor="start" fill="#262626" textLength="68.9" lengthAdjust="spacingAndGlyphs">Estimated Angles</text>
<text x="341.1" y="413.65" font-family="Liberation Serif" font-size="8.8" font-weight="normal" text-anchor="start" fill="#262626" textLength="68.9" lengthAdjust="spacingAndGlyphs">Reference Angles</text>
</svg>
</body></html>
